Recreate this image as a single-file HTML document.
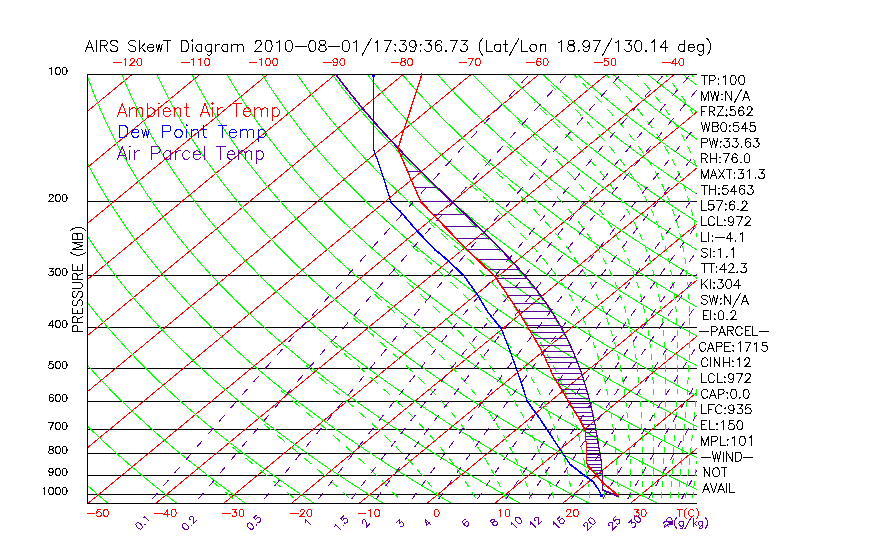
<!DOCTYPE html><html><head><meta charset="utf-8"><style>html,body{margin:0;padding:0;background:#fff;width:870px;height:560px;overflow:hidden}svg{display:block}text{font-family:"Liberation Sans",sans-serif}</style></head><body>
<svg width="870" height="560" viewBox="0 0 870 560">
<defs><clipPath id="c"><rect x="87" y="74" width="610" height="429"/></clipPath></defs>
<rect width="870" height="560" fill="#fff"/>
<g clip-path="url(#c)" fill="none" stroke-width="1" shape-rendering="crispEdges">
<path d="M87 201.5 H697" stroke="#000"/>
<path d="M87 275.5 H697" stroke="#000"/>
<path d="M87 327.5 H697" stroke="#000"/>
<path d="M87 368.5 H697" stroke="#000"/>
<path d="M87 401.5 H697" stroke="#000"/>
<path d="M87 429.5 H697" stroke="#000"/>
<path d="M87 453.5 H697" stroke="#000"/>
<path d="M87 475.5 H697" stroke="#000"/>
<path d="M87 494.5 H697" stroke="#000"/>
<path d="M-658.8 503.3 L-140.1 74.3" stroke="#ff0000" transform="translate(0.5 0.5)"/>
<path d="M-591.0 503.3 L-72.3 74.3" stroke="#ff0000" transform="translate(0.5 0.5)"/>
<path d="M-523.2 503.3 L-4.5 74.3" stroke="#ff0000" transform="translate(0.5 0.5)"/>
<path d="M-455.4 503.3 L63.3 74.3" stroke="#ff0000" transform="translate(0.5 0.5)"/>
<path d="M-387.6 503.3 L131.1 74.3" stroke="#ff0000" transform="translate(0.5 0.5)"/>
<path d="M-319.8 503.3 L198.9 74.3" stroke="#ff0000" transform="translate(0.5 0.5)"/>
<path d="M-252.0 503.3 L266.7 74.3" stroke="#ff0000" transform="translate(0.5 0.5)"/>
<path d="M-184.2 503.3 L334.5 74.3" stroke="#ff0000" transform="translate(0.5 0.5)"/>
<path d="M-116.4 503.3 L402.3 74.3" stroke="#ff0000" transform="translate(0.5 0.5)"/>
<path d="M-48.6 503.3 L470.1 74.3" stroke="#ff0000" transform="translate(0.5 0.5)"/>
<path d="M19.2 503.3 L537.9 74.3" stroke="#ff0000" transform="translate(0.5 0.5)"/>
<path d="M87.0 503.3 L605.7 74.3" stroke="#ff0000" transform="translate(0.5 0.5)"/>
<path d="M154.8 503.3 L673.5 74.3" stroke="#ff0000" transform="translate(0.5 0.5)"/>
<path d="M222.6 503.3 L741.3 74.3" stroke="#ff0000" transform="translate(0.5 0.5)"/>
<path d="M290.4 503.3 L809.1 74.3" stroke="#ff0000" transform="translate(0.5 0.5)"/>
<path d="M358.2 503.3 L876.9 74.3" stroke="#ff0000" transform="translate(0.5 0.5)"/>
<path d="M426.0 503.3 L944.7 74.3" stroke="#ff0000" transform="translate(0.5 0.5)"/>
<path d="M493.8 503.3 L1012.5 74.3" stroke="#ff0000" transform="translate(0.5 0.5)"/>
<path d="M561.6 503.3 L1080.3 74.3" stroke="#ff0000" transform="translate(0.5 0.5)"/>
<path d="M629.4 503.3 L1148.1 74.3" stroke="#ff0000" transform="translate(0.5 0.5)"/>
<path d="M697.2 503.3 L1215.9 74.3" stroke="#ff0000" transform="translate(0.5 0.5)"/>
<path d="M239.2 503.3 L238.9 503.0M232.6 497.9 L224.9 491.7M218.7 486.6 L211.1 480.4" stroke="#00ff00" transform="translate(0.5 0.5)"/>
<path d="M300.0 503.3 L299.6 503.0M293.7 497.9 L286.3 491.7M280.3 486.6 L272.8 480.4M266.6 475.3 L259.1 469.0M252.6 463.7 L245.0 457.4M238.9 452.4 L232.2 446.7" stroke="#00ff00" transform="translate(0.5 0.5)"/>
<path d="M354.9 503.3 L354.6 503.0M349.1 497.8 L342.5 491.6M336.8 486.4 L330.0 480.2M324.1 475.0 L317.0 468.9M311.0 463.6 L303.7 457.4M297.7 452.4 L290.3 446.1M284.3 441.0 L276.5 434.5M270.4 429.4 L263.0 423.2" stroke="#00ff00" transform="translate(0.5 0.5)"/>
<path d="M402.8 503.3 L402.5 502.9M398.1 497.9 L392.2 491.5M387.5 486.5 L381.5 480.2M376.3 475.0 L370.0 468.9M364.6 463.6 L358.0 457.5M352.3 452.3 L345.4 446.1M339.6 440.9 L332.5 434.7M326.6 429.5 L319.0 423.0M312.9 417.8 L305.6 411.5M299.3 406.2 L292.0 399.9M285.9 394.8 L280.2 389.9" stroke="#00ff00" transform="translate(0.5 0.5)"/>
<path d="M443.6 503.3 L443.4 502.9M439.7 497.7 L435.3 491.8M431.2 486.5 L426.4 480.4M422.0 475.1 L416.7 469.0M412.3 464.0 L406.4 457.5M401.7 452.5 L395.4 446.1M390.2 440.9 L383.8 434.7M378.4 429.5 L371.4 423.0M365.7 417.8 L358.9 411.7M353.0 406.4 L345.6 400.0M339.7 394.8 L332.2 388.3M326.2 383.1 L318.7 376.6M312.7 371.4 L305.2 364.9" stroke="#00ff00" transform="translate(0.5 0.5)"/>
<path d="M478.2 503.3 L478.0 502.9M475.1 497.7 L471.6 491.8M468.5 486.6 L464.5 480.3M461.0 475.1 L456.6 468.7M453.2 464.0 L448.4 457.6M444.5 452.5 L439.2 446.1M435.0 441.1 L429.4 434.7M424.5 429.3 L418.8 423.2M413.7 417.9 L407.5 411.7M402.2 406.4 L395.5 400.0M389.9 394.8 L382.9 388.3M377.2 383.1 L370.0 376.6M364.1 371.4 L356.8 364.9M350.9 359.7 L343.5 353.1M337.2 347.6 L329.8 341.1" stroke="#00ff00" transform="translate(0.5 0.5)"/>
<path d="M507.6 503.3 L507.4 502.9M505.3 497.9 L502.4 491.7M499.9 486.3 L496.9 480.3M494.2 475.1 L490.8 468.7M488.1 464.0 L484.3 457.6M481.1 452.5 L476.9 446.1M473.4 440.9 L468.9 434.6M465.0 429.4 L460.2 423.2M455.9 417.9 L450.5 411.4M446.2 406.4 L440.4 400.0M435.4 394.6 L429.3 388.3M424.1 383.1 L417.5 376.6M412.2 371.4 L405.3 364.9M399.7 359.7 L392.6 353.1M386.5 347.6 L379.3 341.1M373.5 335.9 L366.2 329.4M359.9 323.9 L352.6 317.4" stroke="#00ff00" transform="translate(0.5 0.5)"/>
<path d="M532.7 503.3 L532.5 502.9M530.9 497.9 L528.8 491.7M526.9 486.3 L524.5 480.1M522.5 475.1 L519.9 468.9M517.8 464.0 L514.9 457.7M512.3 452.4 L509.1 446.1M506.3 440.9 L502.8 434.6M499.7 429.4 L495.8 423.1M492.4 417.9 L488.1 411.5M484.4 406.4 L479.7 400.0M475.5 394.6 L470.3 388.2M466.1 383.2 L460.5 376.7M455.7 371.4 L449.7 364.9M444.6 359.7 L438.1 353.1M432.5 347.6 L425.8 341.1M420.3 335.9 L413.3 329.4M407.3 323.9 L400.2 317.4M394.5 312.2 L386.9 305.4M381.1 300.2 L373.6 293.4" stroke="#00ff00" transform="translate(0.5 0.5)"/>
<path d="M554.4 503.3 L554.3 502.9M553.1 497.9 L551.5 491.7M550.0 486.3 L548.3 480.1M546.8 475.1 L544.8 468.9M543.2 464.0 L541.0 457.7M539.0 452.4 L536.6 446.1M534.4 440.7 L531.7 434.5M529.4 429.6 L526.4 423.3M523.7 417.9 L520.3 411.5M517.4 406.4 L513.6 400.0M510.4 394.9 L506.0 388.1M502.5 382.9 L497.9 376.6M494.0 371.4 L489.0 364.9M484.6 359.6 L479.1 353.1M474.4 347.8 L468.5 341.4M463.4 336.0 L457.1 329.4M451.6 323.9 L444.9 317.4M439.5 312.2 L432.3 305.4M426.7 300.2 L419.4 293.4M413.7 288.2 L406.2 281.3M400.5 276.1 L393.0 269.3" stroke="#00ff00" transform="translate(0.5 0.5)"/>
<path d="M573.4 503.3 L573.3 502.9M572.4 497.9 L571.2 491.7M570.2 486.3 L568.9 480.1M567.8 475.1 L566.4 468.9M565.2 464.0 L563.5 457.7M562.1 452.4 L560.3 446.1M558.6 440.7 L556.6 434.5M554.9 429.6 L552.6 423.3M550.5 417.9 L548.0 411.7M545.6 406.3 L542.8 400.1M540.2 394.7 L536.8 388.1M534.0 382.9 L530.4 376.6M527.3 371.4 L523.0 364.7M519.5 359.5 L515.1 353.1M511.0 347.6 L506.2 341.4M501.9 336.0 L496.3 329.2M491.6 323.8 L485.8 317.4M480.8 312.0 L474.7 305.6M469.3 300.2 L462.5 293.4M457.1 288.2 L450.0 281.3M444.5 276.1 L437.2 269.3M431.3 263.8 L424.2 257.3M418.2 251.7 L410.9 244.9" stroke="#00ff00" transform="translate(0.5 0.5)"/>
<path d="M590.1 503.3 L590.0 502.9M589.4 497.9 L588.6 491.7M587.9 486.3 L587.0 480.1M586.2 475.1 L585.2 468.9M584.3 464.0 L583.2 457.7M582.1 452.4 L580.8 446.1M579.6 440.7 L578.1 434.5M576.9 429.6 L575.2 423.3M573.6 417.9 L571.7 411.7M570.0 406.3 L567.8 400.1M565.8 394.7 L563.4 388.5M561.2 383.1 L558.2 376.4M555.9 371.5 L552.6 364.7M549.9 359.5 L546.3 353.1M543.1 347.6 L539.1 341.2M535.8 336.1 L531.1 329.3M527.4 324.2 L522.3 317.4M518.0 312.0 L512.7 305.6M508.1 300.2 L502.1 293.4M497.2 288.1 L490.7 281.3M485.7 276.1 L478.9 269.3M473.3 263.8 L466.5 257.3M460.7 251.7 L453.5 244.9M447.6 239.4 L440.7 232.9M434.7 227.4 L427.8 220.9" stroke="#00ff00" transform="translate(0.5 0.5)"/>
<path d="M605.0 503.3 L604.9 502.9M604.6 497.9 L604.1 491.7M603.6 486.3 L603.0 480.1M602.5 475.1 L601.8 468.9M601.2 464.0 L600.4 457.7M599.7 452.4 L598.8 446.1M598.0 440.7 L596.9 434.5M596.0 429.6 L594.8 423.3M593.7 417.9 L592.4 411.7M591.1 406.3 L589.5 400.1M588.1 394.7 L586.2 388.5M584.6 383.1 L582.4 376.4M580.6 371.5 L578.1 364.8M576.0 359.4 L573.3 353.1M570.8 347.8 L567.7 341.2M565.0 336.1 L561.3 329.3M558.4 324.2 L554.2 317.4M550.9 312.2 L546.3 305.5M542.3 299.9 L537.5 293.4M533.3 288.1 L527.7 281.3M523.1 275.9 L517.4 269.5M512.2 263.8 L506.1 257.3M500.7 251.7 L493.9 244.9M488.3 239.4 L481.6 232.9M475.8 227.4 L468.7 220.6M462.8 215.0 L455.6 208.2M449.8 202.7 L446.3 199.4" stroke="#00ff00" transform="translate(0.5 0.5)"/>
<path d="M618.3 503.3 L618.3 502.9M618.1 497.9 L617.9 491.7M617.6 486.3 L617.3 480.1M617.0 475.1 L616.6 468.9M616.2 464.0 L615.8 457.7M615.3 452.4 L614.7 446.1M614.2 440.7 L613.5 434.5M612.9 429.6 L612.1 423.3M611.4 417.9 L610.4 411.7M609.6 406.3 L608.5 400.1M607.4 394.7 L606.1 388.5M605.0 383.1 L603.3 376.4M602.1 371.5 L600.2 364.8M598.6 359.4 L596.6 353.1M594.8 347.8 L592.3 341.1M590.2 335.7 L587.6 329.5M585.2 324.1 L582.0 317.4M579.4 312.2 L575.7 305.5M572.5 299.9 L568.7 293.6M565.1 288.0 L560.5 281.3M556.8 276.1 L551.8 269.5M547.3 263.8 L542.0 257.3M537.2 251.6 L531.4 245.2M526.2 239.5 L519.8 232.7M514.6 227.4 L507.9 220.6M502.3 215.0 L495.3 208.2M489.6 202.7 L482.5 195.9M476.7 190.3 L469.6 183.5" stroke="#00ff00" transform="translate(0.5 0.5)"/>
<path d="M630.4 503.3 L630.4 502.9M630.4 497.9 L630.3 491.7M630.2 486.3 L630.1 480.1M630.0 475.1 L629.8 468.9M629.7 464.0 L629.5 457.7M629.3 452.4 L629.0 446.1M628.7 440.7 L628.3 434.5M627.9 429.6 L627.5 423.3M627.0 417.9 L626.4 411.7M625.9 406.3 L625.2 400.1M624.5 394.7 L623.6 388.5M622.8 383.1 L621.7 376.4M620.8 371.5 L619.5 364.8M618.4 359.4 L617.0 353.1M615.6 347.8 L613.8 341.1M612.3 335.7 L610.3 329.5M608.5 324.1 L606.1 317.4M604.0 312.0 L601.2 305.3M598.8 300.0 L595.6 293.3M592.9 288.0 L589.3 281.3M586.3 276.1 L582.1 269.3M578.5 263.8 L573.9 257.0M570.2 251.9 L565.1 245.2M560.6 239.5 L555.0 232.7M550.3 227.3 L544.3 220.5M539.3 215.2 L532.9 208.4M527.4 202.7 L520.6 195.9M515.0 190.3 L508.1 183.5M502.4 178.0 L495.3 171.2M489.3 165.3 L482.6 158.8" stroke="#00ff00" transform="translate(0.5 0.5)"/>
<path d="M641.4 503.3 L641.4 502.9M641.5 497.9 L641.6 491.7M641.7 486.3 L641.8 480.1M641.8 475.1 L641.8 468.9M641.8 464.0 L641.8 457.7M641.8 452.4 L641.7 446.1M641.7 440.7 L641.5 434.5M641.4 429.6 L641.2 423.3M641.0 417.9 L640.7 411.7M640.4 406.3 L640.0 400.1M639.6 394.7 L639.1 388.5M638.6 383.1 L637.9 376.4M637.4 371.5 L636.5 364.8M635.8 359.4 L634.8 353.1M633.9 347.8 L632.6 341.1M631.5 335.7 L630.1 329.5M628.8 324.1 L627.1 317.4M625.5 312.0 L623.4 305.3M621.6 300.0 L619.2 293.3M617.1 287.9 L614.5 281.7M611.9 275.8 L608.7 269.1M605.9 263.8 L602.2 257.0M599.2 251.9 L595.0 245.1M591.3 239.5 L586.6 232.8M582.5 227.2 L577.4 220.5M573.1 215.2 L567.4 208.4M562.4 202.6 L556.3 195.9M550.9 190.1 L544.4 183.3M539.2 178.0 L532.5 171.2M526.6 165.3 L519.6 158.5M514.0 153.0 L506.6 145.8M501.0 140.3 L500.0 139.3" stroke="#00ff00" transform="translate(0.5 0.5)"/>
<path d="M651.5 503.3 L651.5 502.9M651.7 497.9 L651.9 491.7M652.1 486.3 L652.4 480.1M652.5 475.1 L652.7 468.9M652.9 464.0 L653.1 457.7M653.2 452.4 L653.3 446.1M653.4 440.7 L653.5 434.5M653.5 429.6 L653.6 423.3M653.6 417.9 L653.5 411.7M653.4 406.3 L653.3 400.1M653.2 394.7 L653.0 388.5M652.7 383.1 L652.4 376.4M652.1 371.5 L651.6 364.8M651.2 359.4 L650.6 353.1M650.0 347.8 L649.2 341.1M648.5 335.7 L647.5 329.5M646.7 324.1 L645.4 317.4M644.4 312.0 L642.9 305.3M641.6 300.0 L639.8 293.3M638.3 287.9 L636.3 281.7M634.4 275.8 L631.9 269.1M629.8 263.8 L626.9 257.1M624.5 251.7 L621.2 245.1M618.3 239.5 L614.5 232.8M611.2 227.2 L606.9 220.5M603.1 214.9 L598.3 208.2M594.2 202.6 L588.9 195.9M584.2 190.1 L578.4 183.3M573.6 178.0 L567.1 170.8M562.0 165.5 L555.2 158.3M549.9 153.0 L542.8 145.8M537.2 140.3 L530.3 133.5M524.4 127.6 L517.5 120.8" stroke="#00ff00" transform="translate(0.5 0.5)"/>
<path d="M660.7 503.3 L660.7 502.9M661.0 497.9 L661.4 491.7M661.7 486.3 L662.1 480.1M662.4 475.1 L662.7 468.9M663.0 464.0 L663.3 457.7M663.6 452.4 L663.9 446.1M664.1 440.7 L664.4 434.5M664.6 429.6 L664.8 423.3M664.9 417.9 L665.1 411.7M665.2 406.3 L665.3 400.1M665.4 394.7 L665.4 388.5M665.4 383.1 L665.3 376.4M665.3 371.5 L665.1 364.8M664.9 359.4 L664.7 353.1M664.4 347.8 L663.9 341.1M663.5 335.7 L663.0 329.5M662.5 324.1 L661.7 317.4M661.0 312.0 L660.0 305.3M659.1 300.0 L657.9 293.3M656.8 287.9 L655.5 281.7M654.0 275.8 L652.2 269.1M650.7 263.8 L648.6 257.1M646.7 251.7 L644.2 245.0M642.0 239.6 L639.1 232.9M636.3 227.1 L633.0 220.5M629.9 214.9 L626.0 208.2M622.6 202.6 L618.2 195.9M614.3 190.3 L609.3 183.5M605.1 178.0 L599.3 170.8M594.8 165.5 L588.5 158.3M583.7 153.0 L577.1 145.8M572.0 140.4 L565.2 133.5M559.5 127.6 L552.7 120.8M546.8 114.9 L539.9 108.1M534.1 102.2 L533.7 101.9" stroke="#00ff00" transform="translate(0.5 0.5)"/>
<path d="M669.3 503.3 L669.3 502.9M669.7 497.9 L670.1 491.7M670.6 486.3 L671.0 480.1M671.4 475.1 L671.9 468.9M672.2 464.0 L672.7 457.7M673.1 452.4 L673.5 446.1M673.9 440.7 L674.3 434.5M674.6 429.6 L675.0 423.3M675.3 417.9 L675.7 411.7M675.9 406.3 L676.2 400.1M676.5 394.7 L676.7 388.5M676.9 383.1 L677.1 376.4M677.2 371.5 L677.3 364.8M677.3 359.4 L677.3 353.1M677.3 347.8 L677.2 341.1M677.0 335.7 L676.8 329.5M676.5 324.1 L676.2 317.4M675.8 312.0 L675.2 305.3M674.7 300.0 L673.9 293.3M673.2 287.9 L672.3 281.7M671.4 275.8 L670.1 269.1M669.0 263.8 L667.5 257.1M666.2 251.7 L664.3 245.0M662.7 239.6 L660.5 232.9M658.4 227.1 L655.8 220.4M653.6 215.1 L650.5 208.4M647.7 202.6 L644.1 195.9M641.0 190.3 L636.9 183.5M633.3 178.0 L628.4 170.8M624.4 165.3 L619.1 158.3M614.9 153.0 L608.9 145.8M604.3 140.4 L597.9 133.3M592.7 127.6 L586.3 120.8M580.8 115.1 L574.0 108.1M568.2 102.2 L561.5 95.4M555.6 89.6 L550.1 84.1" stroke="#00ff00" transform="translate(0.5 0.5)"/>
<path d="M677.2 503.3 L677.2 502.9M677.7 497.9 L678.2 491.7M678.7 486.3 L679.3 480.1M679.8 475.1 L680.3 468.9M680.8 464.0 L681.4 457.7M681.9 452.4 L682.4 446.1M682.9 440.7 L683.4 434.5M683.9 429.6 L684.4 423.3M684.8 417.9 L685.3 411.7M685.7 406.3 L686.2 400.1M686.6 394.7 L687.0 388.5M687.3 383.1 L687.7 376.4M688.0 371.5 L688.3 364.8M688.5 359.4 L688.8 353.1M688.9 347.8 L689.1 341.1M689.2 335.7 L689.2 329.5M689.2 324.1 L689.1 317.4M689.0 312.0 L688.8 305.3M688.6 300.0 L688.2 293.3M687.8 287.9 L687.3 281.7M686.7 275.8 L686.0 269.1M685.3 263.8 L684.3 257.1M683.4 251.7 L682.1 245.0M681.0 239.6 L679.4 232.9M677.9 227.1 L675.9 220.4M674.2 215.1 L671.9 208.4M669.7 202.6 L667.0 195.9M664.6 190.5 L661.2 183.3M658.4 178.0 L654.4 170.8M651.1 165.3 L646.8 158.5M643.1 153.0 L638.0 145.8M634.0 140.4 L628.3 133.3M623.6 127.6 L617.8 120.8M612.7 115.1 L606.2 107.9M600.9 102.2 L594.4 95.4M588.9 89.7 L581.8 82.4M576.3 76.9 L573.8 74.3" stroke="#00ff00" transform="translate(0.5 0.5)"/>
<path d="M684.6 503.3 L684.6 502.9M685.1 497.9 L685.8 491.7M686.3 486.3 L687.0 480.1M687.5 475.1 L688.2 468.9M688.7 464.0 L689.4 457.7M690.0 452.4 L690.6 446.1M691.2 440.7 L691.9 434.5M692.4 429.6 L693.0 423.3M693.6 417.9 L694.2 411.7M694.7 406.3 L695.3 400.1M695.8 394.7 L696.4 388.5M696.9 383.1 L697.4 376.4M697.8 371.5 L698.4 364.8M698.7 359.4 L699.2 353.1M699.5 347.8 L699.9 341.1M700.2 335.7 L700.4 329.5M700.6 324.1 L700.8 317.4M700.9 312.0 L701.0 305.3M701.1 300.0 L701.0 293.3M700.9 287.9 L700.7 281.7M700.5 275.8 L700.1 269.1M699.7 263.8 L699.2 257.1M698.6 251.7 L697.8 245.0M697.1 239.6 L696.0 232.9M695.0 227.1 L693.7 220.4M692.5 215.1 L690.8 208.4M689.2 202.6 L687.1 195.9M685.3 190.5 L682.7 183.3M680.6 178.0 L677.4 170.8M674.9 165.5 L671.4 158.5M668.3 153.0 L664.1 145.8M660.6 140.2 L656.1 133.5M651.9 127.5 L646.8 120.8M642.3 115.1 L636.5 107.9M631.6 102.2 L625.6 95.4M620.4 89.7 L613.8 82.5M608.3 76.8 L605.9 74.3" stroke="#00ff00" transform="translate(0.5 0.5)"/>
<path d="M691.4 503.3 L691.5 502.9M692.1 497.9 L692.8 491.7M693.4 486.3 L694.2 480.1M694.8 475.1 L695.5 468.9M696.1 464.0 L696.9 457.7M697.5 452.4 L698.3 446.1M698.9 440.7 L699.7 434.5M700.3 429.6 L701.0 423.3M701.7 417.9 L702.4 411.7M703.1 406.3 L703.8 400.1M704.4 394.7 L705.1 388.5M705.7 383.1 L706.4 376.4M706.9 371.5 L707.6 364.8M708.1 359.4 L708.7 353.1M709.2 347.8 L709.8 341.1M710.2 335.7 L710.7 329.5M711.0 324.1 L711.5 317.4M711.8 312.0 L712.1 305.3M712.3 300.0 L712.6 293.3M712.7 287.9 L712.8 281.7M712.8 275.8 L712.8 269.1M712.7 263.8 L712.5 257.1M712.3 251.7 L711.9 245.0M711.5 239.6 L710.9 232.9M710.2 227.1 L709.4 220.4M708.6 215.1 L707.5 208.4M706.4 202.6 L704.9 195.9M703.6 190.5 L701.7 183.3M700.1 178.0 L697.8 170.8M695.8 165.5 L693.0 158.3M690.7 153.0 L687.3 145.8M684.5 140.2 L680.8 133.5M677.3 127.5 L673.1 120.8M669.1 114.8 L664.3 108.1M659.9 102.2 L654.6 95.4M649.9 89.7 L643.8 82.5M638.7 76.8 L636.5 74.3" stroke="#00ff00" transform="translate(0.5 0.5)"/>
<path d="M697.9 503.3 L698.0 502.9M698.6 497.9 L699.4 491.7M700.1 486.3 L700.9 480.1M701.5 475.1 L702.3 468.9M703.0 464.0 L703.8 457.7M704.5 452.4 L705.4 446.1M706.1 440.7 L707.0 434.5M707.6 429.6 L708.5 423.3M709.2 417.9 L710.0 411.7M710.8 406.3 L711.6 400.1M712.3 394.7 L713.1 388.5M713.8 383.1 L714.7 376.4M715.3 371.5 L716.1 364.8M716.7 359.4 L717.5 353.1M718.1 347.8 L718.8 341.1M719.4 335.7 L720.0 329.5M720.6 324.1 L721.2 317.4M721.7 312.0 L722.2 305.3M722.6 300.0 L723.1 293.3M723.4 287.9 L723.8 281.7M724.0 275.8 L724.3 269.1M724.4 263.8 L724.5 257.1M724.5 251.7 L724.5 245.0M724.4 239.6 L724.1 232.9M723.9 227.1 L723.4 220.4M723.0 215.1 L722.3 208.4M721.6 202.6 L720.7 195.9M719.8 190.5 L718.5 183.3M717.4 178.0 L715.7 170.8M714.3 165.5 L712.2 158.3M710.4 153.0 L707.9 145.8M705.7 140.4 L702.7 133.3M699.9 127.5 L696.5 120.8M693.3 114.8 L689.3 108.1M685.5 102.1 L681.0 95.4M676.7 89.4 L671.6 82.5M667.1 76.8 L665.1 74.3" stroke="#00ff00" transform="translate(0.5 0.5)"/>
<path d="M704.0 503.3 L704.0 502.9M704.7 497.9 L705.5 491.7M706.3 486.3 L707.1 480.1M707.8 475.1 L708.7 468.9M709.4 464.0 L710.3 457.7M711.1 452.4 L712.0 446.1M712.8 440.7 L713.8 434.5M714.5 429.6 L715.4 423.3M716.2 417.9 L717.1 411.7M717.9 406.3 L718.9 400.1M719.7 394.7 L720.6 388.5M721.4 383.1 L722.3 376.4M723.0 371.5 L724.0 364.8M724.7 359.4 L725.6 353.1M726.3 347.8 L727.2 341.1M727.9 335.7 L728.7 329.5M729.3 324.1 L730.1 317.4M730.7 312.0 L731.5 305.3M732.0 300.0 L732.7 293.3M733.2 287.9 L733.7 281.7M734.2 275.8 L734.7 269.1M735.0 263.8 L735.4 257.1M735.6 251.7 L735.9 245.0M736.0 239.6 L736.1 232.9M736.1 227.1 L736.0 220.4M735.9 215.1 L735.6 208.4M735.3 202.6 L734.8 195.9M734.3 190.5 L733.5 183.3M732.8 178.0 L731.7 170.8M730.7 165.5 L729.2 158.3M728.0 153.0 L726.1 145.8M724.5 140.4 L722.2 133.3M720.1 127.5 L717.4 120.8M714.9 115.0 L711.5 107.8M708.6 102.1 L704.8 95.4M701.3 89.4 L697.0 82.6M693.0 76.7 L691.3 74.3" stroke="#00ff00" transform="translate(0.5 0.5)"/>
<path d="M108.3 503.3 L104.0 499.7 L99.8 496.2 L95.6 492.6 L91.5 489.0 L87.5 485.4 L83.5 481.9 L79.5 478.3 L75.6 474.7 L71.7 471.1 L67.9 467.6 L64.1 464.0 L60.3 460.4 L56.6 456.8 L53.0 453.2 L49.4 449.7 L45.8 446.1 L42.3 442.5 L38.8 438.9 L35.4 435.4 L32.0 431.8 L28.7 428.2 L25.4 424.7 L22.1 421.1 L18.9 417.5 L15.7 413.9 L12.6 410.4 L9.5 406.8 L6.5 403.2 L3.5 399.6 L0.5 396.1 L-2.4 392.5 L-5.3 388.9 L-8.1 385.3 L-11.0 381.8 L-13.7 378.2 L-16.4 374.6 L-19.1 371.0 L-21.8 367.5 L-24.4 363.9 L-26.9 360.3 L-29.5 356.7 L-32.0 353.1 L-34.4 349.6 L-36.8 346.0 L-39.2 342.4 L-41.6 338.9 L-43.9 335.3 L-46.1 331.7 L-48.4 328.1 L-50.6 324.6 L-52.7 321.0 L-54.8 317.4 L-56.9 313.8 L-59.0 310.3 L-61.0 306.7 L-63.0 303.1 L-64.9 299.5 L-66.8 295.9 L-68.7 292.4 L-70.5 288.8 L-72.3 285.2 L-74.1 281.7 L-75.8 278.1 L-77.5 274.5 L-79.2 270.9 L-80.8 267.4 L-82.4 263.8 L-84.0 260.2 L-85.5 256.6 L-87.0 253.0 L-88.5 249.5 L-89.9 245.9 L-91.3 242.3 L-92.7 238.8 L-94.1 235.2 L-95.4 231.6 L-96.6 228.0 L-97.9 224.4 L-99.1 220.9 L-100.3 217.3 L-101.4 213.7 L-102.6 210.2 L-103.7 206.6 L-104.7 203.0 L-105.8 199.4 L-106.8 195.9 L-107.7 192.3 L-108.7 188.7 L-109.6 185.1 L-110.5 181.6 L-111.3 178.0 L-112.2 174.4 L-112.9 170.8 L-113.7 167.2 L-114.5 163.7 L-115.2 160.1 L-115.9 156.5 L-116.5 153.0 L-117.1 149.4 L-117.7 145.8 L-118.3 142.2 L-118.9 138.7 L-119.4 135.1 L-119.9 131.5 L-120.3 127.9 L-120.8 124.3 L-121.2 120.8 L-121.6 117.2 L-121.9 113.6 L-122.3 110.1 L-122.6 106.5 L-122.8 102.9 L-123.1 99.3 L-123.3 95.7 L-123.5 92.2 L-123.7 88.6 L-123.9 85.0 L-124.0 81.5 L-124.1 77.9 L-124.2 74.3" stroke="#00ff00" transform="translate(0.5 0.5)"/>
<path d="M177.0 503.3 L172.4 499.7 L167.8 496.2 L163.3 492.6 L158.8 489.0 L154.3 485.4 L149.9 481.9 L145.6 478.3 L141.3 474.7 L137.1 471.1 L132.9 467.6 L128.7 464.0 L124.6 460.4 L120.6 456.8 L116.6 453.2 L112.6 449.7 L108.7 446.1 L104.8 442.5 L101.0 438.9 L97.2 435.4 L93.5 431.8 L89.8 428.2 L86.2 424.7 L82.6 421.1 L79.0 417.5 L75.5 413.9 L72.0 410.4 L68.6 406.8 L65.2 403.2 L61.9 399.6 L58.6 396.1 L55.4 392.5 L52.2 388.9 L49.0 385.3 L45.9 381.8 L42.8 378.2 L39.7 374.6 L36.8 371.0 L33.8 367.5 L30.9 363.9 L28.0 360.3 L25.2 356.7 L22.4 353.1 L19.6 349.6 L16.9 346.0 L14.2 342.4 L11.6 338.9 L9.0 335.3 L6.4 331.7 L3.9 328.1 L1.4 324.6 L-1.0 321.0 L-3.5 317.4 L-5.8 313.8 L-8.2 310.3 L-10.5 306.7 L-12.7 303.1 L-14.9 299.5 L-17.1 295.9 L-19.3 292.4 L-21.4 288.8 L-23.5 285.2 L-25.5 281.7 L-27.5 278.1 L-29.5 274.5 L-31.4 270.9 L-33.3 267.4 L-35.2 263.8 L-37.0 260.2 L-38.8 256.6 L-40.6 253.0 L-42.3 249.5 L-44.0 245.9 L-45.7 242.3 L-47.3 238.8 L-48.9 235.2 L-50.5 231.6 L-52.0 228.0 L-53.5 224.4 L-54.9 220.9 L-56.4 217.3 L-57.8 213.7 L-59.1 210.2 L-60.5 206.6 L-61.8 203.0 L-63.1 199.4 L-64.3 195.9 L-65.5 192.3 L-66.7 188.7 L-67.8 185.1 L-69.0 181.6 L-70.0 178.0 L-71.1 174.4 L-72.1 170.8 L-73.1 167.2 L-74.1 163.7 L-75.0 160.1 L-75.9 156.5 L-76.8 153.0 L-77.7 149.4 L-78.5 145.8 L-79.3 142.2 L-80.0 138.7 L-80.8 135.1 L-81.5 131.5 L-82.2 127.9 L-82.8 124.3 L-83.4 120.8 L-84.0 117.2 L-84.6 113.6 L-85.1 110.1 L-85.7 106.5 L-86.1 102.9 L-86.6 99.3 L-87.0 95.7 L-87.4 92.2 L-87.8 88.6 L-88.2 85.0 L-88.5 81.5 L-88.8 77.9 L-89.1 74.3" stroke="#00ff00" transform="translate(0.5 0.5)"/>
<path d="M245.8 503.3 L240.7 499.7 L235.8 496.2 L230.9 492.6 L226.0 489.0 L221.2 485.4 L216.4 481.9 L211.7 478.3 L207.0 474.7 L202.4 471.1 L197.9 467.6 L193.4 464.0 L188.9 460.4 L184.5 456.8 L180.1 453.2 L175.8 449.7 L171.5 446.1 L167.3 442.5 L163.2 438.9 L159.0 435.4 L155.0 431.8 L150.9 428.2 L146.9 424.7 L143.0 421.1 L139.1 417.5 L135.3 413.9 L131.5 410.4 L127.7 406.8 L124.0 403.2 L120.3 399.6 L116.7 396.1 L113.2 392.5 L109.6 388.9 L106.1 385.3 L102.7 381.8 L99.3 378.2 L95.9 374.6 L92.6 371.0 L89.4 367.5 L86.1 363.9 L82.9 360.3 L79.8 356.7 L76.7 353.1 L73.6 349.6 L70.6 346.0 L67.6 342.4 L64.7 338.9 L61.8 335.3 L58.9 331.7 L56.1 328.1 L53.4 324.6 L50.6 321.0 L47.9 317.4 L45.3 313.8 L42.6 310.3 L40.1 306.7 L37.5 303.1 L35.0 299.5 L32.5 295.9 L30.1 292.4 L27.7 288.8 L25.4 285.2 L23.1 281.7 L20.8 278.1 L18.5 274.5 L16.3 270.9 L14.2 267.4 L12.0 263.8 L9.9 260.2 L7.9 256.6 L5.9 253.0 L3.9 249.5 L1.9 245.9 L-0.0 242.3 L-1.9 238.8 L-3.7 235.2 L-5.5 231.6 L-7.3 228.0 L-9.1 224.4 L-10.8 220.9 L-12.5 217.3 L-14.1 213.7 L-15.7 210.2 L-17.3 206.6 L-18.8 203.0 L-20.4 199.4 L-21.8 195.9 L-23.3 192.3 L-24.7 188.7 L-26.1 185.1 L-27.4 181.6 L-28.8 178.0 L-30.0 174.4 L-31.3 170.8 L-32.5 167.2 L-33.7 163.7 L-34.9 160.1 L-36.0 156.5 L-37.1 153.0 L-38.2 149.4 L-39.2 145.8 L-40.2 142.2 L-41.2 138.7 L-42.2 135.1 L-43.1 131.5 L-44.0 127.9 L-44.9 124.3 L-45.7 120.8 L-46.5 117.2 L-47.3 113.6 L-48.0 110.1 L-48.7 106.5 L-49.4 102.9 L-50.1 99.3 L-50.7 95.7 L-51.4 92.2 L-51.9 88.6 L-52.5 85.0 L-53.0 81.5 L-53.5 77.9 L-54.0 74.3" stroke="#00ff00" transform="translate(0.5 0.5)"/>
<path d="M314.5 503.3 L309.1 499.7 L303.8 496.2 L298.5 492.6 L293.2 489.0 L288.0 485.4 L282.9 481.9 L277.8 478.3 L272.8 474.7 L267.8 471.1 L262.9 467.6 L258.0 464.0 L253.2 460.4 L248.4 456.8 L243.7 453.2 L239.0 449.7 L234.4 446.1 L229.8 442.5 L225.3 438.9 L220.8 435.4 L216.4 431.8 L212.0 428.2 L207.7 424.7 L203.4 421.1 L199.2 417.5 L195.0 413.9 L190.9 410.4 L186.8 406.8 L182.8 403.2 L178.8 399.6 L174.8 396.1 L170.9 392.5 L167.1 388.9 L163.3 385.3 L159.5 381.8 L155.8 378.2 L152.1 374.6 L148.5 371.0 L144.9 367.5 L141.4 363.9 L137.9 360.3 L134.4 356.7 L131.0 353.1 L127.7 349.6 L124.3 346.0 L121.1 342.4 L117.8 338.9 L114.6 335.3 L111.5 331.7 L108.4 328.1 L105.3 324.6 L102.3 321.0 L99.3 317.4 L96.3 313.8 L93.4 310.3 L90.6 306.7 L87.8 303.1 L85.0 299.5 L82.2 295.9 L79.5 292.4 L76.9 288.8 L74.2 285.2 L71.6 281.7 L69.1 278.1 L66.6 274.5 L64.1 270.9 L61.7 267.4 L59.3 263.8 L56.9 260.2 L54.6 256.6 L52.3 253.0 L50.1 249.5 L47.8 245.9 L45.7 242.3 L43.5 238.8 L41.4 235.2 L39.4 231.6 L37.3 228.0 L35.3 224.4 L33.4 220.9 L31.4 217.3 L29.6 213.7 L27.7 210.2 L25.9 206.6 L24.1 203.0 L22.3 199.4 L20.6 195.9 L18.9 192.3 L17.3 188.7 L15.7 185.1 L14.1 181.6 L12.5 178.0 L11.0 174.4 L9.5 170.8 L8.1 167.2 L6.7 163.7 L5.3 160.1 L3.9 156.5 L2.6 153.0 L1.3 149.4 L0.0 145.8 L-1.2 142.2 L-2.4 138.7 L-3.6 135.1 L-4.7 131.5 L-5.8 127.9 L-6.9 124.3 L-7.9 120.8 L-9.0 117.2 L-10.0 113.6 L-10.9 110.1 L-11.8 106.5 L-12.7 102.9 L-13.6 99.3 L-14.5 95.7 L-15.3 92.2 L-16.0 88.6 L-16.8 85.0 L-17.5 81.5 L-18.2 77.9 L-18.9 74.3" stroke="#00ff00" transform="translate(0.5 0.5)"/>
<path d="M383.3 503.3 L377.5 499.7 L371.7 496.2 L366.1 492.6 L360.5 489.0 L354.9 485.4 L349.4 481.9 L343.9 478.3 L338.5 474.7 L333.2 471.1 L327.9 467.6 L322.7 464.0 L317.5 460.4 L312.3 456.8 L307.3 453.2 L302.2 449.7 L297.3 446.1 L292.3 442.5 L287.5 438.9 L282.7 435.4 L277.9 431.8 L273.2 428.2 L268.5 424.7 L263.9 421.1 L259.3 417.5 L254.8 413.9 L250.3 410.4 L245.9 406.8 L241.5 403.2 L237.2 399.6 L233.0 396.1 L228.7 392.5 L224.6 388.9 L220.4 385.3 L216.3 381.8 L212.3 378.2 L208.3 374.6 L204.4 371.0 L200.5 367.5 L196.6 363.9 L192.8 360.3 L189.1 356.7 L185.4 353.1 L181.7 349.6 L178.1 346.0 L174.5 342.4 L171.0 338.9 L167.5 335.3 L164.0 331.7 L160.6 328.1 L157.3 324.6 L153.9 321.0 L150.7 317.4 L147.4 313.8 L144.2 310.3 L141.1 306.7 L138.0 303.1 L134.9 299.5 L131.9 295.9 L128.9 292.4 L126.0 288.8 L123.1 285.2 L120.2 281.7 L117.4 278.1 L114.6 274.5 L111.9 270.9 L109.2 267.4 L106.5 263.8 L103.9 260.2 L101.3 256.6 L98.7 253.0 L96.2 249.5 L93.8 245.9 L91.3 242.3 L88.9 238.8 L86.6 235.2 L84.3 231.6 L82.0 228.0 L79.7 224.4 L77.5 220.9 L75.4 217.3 L73.2 213.7 L71.1 210.2 L69.1 206.6 L67.0 203.0 L65.0 199.4 L63.1 195.9 L61.2 192.3 L59.3 188.7 L57.4 185.1 L55.6 181.6 L53.8 178.0 L52.1 174.4 L50.4 170.8 L48.7 167.2 L47.0 163.7 L45.4 160.1 L43.8 156.5 L42.3 153.0 L40.8 149.4 L39.3 145.8 L37.8 142.2 L36.4 138.7 L35.0 135.1 L33.7 131.5 L32.3 127.9 L31.1 124.3 L29.8 120.8 L28.6 117.2 L27.4 113.6 L26.2 110.1 L25.1 106.5 L24.0 102.9 L22.9 99.3 L21.8 95.7 L20.8 92.2 L19.8 88.6 L18.9 85.0 L18.0 81.5 L17.1 77.9 L16.2 74.3" stroke="#00ff00" transform="translate(0.5 0.5)"/>
<path d="M452.0 503.3 L445.9 499.7 L439.7 496.2 L433.7 492.6 L427.7 489.0 L421.7 485.4 L415.9 481.9 L410.0 478.3 L404.3 474.7 L398.6 471.1 L392.9 467.6 L387.3 464.0 L381.7 460.4 L376.3 456.8 L370.8 453.2 L365.4 449.7 L360.1 446.1 L354.8 442.5 L349.6 438.9 L344.5 435.4 L339.3 431.8 L334.3 428.2 L329.3 424.7 L324.3 421.1 L319.4 417.5 L314.6 413.9 L309.8 410.4 L305.0 406.8 L300.3 403.2 L295.7 399.6 L291.1 396.1 L286.5 392.5 L282.0 388.9 L277.6 385.3 L273.2 381.8 L268.8 378.2 L264.5 374.6 L260.3 371.0 L256.1 367.5 L251.9 363.9 L247.8 360.3 L243.7 356.7 L239.7 353.1 L235.7 349.6 L231.8 346.0 L227.9 342.4 L224.1 338.9 L220.3 335.3 L216.6 331.7 L212.9 328.1 L209.2 324.6 L205.6 321.0 L202.0 317.4 L198.5 313.8 L195.0 310.3 L191.6 306.7 L188.2 303.1 L184.9 299.5 L181.6 295.9 L178.3 292.4 L175.1 288.8 L171.9 285.2 L168.8 281.7 L165.7 278.1 L162.6 274.5 L159.6 270.9 L156.7 267.4 L153.7 263.8 L150.8 260.2 L148.0 256.6 L145.2 253.0 L142.4 249.5 L139.7 245.9 L137.0 242.3 L134.4 238.8 L131.7 235.2 L129.2 231.6 L126.6 228.0 L124.1 224.4 L121.7 220.9 L119.3 217.3 L116.9 213.7 L114.5 210.2 L112.2 206.6 L110.0 203.0 L107.7 199.4 L105.5 195.9 L103.4 192.3 L101.3 188.7 L99.2 185.1 L97.1 181.6 L95.1 178.0 L93.1 174.4 L91.2 170.8 L89.3 167.2 L87.4 163.7 L85.6 160.1 L83.8 156.5 L82.0 153.0 L80.2 149.4 L78.5 145.8 L76.9 142.2 L75.2 138.7 L73.6 135.1 L72.1 131.5 L70.5 127.9 L69.0 124.3 L67.5 120.8 L66.1 117.2 L64.7 113.6 L63.3 110.1 L62.0 106.5 L60.7 102.9 L59.4 99.3 L58.1 95.7 L56.9 92.2 L55.7 88.6 L54.6 85.0 L53.4 81.5 L52.4 77.9 L51.3 74.3" stroke="#00ff00" transform="translate(0.5 0.5)"/>
<path d="M520.8 503.3 L514.2 499.7 L507.7 496.2 L501.3 492.6 L494.9 489.0 L488.6 485.4 L482.3 481.9 L476.1 478.3 L470.0 474.7 L463.9 471.1 L457.9 467.6 L451.9 464.0 L446.0 460.4 L440.2 456.8 L434.4 453.2 L428.7 449.7 L423.0 446.1 L417.3 442.5 L411.8 438.9 L406.3 435.4 L400.8 431.8 L395.4 428.2 L390.1 424.7 L384.8 421.1 L379.5 417.5 L374.3 413.9 L369.2 410.4 L364.1 406.8 L359.1 403.2 L354.1 399.6 L349.2 396.1 L344.3 392.5 L339.5 388.9 L334.7 385.3 L330.0 381.8 L325.3 378.2 L320.7 374.6 L316.1 371.0 L311.6 367.5 L307.1 363.9 L302.7 360.3 L298.4 356.7 L294.0 353.1 L289.8 349.6 L285.5 346.0 L281.3 342.4 L277.2 338.9 L273.1 335.3 L269.1 331.7 L265.1 328.1 L261.2 324.6 L257.3 321.0 L253.4 317.4 L249.6 313.8 L245.8 310.3 L242.1 306.7 L238.5 303.1 L234.8 299.5 L231.2 295.9 L227.7 292.4 L224.2 288.8 L220.8 285.2 L217.4 281.7 L214.0 278.1 L210.7 274.5 L207.4 270.9 L204.2 267.4 L201.0 263.8 L197.8 260.2 L194.7 256.6 L191.6 253.0 L188.6 249.5 L185.6 245.9 L182.7 242.3 L179.8 238.8 L176.9 235.2 L174.1 231.6 L171.3 228.0 L168.6 224.4 L165.9 220.9 L163.2 217.3 L160.6 213.7 L158.0 210.2 L155.4 206.6 L152.9 203.0 L150.4 199.4 L148.0 195.9 L145.6 192.3 L143.2 188.7 L140.9 185.1 L138.6 181.6 L136.4 178.0 L134.2 174.4 L132.0 170.8 L129.9 167.2 L127.8 163.7 L125.7 160.1 L123.7 156.5 L121.7 153.0 L119.7 149.4 L117.8 145.8 L115.9 142.2 L114.1 138.7 L112.2 135.1 L110.4 131.5 L108.7 127.9 L107.0 124.3 L105.3 120.8 L103.6 117.2 L102.0 113.6 L100.4 110.1 L98.9 106.5 L97.4 102.9 L95.9 99.3 L94.4 95.7 L93.0 92.2 L91.6 88.6 L90.3 85.0 L88.9 81.5 L87.6 77.9 L86.4 74.3" stroke="#00ff00" transform="translate(0.5 0.5)"/>
<path d="M589.5 503.3 L582.6 499.7 L575.7 496.2 L568.9 492.6 L562.1 489.0 L555.4 485.4 L548.8 481.9 L542.2 478.3 L535.7 474.7 L529.3 471.1 L522.9 467.6 L516.6 464.0 L510.3 460.4 L504.1 456.8 L498.0 453.2 L491.9 449.7 L485.8 446.1 L479.9 442.5 L473.9 438.9 L468.1 435.4 L462.3 431.8 L456.5 428.2 L450.8 424.7 L445.2 421.1 L439.6 417.5 L434.1 413.9 L428.6 410.4 L423.2 406.8 L417.9 403.2 L412.5 399.6 L407.3 396.1 L402.1 392.5 L397.0 388.9 L391.9 385.3 L386.8 381.8 L381.8 378.2 L376.9 374.6 L372.0 371.0 L367.2 367.5 L362.4 363.9 L357.7 360.3 L353.0 356.7 L348.4 353.1 L343.8 349.6 L339.3 346.0 L334.8 342.4 L330.3 338.9 L326.0 335.3 L321.6 331.7 L317.3 328.1 L313.1 324.6 L308.9 321.0 L304.8 317.4 L300.7 313.8 L296.6 310.3 L292.6 306.7 L288.7 303.1 L284.8 299.5 L280.9 295.9 L277.1 292.4 L273.3 288.8 L269.6 285.2 L265.9 281.7 L262.3 278.1 L258.7 274.5 L255.2 270.9 L251.7 267.4 L248.2 263.8 L244.8 260.2 L241.4 256.6 L238.1 253.0 L234.8 249.5 L231.5 245.9 L228.3 242.3 L225.2 238.8 L222.1 235.2 L219.0 231.6 L216.0 228.0 L213.0 224.4 L210.0 220.9 L207.1 217.3 L204.2 213.7 L201.4 210.2 L198.6 206.6 L195.9 203.0 L193.1 199.4 L190.5 195.9 L187.8 192.3 L185.2 188.7 L182.7 185.1 L180.2 181.6 L177.7 178.0 L175.2 174.4 L172.8 170.8 L170.5 167.2 L168.1 163.7 L165.9 160.1 L163.6 156.5 L161.4 153.0 L159.2 149.4 L157.1 145.8 L154.9 142.2 L152.9 138.7 L150.8 135.1 L148.8 131.5 L146.9 127.9 L144.9 124.3 L143.0 120.8 L141.2 117.2 L139.3 113.6 L137.6 110.1 L135.8 106.5 L134.1 102.9 L132.4 99.3 L130.7 95.7 L129.1 92.2 L127.5 88.6 L126.0 85.0 L124.4 81.5 L122.9 77.9 L121.5 74.3" stroke="#00ff00" transform="translate(0.5 0.5)"/>
<path d="M658.3 503.3 L651.0 499.7 L643.7 496.2 L636.5 492.6 L629.4 489.0 L622.3 485.4 L615.3 481.9 L608.4 478.3 L601.5 474.7 L594.7 471.1 L587.9 467.6 L581.2 464.0 L574.6 460.4 L568.0 456.8 L561.5 453.2 L555.1 449.7 L548.7 446.1 L542.4 442.5 L536.1 438.9 L529.9 435.4 L523.7 431.8 L517.6 428.2 L511.6 424.7 L505.6 421.1 L499.7 417.5 L493.9 413.9 L488.1 410.4 L482.3 406.8 L476.6 403.2 L471.0 399.6 L465.4 396.1 L459.9 392.5 L454.4 388.9 L449.0 385.3 L443.6 381.8 L438.3 378.2 L433.1 374.6 L427.9 371.0 L422.7 367.5 L417.7 363.9 L412.6 360.3 L407.6 356.7 L402.7 353.1 L397.8 349.6 L393.0 346.0 L388.2 342.4 L383.5 338.9 L378.8 335.3 L374.2 331.7 L369.6 328.1 L365.1 324.6 L360.6 321.0 L356.2 317.4 L351.8 313.8 L347.4 310.3 L343.2 306.7 L338.9 303.1 L334.7 299.5 L330.6 295.9 L326.5 292.4 L322.5 288.8 L318.5 285.2 L314.5 281.7 L310.6 278.1 L306.7 274.5 L302.9 270.9 L299.1 267.4 L295.4 263.8 L291.7 260.2 L288.1 256.6 L284.5 253.0 L281.0 249.5 L277.5 245.9 L274.0 242.3 L270.6 238.8 L267.2 235.2 L263.9 231.6 L260.6 228.0 L257.4 224.4 L254.2 220.9 L251.0 217.3 L247.9 213.7 L244.8 210.2 L241.8 206.6 L238.8 203.0 L235.8 199.4 L232.9 195.9 L230.1 192.3 L227.2 188.7 L224.4 185.1 L221.7 181.6 L219.0 178.0 L216.3 174.4 L213.7 170.8 L211.1 167.2 L208.5 163.7 L206.0 160.1 L203.5 156.5 L201.1 153.0 L198.7 149.4 L196.3 145.8 L194.0 142.2 L191.7 138.7 L189.4 135.1 L187.2 131.5 L185.0 127.9 L182.9 124.3 L180.8 120.8 L178.7 117.2 L176.7 113.6 L174.7 110.1 L172.7 106.5 L170.8 102.9 L168.9 99.3 L167.0 95.7 L165.2 92.2 L163.4 88.6 L161.6 85.0 L159.9 81.5 L158.2 77.9 L156.6 74.3" stroke="#00ff00" transform="translate(0.5 0.5)"/>
<path d="M727.0 503.3 L719.3 499.7 L711.7 496.2 L704.1 492.6 L696.6 489.0 L689.2 485.4 L681.8 481.9 L674.5 478.3 L667.2 474.7 L660.0 471.1 L652.9 467.6 L645.9 464.0 L638.9 460.4 L631.9 456.8 L625.1 453.2 L618.3 449.7 L611.5 446.1 L604.9 442.5 L598.2 438.9 L591.7 435.4 L585.2 431.8 L578.8 428.2 L572.4 424.7 L566.1 421.1 L559.8 417.5 L553.6 413.9 L547.5 410.4 L541.4 406.8 L535.4 403.2 L529.4 399.6 L523.5 396.1 L517.7 392.5 L511.9 388.9 L506.2 385.3 L500.5 381.8 L494.8 378.2 L489.3 374.6 L483.8 371.0 L478.3 367.5 L472.9 363.9 L467.6 360.3 L462.3 356.7 L457.0 353.1 L451.8 349.6 L446.7 346.0 L441.6 342.4 L436.6 338.9 L431.6 335.3 L426.7 331.7 L421.8 328.1 L417.0 324.6 L412.2 321.0 L407.5 317.4 L402.9 313.8 L398.2 310.3 L393.7 306.7 L389.2 303.1 L384.7 299.5 L380.3 295.9 L375.9 292.4 L371.6 288.8 L367.3 285.2 L363.1 281.7 L358.9 278.1 L354.8 274.5 L350.7 270.9 L346.6 267.4 L342.7 263.8 L338.7 260.2 L334.8 256.6 L331.0 253.0 L327.2 249.5 L323.4 245.9 L319.7 242.3 L316.0 238.8 L312.4 235.2 L308.8 231.6 L305.3 228.0 L301.8 224.4 L298.3 220.9 L294.9 217.3 L291.6 213.7 L288.2 210.2 L285.0 206.6 L281.7 203.0 L278.5 199.4 L275.4 195.9 L272.3 192.3 L269.2 188.7 L266.2 185.1 L263.2 181.6 L260.3 178.0 L257.4 174.4 L254.5 170.8 L251.7 167.2 L248.9 163.7 L246.1 160.1 L243.4 156.5 L240.8 153.0 L238.1 149.4 L235.6 145.8 L233.0 142.2 L230.5 138.7 L228.0 135.1 L225.6 131.5 L223.2 127.9 L220.8 124.3 L218.5 120.8 L216.2 117.2 L214.0 113.6 L211.8 110.1 L209.6 106.5 L207.5 102.9 L205.4 99.3 L203.3 95.7 L201.3 92.2 L199.3 88.6 L197.3 85.0 L195.4 81.5 L193.5 77.9 L191.7 74.3" stroke="#00ff00" transform="translate(0.5 0.5)"/>
<path d="M795.8 503.3 L787.7 499.7 L779.7 496.2 L771.7 492.6 L763.8 489.0 L756.0 485.4 L748.3 481.9 L740.6 478.3 L733.0 474.7 L725.4 471.1 L717.9 467.6 L710.5 464.0 L703.2 460.4 L695.9 456.8 L688.6 453.2 L681.5 449.7 L674.4 446.1 L667.4 442.5 L660.4 438.9 L653.5 435.4 L646.7 431.8 L639.9 428.2 L633.2 424.7 L626.5 421.1 L619.9 417.5 L613.4 413.9 L606.9 410.4 L600.5 406.8 L594.2 403.2 L587.9 399.6 L581.6 396.1 L575.5 392.5 L569.3 388.9 L563.3 385.3 L557.3 381.8 L551.4 378.2 L545.5 374.6 L539.6 371.0 L533.9 367.5 L528.2 363.9 L522.5 360.3 L516.9 356.7 L511.4 353.1 L505.9 349.6 L500.4 346.0 L495.1 342.4 L489.7 338.9 L484.5 335.3 L479.2 331.7 L474.1 328.1 L469.0 324.6 L463.9 321.0 L458.9 317.4 L453.9 313.8 L449.0 310.3 L444.2 306.7 L439.4 303.1 L434.6 299.5 L429.9 295.9 L425.3 292.4 L420.7 288.8 L416.1 285.2 L411.6 281.7 L407.2 278.1 L402.8 274.5 L398.4 270.9 L394.1 267.4 L389.9 263.8 L385.7 260.2 L381.5 256.6 L377.4 253.0 L373.3 249.5 L369.3 245.9 L365.4 242.3 L361.4 238.8 L357.5 235.2 L353.7 231.6 L349.9 228.0 L346.2 224.4 L342.5 220.9 L338.8 217.3 L335.2 213.7 L331.7 210.2 L328.1 206.6 L324.7 203.0 L321.2 199.4 L317.8 195.9 L314.5 192.3 L311.2 188.7 L307.9 185.1 L304.7 181.6 L301.5 178.0 L298.4 174.4 L295.3 170.8 L292.3 167.2 L289.3 163.7 L286.3 160.1 L283.4 156.5 L280.5 153.0 L277.6 149.4 L274.8 145.8 L272.1 142.2 L269.3 138.7 L266.6 135.1 L264.0 131.5 L261.4 127.9 L258.8 124.3 L256.3 120.8 L253.8 117.2 L251.3 113.6 L248.9 110.1 L246.5 106.5 L244.2 102.9 L241.9 99.3 L239.6 95.7 L237.4 92.2 L235.2 88.6 L233.0 85.0 L230.9 81.5 L228.8 77.9 L226.8 74.3" stroke="#00ff00" transform="translate(0.5 0.5)"/>
<path d="M864.5 503.3 L856.1 499.7 L847.7 496.2 L839.3 492.6 L831.1 489.0 L822.9 485.4 L814.7 481.9 L806.7 478.3 L798.7 474.7 L790.8 471.1 L782.9 467.6 L775.1 464.0 L767.4 460.4 L759.8 456.8 L752.2 453.2 L744.7 449.7 L737.3 446.1 L729.9 442.5 L722.6 438.9 L715.3 435.4 L708.1 431.8 L701.0 428.2 L693.9 424.7 L687.0 421.1 L680.0 417.5 L673.2 413.9 L666.4 410.4 L659.6 406.8 L652.9 403.2 L646.3 399.6 L639.7 396.1 L633.3 392.5 L626.8 388.9 L620.4 385.3 L614.1 381.8 L607.9 378.2 L601.7 374.6 L595.5 371.0 L589.4 367.5 L583.4 363.9 L577.5 360.3 L571.5 356.7 L565.7 353.1 L559.9 349.6 L554.2 346.0 L548.5 342.4 L542.9 338.9 L537.3 335.3 L531.8 331.7 L526.3 328.1 L520.9 324.6 L515.6 321.0 L510.3 317.4 L505.0 313.8 L499.8 310.3 L494.7 306.7 L489.6 303.1 L484.6 299.5 L479.6 295.9 L474.7 292.4 L469.8 288.8 L465.0 285.2 L460.2 281.7 L455.5 278.1 L450.8 274.5 L446.2 270.9 L441.6 267.4 L437.1 263.8 L432.6 260.2 L428.2 256.6 L423.8 253.0 L419.5 249.5 L415.2 245.9 L411.0 242.3 L406.8 238.8 L402.7 235.2 L398.6 231.6 L394.6 228.0 L390.6 224.4 L386.6 220.9 L382.7 217.3 L378.9 213.7 L375.1 210.2 L371.3 206.6 L367.6 203.0 L363.9 199.4 L360.3 195.9 L356.7 192.3 L353.2 188.7 L349.7 185.1 L346.2 181.6 L342.8 178.0 L339.5 174.4 L336.1 170.8 L332.9 167.2 L329.6 163.7 L326.4 160.1 L323.3 156.5 L320.2 153.0 L317.1 149.4 L314.1 145.8 L311.1 142.2 L308.1 138.7 L305.2 135.1 L302.4 131.5 L299.5 127.9 L296.8 124.3 L294.0 120.8 L291.3 117.2 L288.6 113.6 L286.0 110.1 L283.4 106.5 L280.9 102.9 L278.4 99.3 L275.9 95.7 L273.5 92.2 L271.1 88.6 L268.7 85.0 L266.4 81.5 L264.1 77.9 L261.9 74.3" stroke="#00ff00" transform="translate(0.5 0.5)"/>
<path d="M933.3 503.3 L924.4 499.7 L915.6 496.2 L906.9 492.6 L898.3 489.0 L889.7 485.4 L881.2 481.9 L872.8 478.3 L864.4 474.7 L856.1 471.1 L847.9 467.6 L839.8 464.0 L831.7 460.4 L823.7 456.8 L815.8 453.2 L807.9 449.7 L800.1 446.1 L792.4 442.5 L784.7 438.9 L777.1 435.4 L769.6 431.8 L762.1 428.2 L754.7 424.7 L747.4 421.1 L740.1 417.5 L732.9 413.9 L725.8 410.4 L718.7 406.8 L711.7 403.2 L704.7 399.6 L697.9 396.1 L691.0 392.5 L684.3 388.9 L677.6 385.3 L670.9 381.8 L664.4 378.2 L657.9 374.6 L651.4 371.0 L645.0 367.5 L638.7 363.9 L632.4 360.3 L626.2 356.7 L620.0 353.1 L613.9 349.6 L607.9 346.0 L601.9 342.4 L596.0 338.9 L590.1 335.3 L584.3 331.7 L578.6 328.1 L572.9 324.6 L567.2 321.0 L561.6 317.4 L556.1 313.8 L550.6 310.3 L545.2 306.7 L539.9 303.1 L534.5 299.5 L529.3 295.9 L524.1 292.4 L518.9 288.8 L513.8 285.2 L508.8 281.7 L503.8 278.1 L498.9 274.5 L494.0 270.9 L489.1 267.4 L484.3 263.8 L479.6 260.2 L474.9 256.6 L470.3 253.0 L465.7 249.5 L461.2 245.9 L456.7 242.3 L452.3 238.8 L447.9 235.2 L443.5 231.6 L439.2 228.0 L435.0 224.4 L430.8 220.9 L426.7 217.3 L422.6 213.7 L418.5 210.2 L414.5 206.6 L410.5 203.0 L406.6 199.4 L402.8 195.9 L398.9 192.3 L395.2 188.7 L391.4 185.1 L387.8 181.6 L384.1 178.0 L380.5 174.4 L377.0 170.8 L373.5 167.2 L370.0 163.7 L366.6 160.1 L363.2 156.5 L359.9 153.0 L356.6 149.4 L353.3 145.8 L350.1 142.2 L347.0 138.7 L343.8 135.1 L340.8 131.5 L337.7 127.9 L334.7 124.3 L331.8 120.8 L328.8 117.2 L326.0 113.6 L323.1 110.1 L320.3 106.5 L317.6 102.9 L314.9 99.3 L312.2 95.7 L309.6 92.2 L307.0 88.6 L304.4 85.0 L301.9 81.5 L299.4 77.9 L296.9 74.3" stroke="#00ff00" transform="translate(0.5 0.5)"/>
<path d="M1002.0 503.3 L992.8 499.7 L983.6 496.2 L974.5 492.6 L965.5 489.0 L956.6 485.4 L947.7 481.9 L938.9 478.3 L930.2 474.7 L921.5 471.1 L912.9 467.6 L904.4 464.0 L896.0 460.4 L887.6 456.8 L879.3 453.2 L871.1 449.7 L863.0 446.1 L854.9 442.5 L846.9 438.9 L838.9 435.4 L831.0 431.8 L823.2 428.2 L815.5 424.7 L807.8 421.1 L800.2 417.5 L792.7 413.9 L785.2 410.4 L777.8 406.8 L770.5 403.2 L763.2 399.6 L756.0 396.1 L748.8 392.5 L741.7 388.9 L734.7 385.3 L727.8 381.8 L720.9 378.2 L714.0 374.6 L707.3 371.0 L700.6 367.5 L693.9 363.9 L687.3 360.3 L680.8 356.7 L674.4 353.1 L668.0 349.6 L661.6 346.0 L655.3 342.4 L649.1 338.9 L643.0 335.3 L636.9 331.7 L630.8 328.1 L624.8 324.6 L618.9 321.0 L613.0 317.4 L607.2 313.8 L601.4 310.3 L595.7 306.7 L590.1 303.1 L584.5 299.5 L579.0 295.9 L573.5 292.4 L568.1 288.8 L562.7 285.2 L557.4 281.7 L552.1 278.1 L546.9 274.5 L541.7 270.9 L536.6 267.4 L531.6 263.8 L526.6 260.2 L521.6 256.6 L516.7 253.0 L511.9 249.5 L507.1 245.9 L502.4 242.3 L497.7 238.8 L493.0 235.2 L488.4 231.6 L483.9 228.0 L479.4 224.4 L475.0 220.9 L470.6 217.3 L466.2 213.7 L461.9 210.2 L457.7 206.6 L453.5 203.0 L449.3 199.4 L445.2 195.9 L441.2 192.3 L437.2 188.7 L433.2 185.1 L429.3 181.6 L425.4 178.0 L421.6 174.4 L417.8 170.8 L414.1 167.2 L410.4 163.7 L406.7 160.1 L403.1 156.5 L399.6 153.0 L396.1 149.4 L392.6 145.8 L389.2 142.2 L385.8 138.7 L382.4 135.1 L379.1 131.5 L375.9 127.9 L372.7 124.3 L369.5 120.8 L366.4 117.2 L363.3 113.6 L360.3 110.1 L357.3 106.5 L354.3 102.9 L351.4 99.3 L348.5 95.7 L345.6 92.2 L342.8 88.6 L340.1 85.0 L337.4 81.5 L334.7 77.9 L332.0 74.3" stroke="#00ff00" transform="translate(0.5 0.5)"/>
<path d="M1070.8 503.3 L1061.2 499.7 L1051.6 496.2 L1042.1 492.6 L1032.7 489.0 L1023.4 485.4 L1014.2 481.9 L1005.0 478.3 L995.9 474.7 L986.9 471.1 L977.9 467.6 L969.1 464.0 L960.3 460.4 L951.6 456.8 L942.9 453.2 L934.3 449.7 L925.8 446.1 L917.4 442.5 L909.0 438.9 L900.7 435.4 L892.5 431.8 L884.4 428.2 L876.3 424.7 L868.3 421.1 L860.3 417.5 L852.4 413.9 L844.6 410.4 L836.9 406.8 L829.2 403.2 L821.6 399.6 L814.1 396.1 L806.6 392.5 L799.2 388.9 L791.9 385.3 L784.6 381.8 L777.4 378.2 L770.2 374.6 L763.2 371.0 L756.1 367.5 L749.2 363.9 L742.3 360.3 L735.5 356.7 L728.7 353.1 L722.0 349.6 L715.4 346.0 L708.8 342.4 L702.3 338.9 L695.8 335.3 L689.4 331.7 L683.1 328.1 L676.8 324.6 L670.5 321.0 L664.4 317.4 L658.3 313.8 L652.2 310.3 L646.3 306.7 L640.3 303.1 L634.4 299.5 L628.6 295.9 L622.9 292.4 L617.2 288.8 L611.5 285.2 L605.9 281.7 L600.4 278.1 L594.9 274.5 L589.5 270.9 L584.1 267.4 L578.8 263.8 L573.5 260.2 L568.3 256.6 L563.2 253.0 L558.1 249.5 L553.0 245.9 L548.0 242.3 L543.1 238.8 L538.2 235.2 L533.3 231.6 L528.6 228.0 L523.8 224.4 L519.1 220.9 L514.5 217.3 L509.9 213.7 L505.4 210.2 L500.9 206.6 L496.4 203.0 L492.0 199.4 L487.7 195.9 L483.4 192.3 L479.1 188.7 L474.9 185.1 L470.8 181.6 L466.7 178.0 L462.6 174.4 L458.6 170.8 L454.7 167.2 L450.7 163.7 L446.9 160.1 L443.0 156.5 L439.3 153.0 L435.5 149.4 L431.8 145.8 L428.2 142.2 L424.6 138.7 L421.0 135.1 L417.5 131.5 L414.1 127.9 L410.6 124.3 L407.3 120.8 L403.9 117.2 L400.6 113.6 L397.4 110.1 L394.2 106.5 L391.0 102.9 L387.9 99.3 L384.8 95.7 L381.7 92.2 L378.7 88.6 L375.8 85.0 L372.9 81.5 L370.0 77.9 L367.1 74.3" stroke="#00ff00" transform="translate(0.5 0.5)"/>
<path d="M1139.6 503.3 L1129.5 499.7 L1119.6 496.2 L1109.7 492.6 L1100.0 489.0 L1090.3 485.4 L1080.7 481.9 L1071.1 478.3 L1061.6 474.7 L1052.3 471.1 L1043.0 467.6 L1033.7 464.0 L1024.6 460.4 L1015.5 456.8 L1006.5 453.2 L997.5 449.7 L988.7 446.1 L979.9 442.5 L971.2 438.9 L962.5 435.4 L954.0 431.8 L945.5 428.2 L937.1 424.7 L928.7 421.1 L920.4 417.5 L912.2 413.9 L904.1 410.4 L896.0 406.8 L888.0 403.2 L880.1 399.6 L872.2 396.1 L864.4 392.5 L856.7 388.9 L849.0 385.3 L841.4 381.8 L833.9 378.2 L826.4 374.6 L819.0 371.0 L811.7 367.5 L804.4 363.9 L797.2 360.3 L790.1 356.7 L783.0 353.1 L776.0 349.6 L769.1 346.0 L762.2 342.4 L755.4 338.9 L748.6 335.3 L741.9 331.7 L735.3 328.1 L728.7 324.6 L722.2 321.0 L715.8 317.4 L709.4 313.8 L703.0 310.3 L696.8 306.7 L690.6 303.1 L684.4 299.5 L678.3 295.9 L672.3 292.4 L666.3 288.8 L660.4 285.2 L654.5 281.7 L648.7 278.1 L643.0 274.5 L637.3 270.9 L631.6 267.4 L626.0 263.8 L620.5 260.2 L615.0 256.6 L609.6 253.0 L604.3 249.5 L598.9 245.9 L593.7 242.3 L588.5 238.8 L583.3 235.2 L578.2 231.6 L573.2 228.0 L568.2 224.4 L563.3 220.9 L558.4 217.3 L553.6 213.7 L548.8 210.2 L544.0 206.6 L539.4 203.0 L534.7 199.4 L530.1 195.9 L525.6 192.3 L521.1 188.7 L516.7 185.1 L512.3 181.6 L508.0 178.0 L503.7 174.4 L499.4 170.8 L495.3 167.2 L491.1 163.7 L487.0 160.1 L483.0 156.5 L479.0 153.0 L475.0 149.4 L471.1 145.8 L467.2 142.2 L463.4 138.7 L459.6 135.1 L455.9 131.5 L452.2 127.9 L448.6 124.3 L445.0 120.8 L441.5 117.2 L437.9 113.6 L434.5 110.1 L431.1 106.5 L427.7 102.9 L424.4 99.3 L421.1 95.7 L417.8 92.2 L414.6 88.6 L411.5 85.0 L408.3 81.5 L405.3 77.9 L402.2 74.3" stroke="#00ff00" transform="translate(0.5 0.5)"/>
<path d="M1208.3 503.3 L1197.9 499.7 L1187.6 496.2 L1177.4 492.6 L1167.2 489.0 L1157.1 485.4 L1147.1 481.9 L1137.2 478.3 L1127.4 474.7 L1117.6 471.1 L1108.0 467.6 L1098.4 464.0 L1088.8 460.4 L1079.4 456.8 L1070.0 453.2 L1060.7 449.7 L1051.5 446.1 L1042.4 442.5 L1033.3 438.9 L1024.4 435.4 L1015.4 431.8 L1006.6 428.2 L997.8 424.7 L989.1 421.1 L980.5 417.5 L972.0 413.9 L963.5 410.4 L955.1 406.8 L946.8 403.2 L938.5 399.6 L930.3 396.1 L922.2 392.5 L914.1 388.9 L906.2 385.3 L898.2 381.8 L890.4 378.2 L882.6 374.6 L874.9 371.0 L867.3 367.5 L859.7 363.9 L852.2 360.3 L844.7 356.7 L837.4 353.1 L830.1 349.6 L822.8 346.0 L815.6 342.4 L808.5 338.9 L801.5 335.3 L794.5 331.7 L787.5 328.1 L780.7 324.6 L773.9 321.0 L767.1 317.4 L760.5 313.8 L753.8 310.3 L747.3 306.7 L740.8 303.1 L734.4 299.5 L728.0 295.9 L721.7 292.4 L715.4 288.8 L709.2 285.2 L703.1 281.7 L697.0 278.1 L691.0 274.5 L685.0 270.9 L679.1 267.4 L673.3 263.8 L667.5 260.2 L661.7 256.6 L656.1 253.0 L650.4 249.5 L644.9 245.9 L639.4 242.3 L633.9 238.8 L628.5 235.2 L623.2 231.6 L617.9 228.0 L612.6 224.4 L607.4 220.9 L602.3 217.3 L597.2 213.7 L592.2 210.2 L587.2 206.6 L582.3 203.0 L577.4 199.4 L572.6 195.9 L567.8 192.3 L563.1 188.7 L558.4 185.1 L553.8 181.6 L549.3 178.0 L544.7 174.4 L540.3 170.8 L535.9 167.2 L531.5 163.7 L527.2 160.1 L522.9 156.5 L518.7 153.0 L514.5 149.4 L510.4 145.8 L506.3 142.2 L502.2 138.7 L498.2 135.1 L494.3 131.5 L490.4 127.9 L486.6 124.3 L482.7 120.8 L479.0 117.2 L475.3 113.6 L471.6 110.1 L468.0 106.5 L464.4 102.9 L460.9 99.3 L457.4 95.7 L453.9 92.2 L450.5 88.6 L447.2 85.0 L443.8 81.5 L440.6 77.9 L437.3 74.3" stroke="#00ff00" transform="translate(0.5 0.5)"/>
<path d="M1277.1 503.3 L1266.3 499.7 L1255.6 496.2 L1245.0 492.6 L1234.4 489.0 L1224.0 485.4 L1213.6 481.9 L1203.3 478.3 L1193.1 474.7 L1183.0 471.1 L1173.0 467.6 L1163.0 464.0 L1153.1 460.4 L1143.3 456.8 L1133.6 453.2 L1124.0 449.7 L1114.4 446.1 L1104.9 442.5 L1095.5 438.9 L1086.2 435.4 L1076.9 431.8 L1067.7 428.2 L1058.6 424.7 L1049.6 421.1 L1040.6 417.5 L1031.7 413.9 L1022.9 410.4 L1014.2 406.8 L1005.5 403.2 L996.9 399.6 L988.4 396.1 L980.0 392.5 L971.6 388.9 L963.3 385.3 L955.1 381.8 L946.9 378.2 L938.8 374.6 L930.8 371.0 L922.8 367.5 L915.0 363.9 L907.1 360.3 L899.4 356.7 L891.7 353.1 L884.1 349.6 L876.5 346.0 L869.1 342.4 L861.6 338.9 L854.3 335.3 L847.0 331.7 L839.8 328.1 L832.6 324.6 L825.5 321.0 L818.5 317.4 L811.5 313.8 L804.6 310.3 L797.8 306.7 L791.0 303.1 L784.3 299.5 L777.7 295.9 L771.1 292.4 L764.5 288.8 L758.1 285.2 L751.7 281.7 L745.3 278.1 L739.0 274.5 L732.8 270.9 L726.6 267.4 L720.5 263.8 L714.4 260.2 L708.4 256.6 L702.5 253.0 L696.6 249.5 L690.8 245.9 L685.0 242.3 L679.3 238.8 L673.7 235.2 L668.1 231.6 L662.5 228.0 L657.0 224.4 L651.6 220.9 L646.2 217.3 L640.9 213.7 L635.6 210.2 L630.4 206.6 L625.2 203.0 L620.1 199.4 L615.1 195.9 L610.1 192.3 L605.1 188.7 L600.2 185.1 L595.4 181.6 L590.6 178.0 L585.8 174.4 L581.1 170.8 L576.5 167.2 L571.9 163.7 L567.3 160.1 L562.8 156.5 L558.4 153.0 L554.0 149.4 L549.6 145.8 L545.3 142.2 L541.1 138.7 L536.8 135.1 L532.7 131.5 L528.6 127.9 L524.5 124.3 L520.5 120.8 L516.5 117.2 L512.6 113.6 L508.7 110.1 L504.9 106.5 L501.1 102.9 L497.4 99.3 L493.7 95.7 L490.0 92.2 L486.4 88.6 L482.8 85.0 L479.3 81.5 L475.8 77.9 L472.4 74.3" stroke="#00ff00" transform="translate(0.5 0.5)"/>
<path d="M1345.8 503.3 L1334.6 499.7 L1323.6 496.2 L1312.6 492.6 L1301.7 489.0 L1290.8 485.4 L1280.1 481.9 L1269.4 478.3 L1258.9 474.7 L1248.4 471.1 L1238.0 467.6 L1227.6 464.0 L1217.4 460.4 L1207.2 456.8 L1197.2 453.2 L1187.2 449.7 L1177.2 446.1 L1167.4 442.5 L1157.6 438.9 L1148.0 435.4 L1138.4 431.8 L1128.8 428.2 L1119.4 424.7 L1110.0 421.1 L1100.7 417.5 L1091.5 413.9 L1082.4 410.4 L1073.3 406.8 L1064.3 403.2 L1055.4 399.6 L1046.5 396.1 L1037.8 392.5 L1029.1 388.9 L1020.4 385.3 L1011.9 381.8 L1003.4 378.2 L995.0 374.6 L986.7 371.0 L978.4 367.5 L970.2 363.9 L962.1 360.3 L954.0 356.7 L946.0 353.1 L938.1 349.6 L930.3 346.0 L922.5 342.4 L914.8 338.9 L907.1 335.3 L899.5 331.7 L892.0 328.1 L884.6 324.6 L877.2 321.0 L869.9 317.4 L862.6 313.8 L855.4 310.3 L848.3 306.7 L841.3 303.1 L834.3 299.5 L827.3 295.9 L820.5 292.4 L813.7 288.8 L806.9 285.2 L800.2 281.7 L793.6 278.1 L787.0 274.5 L780.5 270.9 L774.1 267.4 L767.7 263.8 L761.4 260.2 L755.1 256.6 L748.9 253.0 L742.8 249.5 L736.7 245.9 L730.7 242.3 L724.7 238.8 L718.8 235.2 L713.0 231.6 L707.2 228.0 L701.4 224.4 L695.8 220.9 L690.1 217.3 L684.6 213.7 L679.0 210.2 L673.6 206.6 L668.2 203.0 L662.8 199.4 L657.5 195.9 L652.3 192.3 L647.1 188.7 L642.0 185.1 L636.9 181.6 L631.8 178.0 L626.9 174.4 L621.9 170.8 L617.1 167.2 L612.2 163.7 L607.5 160.1 L602.7 156.5 L598.1 153.0 L593.4 149.4 L588.9 145.8 L584.3 142.2 L579.9 138.7 L575.4 135.1 L571.1 131.5 L566.7 127.9 L562.5 124.3 L558.2 120.8 L554.1 117.2 L549.9 113.6 L545.8 110.1 L541.8 106.5 L537.8 102.9 L533.9 99.3 L530.0 95.7 L526.1 92.2 L522.3 88.6 L518.5 85.0 L514.8 81.5 L511.1 77.9 L507.5 74.3" stroke="#00ff00" transform="translate(0.5 0.5)"/>
<path d="M1414.6 503.3 L1403.0 499.7 L1391.5 496.2 L1380.2 492.6 L1368.9 489.0 L1357.7 485.4 L1346.6 481.9 L1335.5 478.3 L1324.6 474.7 L1313.7 471.1 L1303.0 467.6 L1292.3 464.0 L1281.7 460.4 L1271.2 456.8 L1260.7 453.2 L1250.4 449.7 L1240.1 446.1 L1229.9 442.5 L1219.8 438.9 L1209.8 435.4 L1199.8 431.8 L1190.0 428.2 L1180.2 424.7 L1170.5 421.1 L1160.8 417.5 L1151.3 413.9 L1141.8 410.4 L1132.4 406.8 L1123.1 403.2 L1113.8 399.6 L1104.7 396.1 L1095.6 392.5 L1086.5 388.9 L1077.6 385.3 L1068.7 381.8 L1059.9 378.2 L1051.2 374.6 L1042.5 371.0 L1034.0 367.5 L1025.5 363.9 L1017.0 360.3 L1008.7 356.7 L1000.4 353.1 L992.1 349.6 L984.0 346.0 L975.9 342.4 L967.9 338.9 L960.0 335.3 L952.1 331.7 L944.3 328.1 L936.5 324.6 L928.9 321.0 L921.2 317.4 L913.7 313.8 L906.2 310.3 L898.8 306.7 L891.5 303.1 L884.2 299.5 L877.0 295.9 L869.9 292.4 L862.8 288.8 L855.8 285.2 L848.8 281.7 L841.9 278.1 L835.1 274.5 L828.3 270.9 L821.6 267.4 L815.0 263.8 L808.4 260.2 L801.9 256.6 L795.4 253.0 L789.0 249.5 L782.7 245.9 L776.4 242.3 L770.1 238.8 L764.0 235.2 L757.9 231.6 L751.8 228.0 L745.8 224.4 L739.9 220.9 L734.0 217.3 L728.2 213.7 L722.5 210.2 L716.8 206.6 L711.1 203.0 L705.5 199.4 L700.0 195.9 L694.5 192.3 L689.1 188.7 L683.7 185.1 L678.4 181.6 L673.1 178.0 L667.9 174.4 L662.8 170.8 L657.7 167.2 L652.6 163.7 L647.6 160.1 L642.7 156.5 L637.8 153.0 L632.9 149.4 L628.1 145.8 L623.4 142.2 L618.7 138.7 L614.1 135.1 L609.5 131.5 L604.9 127.9 L600.4 124.3 L596.0 120.8 L591.6 117.2 L587.2 113.6 L583.0 110.1 L578.7 106.5 L574.5 102.9 L570.4 99.3 L566.3 95.7 L562.2 92.2 L558.2 88.6 L554.2 85.0 L550.3 81.5 L546.4 77.9 L542.6 74.3" stroke="#00ff00" transform="translate(0.5 0.5)"/>
<path d="M1483.3 503.3 L1471.4 499.7 L1459.5 496.2 L1447.8 492.6 L1436.1 489.0 L1424.5 485.4 L1413.1 481.9 L1401.7 478.3 L1390.3 474.7 L1379.1 471.1 L1368.0 467.6 L1356.9 464.0 L1346.0 460.4 L1335.1 456.8 L1324.3 453.2 L1313.6 449.7 L1303.0 446.1 L1292.4 442.5 L1282.0 438.9 L1271.6 435.4 L1261.3 431.8 L1251.1 428.2 L1240.9 424.7 L1230.9 421.1 L1220.9 417.5 L1211.0 413.9 L1201.2 410.4 L1191.5 406.8 L1181.8 403.2 L1172.3 399.6 L1162.8 396.1 L1153.3 392.5 L1144.0 388.9 L1134.7 385.3 L1125.5 381.8 L1116.4 378.2 L1107.4 374.6 L1098.4 371.0 L1089.5 367.5 L1080.7 363.9 L1072.0 360.3 L1063.3 356.7 L1054.7 353.1 L1046.2 349.6 L1037.7 346.0 L1029.3 342.4 L1021.0 338.9 L1012.8 335.3 L1004.6 331.7 L996.5 328.1 L988.5 324.6 L980.5 321.0 L972.6 317.4 L964.8 313.8 L957.0 310.3 L949.3 306.7 L941.7 303.1 L934.2 299.5 L926.7 295.9 L919.3 292.4 L911.9 288.8 L904.6 285.2 L897.4 281.7 L890.2 278.1 L883.1 274.5 L876.1 270.9 L869.1 267.4 L862.2 263.8 L855.3 260.2 L848.6 256.6 L841.8 253.0 L835.2 249.5 L828.6 245.9 L822.0 242.3 L815.6 238.8 L809.1 235.2 L802.8 231.6 L796.5 228.0 L790.3 224.4 L784.1 220.9 L778.0 217.3 L771.9 213.7 L765.9 210.2 L759.9 206.6 L754.1 203.0 L748.2 199.4 L742.4 195.9 L736.7 192.3 L731.1 188.7 L725.5 185.1 L719.9 181.6 L714.4 178.0 L709.0 174.4 L703.6 170.8 L698.3 167.2 L693.0 163.7 L687.7 160.1 L682.6 156.5 L677.5 153.0 L672.4 149.4 L667.4 145.8 L662.4 142.2 L657.5 138.7 L652.7 135.1 L647.8 131.5 L643.1 127.9 L638.4 124.3 L633.7 120.8 L629.1 117.2 L624.6 113.6 L620.1 110.1 L615.6 106.5 L611.2 102.9 L606.9 99.3 L602.5 95.7 L598.3 92.2 L594.1 88.6 L589.9 85.0 L585.8 81.5 L581.7 77.9 L577.7 74.3" stroke="#00ff00" transform="translate(0.5 0.5)"/>
<path d="M1552.1 503.3 L1539.7 499.7 L1527.5 496.2 L1515.4 492.6 L1503.3 489.0 L1491.4 485.4 L1479.5 481.9 L1467.8 478.3 L1456.1 474.7 L1444.5 471.1 L1433.0 467.6 L1421.6 464.0 L1410.2 460.4 L1399.0 456.8 L1387.9 453.2 L1376.8 449.7 L1365.8 446.1 L1354.9 442.5 L1344.1 438.9 L1333.4 435.4 L1322.8 431.8 L1312.2 428.2 L1301.7 424.7 L1291.3 421.1 L1281.0 417.5 L1270.8 413.9 L1260.7 410.4 L1250.6 406.8 L1240.6 403.2 L1230.7 399.6 L1220.9 396.1 L1211.1 392.5 L1201.5 388.9 L1191.9 385.3 L1182.4 381.8 L1172.9 378.2 L1163.6 374.6 L1154.3 371.0 L1145.1 367.5 L1136.0 363.9 L1126.9 360.3 L1117.9 356.7 L1109.0 353.1 L1100.2 349.6 L1091.4 346.0 L1082.8 342.4 L1074.2 338.9 L1065.6 335.3 L1057.2 331.7 L1048.8 328.1 L1040.4 324.6 L1032.2 321.0 L1024.0 317.4 L1015.9 313.8 L1007.8 310.3 L999.9 306.7 L992.0 303.1 L984.1 299.5 L976.4 295.9 L968.6 292.4 L961.0 288.8 L953.4 285.2 L945.9 281.7 L938.5 278.1 L931.1 274.5 L923.8 270.9 L916.6 267.4 L909.4 263.8 L902.3 260.2 L895.3 256.6 L888.3 253.0 L881.4 249.5 L874.5 245.9 L867.7 242.3 L861.0 238.8 L854.3 235.2 L847.7 231.6 L841.1 228.0 L834.7 224.4 L828.2 220.9 L821.9 217.3 L815.6 213.7 L809.3 210.2 L803.1 206.6 L797.0 203.0 L790.9 199.4 L784.9 195.9 L778.9 192.3 L773.1 188.7 L767.2 185.1 L761.4 181.6 L755.7 178.0 L750.0 174.4 L744.4 170.8 L738.8 167.2 L733.3 163.7 L727.9 160.1 L722.5 156.5 L717.2 153.0 L711.9 149.4 L706.6 145.8 L701.5 142.2 L696.3 138.7 L691.3 135.1 L686.2 131.5 L681.3 127.9 L676.3 124.3 L671.5 120.8 L666.7 117.2 L661.9 113.6 L657.2 110.1 L652.5 106.5 L647.9 102.9 L643.4 99.3 L638.8 95.7 L634.4 92.2 L630.0 88.6 L625.6 85.0 L621.3 81.5 L617.0 77.9 L612.8 74.3" stroke="#00ff00" transform="translate(0.5 0.5)"/>
<path d="M1620.8 503.3 L1608.1 499.7 L1595.5 496.2 L1583.0 492.6 L1570.6 489.0 L1558.2 485.4 L1546.0 481.9 L1533.9 478.3 L1521.8 474.7 L1509.9 471.1 L1498.0 467.6 L1486.2 464.0 L1474.5 460.4 L1462.9 456.8 L1451.4 453.2 L1440.0 449.7 L1428.7 446.1 L1417.4 442.5 L1406.3 438.9 L1395.2 435.4 L1384.2 431.8 L1373.3 428.2 L1362.5 424.7 L1351.8 421.1 L1341.1 417.5 L1330.6 413.9 L1320.1 410.4 L1309.7 406.8 L1299.4 403.2 L1289.1 399.6 L1279.0 396.1 L1268.9 392.5 L1258.9 388.9 L1249.0 385.3 L1239.2 381.8 L1229.4 378.2 L1219.8 374.6 L1210.2 371.0 L1200.7 367.5 L1191.2 363.9 L1181.9 360.3 L1172.6 356.7 L1163.4 353.1 L1154.2 349.6 L1145.2 346.0 L1136.2 342.4 L1127.3 338.9 L1118.4 335.3 L1109.7 331.7 L1101.0 328.1 L1092.4 324.6 L1083.8 321.0 L1075.4 317.4 L1067.0 313.8 L1058.6 310.3 L1050.4 306.7 L1042.2 303.1 L1034.1 299.5 L1026.0 295.9 L1018.0 292.4 L1010.1 288.8 L1002.3 285.2 L994.5 281.7 L986.8 278.1 L979.2 274.5 L971.6 270.9 L964.1 267.4 L956.7 263.8 L949.3 260.2 L942.0 256.6 L934.7 253.0 L927.5 249.5 L920.4 245.9 L913.4 242.3 L906.4 238.8 L899.5 235.2 L892.6 231.6 L885.8 228.0 L879.1 224.4 L872.4 220.9 L865.8 217.3 L859.2 213.7 L852.7 210.2 L846.3 206.6 L839.9 203.0 L833.6 199.4 L827.4 195.9 L821.2 192.3 L815.0 188.7 L809.0 185.1 L802.9 181.6 L797.0 178.0 L791.1 174.4 L785.2 170.8 L779.4 167.2 L773.7 163.7 L768.0 160.1 L762.4 156.5 L756.9 153.0 L751.3 149.4 L745.9 145.8 L740.5 142.2 L735.1 138.7 L729.9 135.1 L724.6 131.5 L719.4 127.9 L714.3 124.3 L709.2 120.8 L704.2 117.2 L699.2 113.6 L694.3 110.1 L689.4 106.5 L684.6 102.9 L679.8 99.3 L675.1 95.7 L670.5 92.2 L665.8 88.6 L661.3 85.0 L656.8 81.5 L652.3 77.9 L647.9 74.3" stroke="#00ff00" transform="translate(0.5 0.5)"/>
<path d="M1689.6 503.3 L1676.5 499.7 L1663.5 496.2 L1650.6 492.6 L1637.8 489.0 L1625.1 485.4 L1612.5 481.9 L1600.0 478.3 L1587.6 474.7 L1575.2 471.1 L1563.0 467.6 L1550.9 464.0 L1538.8 460.4 L1526.9 456.8 L1515.0 453.2 L1503.2 449.7 L1491.5 446.1 L1479.9 442.5 L1468.4 438.9 L1457.0 435.4 L1445.7 431.8 L1434.4 428.2 L1423.3 424.7 L1412.2 421.1 L1401.2 417.5 L1390.3 413.9 L1379.5 410.4 L1368.8 406.8 L1358.1 403.2 L1347.6 399.6 L1337.1 396.1 L1326.7 392.5 L1316.4 388.9 L1306.2 385.3 L1296.0 381.8 L1286.0 378.2 L1276.0 374.6 L1266.1 371.0 L1256.2 367.5 L1246.5 363.9 L1236.8 360.3 L1227.2 356.7 L1217.7 353.1 L1208.3 349.6 L1198.9 346.0 L1189.6 342.4 L1180.4 338.9 L1171.3 335.3 L1162.2 331.7 L1153.2 328.1 L1144.3 324.6 L1135.5 321.0 L1126.7 317.4 L1118.1 313.8 L1109.4 310.3 L1100.9 306.7 L1092.4 303.1 L1084.0 299.5 L1075.7 295.9 L1067.4 292.4 L1059.3 288.8 L1051.1 285.2 L1043.1 281.7 L1035.1 278.1 L1027.2 274.5 L1019.4 270.9 L1011.6 267.4 L1003.9 263.8 L996.2 260.2 L988.7 256.6 L981.2 253.0 L973.7 249.5 L966.4 245.9 L959.0 242.3 L951.8 238.8 L944.6 235.2 L937.5 231.6 L930.5 228.0 L923.5 224.4 L916.5 220.9 L909.7 217.3 L902.9 213.7 L896.2 210.2 L889.5 206.6 L882.9 203.0 L876.3 199.4 L869.8 195.9 L863.4 192.3 L857.0 188.7 L850.7 185.1 L844.5 181.6 L838.3 178.0 L832.1 174.4 L826.1 170.8 L820.0 167.2 L814.1 163.7 L808.2 160.1 L802.3 156.5 L796.6 153.0 L790.8 149.4 L785.1 145.8 L779.5 142.2 L774.0 138.7 L768.5 135.1 L763.0 131.5 L757.6 127.9 L752.3 124.3 L747.0 120.8 L741.7 117.2 L736.6 113.6 L731.4 110.1 L726.3 106.5 L721.3 102.9 L716.3 99.3 L711.4 95.7 L706.6 92.2 L701.7 88.6 L697.0 85.0 L692.3 81.5 L687.6 77.9 L683.0 74.3" stroke="#00ff00" transform="translate(0.5 0.5)"/>
<path d="M1758.3 503.3 L1744.9 499.7 L1731.5 496.2 L1718.2 492.6 L1705.0 489.0 L1691.9 485.4 L1679.0 481.9 L1666.1 478.3 L1653.3 474.7 L1640.6 471.1 L1628.0 467.6 L1615.5 464.0 L1603.1 460.4 L1590.8 456.8 L1578.6 453.2 L1566.4 449.7 L1554.4 446.1 L1542.4 442.5 L1530.6 438.9 L1518.8 435.4 L1507.1 431.8 L1495.6 428.2 L1484.1 424.7 L1472.6 421.1 L1461.3 417.5 L1450.1 413.9 L1438.9 410.4 L1427.9 406.8 L1416.9 403.2 L1406.0 399.6 L1395.2 396.1 L1384.5 392.5 L1373.9 388.9 L1363.3 385.3 L1352.8 381.8 L1342.5 378.2 L1332.2 374.6 L1321.9 371.0 L1311.8 367.5 L1301.7 363.9 L1291.8 360.3 L1281.9 356.7 L1272.0 353.1 L1262.3 349.6 L1252.6 346.0 L1243.0 342.4 L1233.5 338.9 L1224.1 335.3 L1214.8 331.7 L1205.5 328.1 L1196.3 324.6 L1187.2 321.0 L1178.1 317.4 L1169.1 313.8 L1160.2 310.3 L1151.4 306.7 L1142.7 303.1 L1134.0 299.5 L1125.4 295.9 L1116.8 292.4 L1108.4 288.8 L1100.0 285.2 L1091.7 281.7 L1083.4 278.1 L1075.2 274.5 L1067.1 270.9 L1059.1 267.4 L1051.1 263.8 L1043.2 260.2 L1035.4 256.6 L1027.6 253.0 L1019.9 249.5 L1012.3 245.9 L1004.7 242.3 L997.2 238.8 L989.8 235.2 L982.4 231.6 L975.1 228.0 L967.9 224.4 L960.7 220.9 L953.6 217.3 L946.6 213.7 L939.6 210.2 L932.7 206.6 L925.8 203.0 L919.0 199.4 L912.3 195.9 L905.6 192.3 L899.0 188.7 L892.5 185.1 L886.0 181.6 L879.6 178.0 L873.2 174.4 L866.9 170.8 L860.6 167.2 L854.5 163.7 L848.3 160.1 L842.3 156.5 L836.3 153.0 L830.3 149.4 L824.4 145.8 L818.6 142.2 L812.8 138.7 L807.1 135.1 L801.4 131.5 L795.8 127.9 L790.2 124.3 L784.7 120.8 L779.3 117.2 L773.9 113.6 L768.5 110.1 L763.3 106.5 L758.0 102.9 L752.8 99.3 L747.7 95.7 L742.6 92.2 L737.6 88.6 L732.7 85.0 L727.7 81.5 L722.9 77.9 L718.1 74.3" stroke="#00ff00" transform="translate(0.5 0.5)"/>
<path d="M151.7 498.5 L157.1 492.2M162.8 485.5 L168.2 479.3M173.9 472.6 L179.3 466.3M185.1 459.7 L190.5 453.4M196.2 446.7 L201.7 440.4M207.4 433.8 L212.9 427.5M218.7 420.8 L224.1 414.5M230.2 407.5 L235.7 401.2M241.5 394.6 L247.0 388.3M253.2 381.3 L258.7 375.0M264.5 368.3 L270.3 361.7M276.2 355.0 L281.7 348.7M287.9 341.7 L293.4 335.4M299.6 328.4 L305.2 322.1M311.4 315.1 L316.9 308.8M323.2 301.7 L329.1 295.1M335.3 288.1 L340.9 281.8M347.2 274.7 L353.1 268.1M359.4 261.1 L365.0 254.8M371.3 247.7 L377.2 241.1M383.5 234.1 L389.5 227.4M395.8 220.4 L401.4 214.1M408.1 206.7 L413.7 200.4M420.4 193.0 L426.1 186.7M432.8 179.3 L438.8 172.7M445.1 165.6 L451.2 159.0M457.5 152.0 L463.6 145.3M470.3 137.9 L476.4 131.3M483.0 124.0 L489.2 117.2M495.7 110.1 L501.9 103.3M508.4 96.1 L514.6 89.3M521.2 82.2 L527.4 75.4" stroke="#6400a8" transform="translate(0.5 0.5)"/>
<path d="M198.1 498.3 L203.2 492.2M208.6 485.7 L213.7 479.6M219.5 472.7 L224.6 466.5M230.4 459.7 L235.6 453.4M241.2 446.7 L246.5 440.4M252.2 433.8 L257.5 427.5M263.1 420.8 L268.4 414.5M274.4 407.5 L279.7 401.2M285.4 394.6 L290.7 388.3M296.7 381.3 L302.1 375.0M307.8 368.3 L313.5 361.7M319.2 355.0 L324.6 348.7M330.6 341.7 L336.1 335.4M342.1 328.4 L347.5 322.1M353.6 315.1 L359.1 308.8M365.1 301.7 L370.9 295.1M377.0 288.1 L382.5 281.8M388.6 274.7 L394.4 268.1M400.6 261.1 L406.0 254.8M412.2 247.7 L418.0 241.1M424.2 234.1 L430.0 227.4M436.2 220.4 L441.8 214.1M448.3 206.7 L453.8 200.4M460.4 193.0 L465.9 186.7M472.5 179.3 L478.4 172.7M484.6 165.6 L490.5 159.0M496.8 152.0 L502.7 145.3M509.3 137.9 L515.2 131.3M521.8 123.9 L527.8 117.2M534.1 110.2 L540.1 103.5M546.7 96.1 L552.7 89.5M559.3 82.1 L565.3 75.4" stroke="#6400a8" transform="translate(0.5 0.5)"/>
<path d="M263.9 498.3 L268.8 492.2M274.0 485.7 L278.9 479.6M284.4 472.7 L289.4 466.5M294.9 459.6 L299.8 453.5M305.4 446.6 L310.4 440.5M316.0 433.6 L320.9 427.5M326.5 420.6 L331.5 414.4M337.2 407.5 L342.2 401.4M347.8 394.5 L352.8 388.4M358.5 381.5 L363.8 375.0M369.5 368.1 L374.6 362.0M380.3 355.1 L385.7 348.6M391.4 341.7 L396.8 335.1M402.5 328.3 L407.6 322.1M413.7 314.8 L418.8 308.7M424.6 301.8 L430.3 295.1M436.2 288.1 L441.4 281.8M447.4 274.7 L453.0 268.1M458.9 261.1 L464.2 254.8M470.2 247.7 L475.8 241.1M481.8 234.1 L487.5 227.4M493.4 220.4 L498.8 214.1M505.1 206.7 L510.5 200.4M516.8 193.0 L522.2 186.7M528.6 179.3 L534.3 172.7M540.4 165.6 L546.1 159.0M552.2 152.0 L557.9 145.3M564.3 137.9 L570.1 131.3M576.5 123.9 L582.3 117.2M588.4 110.2 L594.2 103.5M600.7 96.1 L606.5 89.5M613.0 82.1 L618.8 75.4" stroke="#6400a8" transform="translate(0.5 0.5)"/>
<path d="M317.9 498.3 L322.6 492.2M327.6 485.7 L332.3 479.6M337.6 472.7 L342.4 466.5M347.7 459.6 L352.5 453.5M357.8 446.6 L362.6 440.5M368.0 433.6 L372.8 427.5M378.2 420.6 L383.0 414.4M388.5 407.5 L393.3 401.4M398.8 394.5 L403.6 388.4M409.1 381.5 L414.3 375.0M419.8 368.1 L424.6 362.0M430.2 355.1 L435.4 348.6M440.9 341.7 L446.2 335.1M451.7 328.3 L456.7 322.1M462.5 314.8 L467.5 308.7M473.1 301.8 L478.4 295.3M484.3 288.0 L489.3 281.9M495.3 274.6 L500.6 268.1M506.2 261.2 L511.6 254.7M517.3 247.8 L522.6 241.3M528.6 234.0 L534.0 227.5M539.7 220.6 L545.1 214.1M551.2 206.8 L556.6 200.3M562.7 193.0 L568.1 186.5M574.2 179.3 L579.6 172.7M585.6 165.6 L591.2 159.0M597.1 152.0 L602.7 145.3M609.0 137.9 L614.6 131.3M620.8 123.9 L626.5 117.2M632.5 110.2 L638.1 103.5M644.4 96.1 L650.1 89.5M656.4 82.1 L662.1 75.4" stroke="#6400a8" transform="translate(0.5 0.5)"/>
<path d="M351.1 498.5 L355.9 492.2M360.9 485.4 L365.4 479.5M370.5 472.7 L375.3 466.4M380.4 459.6 L384.9 453.6M390.0 446.9 L394.9 440.5M400.0 433.8 L404.9 427.5M410.1 420.6 L414.9 414.4M420.2 407.5 L424.9 401.4M430.2 394.5 L435.0 388.4M440.3 381.5 L445.4 375.0M450.8 368.1 L455.5 362.0M460.9 355.1 L466.0 348.6M471.5 341.7 L476.6 335.1M482.0 328.3 L486.9 322.1M492.6 314.8 L497.5 308.7M503.0 301.8 L508.2 295.3M514.0 288.0 L518.9 281.9M524.7 274.6 L529.9 268.1M535.5 261.2 L540.7 254.7M546.3 247.8 L551.6 241.3M557.5 234.0 L562.7 227.5M568.4 220.6 L573.7 214.1M579.6 206.8 L584.9 200.3M590.9 193.0 L596.2 186.5M602.2 179.3 L607.6 172.7M613.6 165.5 L618.9 159.0M625.0 151.7 L630.3 145.2M636.4 137.9 L641.8 131.4M647.9 124.1 L653.6 117.2M659.7 109.9 L665.1 103.4M671.2 96.1 L676.8 89.5M683.1 82.1 L688.7 75.4" stroke="#6400a8" transform="translate(0.5 0.5)"/>
<path d="M375.7 498.5 L380.4 492.2M385.3 485.4 L389.7 479.5M394.7 472.7 L399.4 466.4M404.4 459.6 L408.8 453.6M413.9 446.9 L418.6 440.5M423.7 433.8 L428.5 427.4M433.5 420.7 L438.3 414.3M443.4 407.6 L448.3 401.2M453.4 394.5 L458.2 388.1M463.4 381.4 L468.2 375.0M473.5 368.1 L478.2 362.0M483.5 355.1 L488.6 348.6M493.9 341.7 L498.9 335.1M504.3 328.3 L509.1 322.1M514.7 314.8 L519.5 308.7M524.9 301.8 L530.0 295.3M535.8 288.0 L540.6 281.9M546.3 274.6 L551.5 268.1M556.9 261.2 L562.1 254.7M567.6 247.8 L572.8 241.3M578.6 234.0 L583.8 227.5M589.3 220.6 L594.6 214.1M600.4 206.8 L605.7 200.3M611.5 193.0 L616.8 186.5M622.7 179.3 L628.0 172.7M633.9 165.5 L639.2 159.0M645.2 151.7 L650.5 145.2M656.5 137.9 L661.8 131.4M667.8 124.1 L673.5 117.2M679.5 109.9 L684.9 103.4M690.9 96.1 L696.6 89.2M702.6 82.0 L708.1 75.4" stroke="#6400a8" transform="translate(0.5 0.5)"/>
<path d="M411.7 498.5 L416.2 492.2M421.0 485.4 L425.3 479.5M430.1 472.7 L434.7 466.4M439.5 459.6 L443.8 453.6M448.7 446.9 L453.3 440.5M458.3 433.8 L462.9 427.4M467.9 420.7 L472.5 414.3M477.5 407.6 L482.2 401.2M487.2 394.5 L491.9 388.1M496.9 381.4 L501.6 375.0M506.7 368.2 L511.4 361.9M516.5 355.1 L521.6 348.4M526.7 341.6 L531.5 335.3M536.6 328.5 L541.7 321.8M546.9 315.0 L551.7 308.7M556.9 301.8 L561.9 295.3M567.5 288.0 L572.2 281.9M577.8 274.6 L582.9 268.1M588.2 261.2 L593.3 254.7M598.6 247.8 L603.7 241.3M609.4 234.0 L614.5 227.5M619.9 220.6 L625.0 214.1M630.8 206.8 L635.9 200.3M641.7 193.0 L646.8 186.5M652.6 179.3 L657.8 172.7M663.6 165.5 L668.8 159.0M674.6 151.7 L679.8 145.2M685.7 137.9 L690.9 131.4M696.8 124.1 L702.4 117.2M708.3 109.9 L713.5 103.4M719.5 96.1 L725.1 89.2M731.0 82.0 L736.3 75.4" stroke="#6400a8" transform="translate(0.5 0.5)"/>
<path d="M438.2 498.5 L442.6 492.2M447.3 485.4 L451.4 479.5M456.2 472.7 L460.6 466.4M465.4 459.6 L469.6 453.6M474.4 446.9 L478.9 440.5M483.7 433.8 L488.3 427.4M493.1 420.7 L497.7 414.3M502.5 407.6 L507.1 401.2M512.0 394.5 L516.6 388.1M521.5 381.4 L526.2 375.0M531.1 368.2 L535.8 361.9M540.8 355.1 L545.7 348.4M550.7 341.6 L555.5 335.3M560.5 328.5 L565.5 321.8M570.6 315.0 L575.3 308.7M580.7 301.5 L585.5 295.2M590.6 288.4 L595.7 281.6M600.8 274.9 L605.9 268.1M611.1 261.4 L616.1 254.7M621.4 247.8 L626.4 241.3M632.0 234.0 L637.0 227.5M642.3 220.6 L647.4 214.1M653.0 206.8 L658.1 200.3M663.7 193.0 L668.8 186.5M674.5 179.3 L679.6 172.7M685.3 165.5 L690.5 159.0M696.2 151.7 L701.3 145.2M707.1 137.9 L712.3 131.4M718.1 124.1 L723.6 117.2M729.4 109.9 L734.6 103.4M740.4 96.1 L745.9 89.2M751.8 82.0 L757.0 75.4" stroke="#6400a8" transform="translate(0.5 0.5)"/>
<path d="M477.1 498.4 L481.2 492.2M485.6 485.6 L489.8 479.4M494.3 472.8 L498.5 466.6M503.2 459.6 L507.5 453.4M511.9 446.9 L516.3 440.5M520.9 433.8 L525.3 427.4M530.0 420.7 L534.4 414.3M539.1 407.6 L543.6 401.2M548.3 394.5 L552.8 388.1M557.6 381.4 L562.1 375.0M566.9 368.2 L571.4 361.9M576.2 355.1 L581.0 348.4M585.9 341.6 L590.5 335.3M595.3 328.5 L600.2 321.8M605.1 315.0 L609.8 308.7M615.0 301.5 L619.6 295.2M624.6 288.4 L629.6 281.6M634.5 274.9 L639.5 268.1M644.6 261.4 L649.6 254.6M654.6 247.9 L659.7 241.1M665.0 234.0 L669.8 227.6M675.2 220.5 L680.0 214.1M685.4 207.0 L690.5 200.2M695.9 193.1 L700.8 186.7M706.5 179.3 L711.4 172.7M717.0 165.5 L722.0 159.0M727.6 151.7 L732.7 145.2M738.3 137.9 L743.4 131.4M749.0 124.1 L754.4 117.2M760.1 109.9 L765.2 103.4M770.9 96.1 L776.3 89.2M782.0 82.0 L787.2 75.4" stroke="#6400a8" transform="translate(0.5 0.5)"/>
<path d="M505.6 498.4 L509.6 492.2M514.0 485.6 L518.0 479.4M522.3 472.8 L526.4 466.6M531.1 459.6 L535.2 453.4M539.6 446.8 L543.7 440.6M548.4 433.6 L552.6 427.4M557.1 420.8 L561.3 414.6M566.0 407.6 L570.3 401.4M575.0 394.5 L579.4 388.1M584.0 381.4 L588.4 375.0M593.1 368.2 L597.5 361.9M602.3 355.1 L607.0 348.4M611.7 341.6 L616.2 335.3M621.0 328.5 L625.7 321.8M630.6 315.0 L635.1 308.7M640.2 301.5 L644.7 295.2M649.6 288.4 L654.5 281.6M659.3 274.9 L664.2 268.1M669.1 261.4 L674.1 254.6M679.0 247.9 L683.9 241.1M689.2 234.0 L693.9 227.6M699.2 220.5 L703.9 214.1M709.2 207.0 L714.2 200.2M719.5 193.1 L724.3 186.7M729.6 179.6 L734.7 172.8M740.1 165.7 L745.2 158.9M750.6 151.8 L755.8 145.0M761.2 137.9 L766.3 131.1M771.7 124.1 L777.0 117.2M782.6 109.9 L787.6 103.4M793.2 96.1 L798.5 89.2M804.2 82.0 L809.2 75.4" stroke="#6400a8" transform="translate(0.5 0.5)"/>
<path d="M528.4 498.4 L532.3 492.2M536.5 485.6 L540.5 479.4M544.7 472.8 L548.7 466.6M553.3 459.6 L557.3 453.4M561.6 446.8 L565.6 440.6M570.2 433.6 L574.3 427.4M578.7 420.8 L582.8 414.6M587.5 407.6 L591.6 401.4M596.3 394.4 L600.5 388.2M605.2 381.2 L609.4 375.0M614.2 368.0 L618.4 361.8M623.2 354.8 L627.6 348.4M632.3 341.6 L636.7 335.3M641.4 328.5 L646.1 321.8M650.8 315.0 L655.2 308.7M660.2 301.5 L664.7 295.2M669.5 288.4 L674.3 281.6M679.1 274.9 L683.9 268.1M688.7 261.4 L693.5 254.6M698.4 247.9 L703.3 241.1M708.4 234.0 L713.0 227.6M718.2 220.5 L722.9 214.1M728.1 207.0 L733.0 200.2M738.3 193.1 L743.0 186.7M748.3 179.6 L753.3 172.8M758.6 165.7 L763.6 158.9M768.9 151.8 L774.0 145.0M779.3 137.9 L784.4 131.1M789.8 124.0 L794.9 117.2M800.3 110.1 L805.5 103.3M810.9 96.1 L816.1 89.4M821.8 82.0 L826.7 75.4" stroke="#6400a8" transform="translate(0.5 0.5)"/>
<path d="M547.4 498.4 L551.2 492.2M555.3 485.6 L559.2 479.4M563.4 472.8 L567.3 466.6M571.8 459.6 L575.7 453.4M579.9 446.8 L583.9 440.6M588.4 433.6 L592.4 427.4M596.7 420.8 L600.8 414.6M605.4 407.6 L609.4 401.4M614.1 394.4 L618.1 388.2M622.8 381.2 L626.9 375.0M631.6 368.0 L635.8 361.8M640.5 354.8 L644.7 348.6M649.4 341.6 L653.6 335.4M658.4 328.4 L663.0 321.8M667.6 315.0 L672.0 308.7M676.9 301.5 L681.3 295.2M686.0 288.4 L690.8 281.6M695.5 274.9 L700.2 268.1M705.0 261.4 L709.8 254.6M714.5 247.9 L719.3 241.1M724.4 234.0 L729.0 227.6M734.1 220.5 L738.7 214.1M743.8 207.0 L748.7 200.2M753.9 193.1 L758.5 186.7M763.7 179.6 L768.7 172.8M773.9 165.7 L778.9 158.9M784.2 151.8 L789.2 145.0M794.5 137.9 L799.5 131.1M804.8 124.0 L809.8 117.2M815.2 110.1 L820.3 103.3M825.7 96.1 L830.8 89.4M836.2 82.2 L841.3 75.5" stroke="#6400a8" transform="translate(0.5 0.5)"/>
<path d="M571.1 498.4 L574.8 492.2M578.9 485.6 L582.6 479.4M586.7 472.8 L590.5 466.6M594.9 459.6 L598.7 453.4M602.8 446.8 L606.7 440.6M611.1 433.6 L615.1 427.4M619.3 420.8 L623.2 414.6M627.7 407.6 L631.7 401.4M636.2 394.4 L640.2 388.2M644.7 381.2 L648.8 375.0M653.4 368.0 L657.4 361.8M662.1 354.8 L666.2 348.6M670.8 341.6 L674.9 335.4M679.6 328.4 L684.1 321.8M688.5 315.2 L693.0 308.6M697.7 301.6 L702.2 295.0M706.7 288.4 L711.3 281.6M716.0 274.9 L720.6 268.1M725.3 261.4 L730.0 254.6M734.7 247.9 L739.4 241.1M744.4 234.0 L748.9 227.6M753.9 220.5 L758.4 214.1M763.5 207.0 L768.3 200.2M773.4 193.1 L777.9 186.7M783.1 179.6 L787.9 172.8M793.1 165.7 L798.0 158.9M803.2 151.8 L808.1 145.0M813.3 137.9 L818.2 131.1M823.5 124.0 L828.4 117.2M833.7 110.1 L838.7 103.3M844.0 96.1 L849.0 89.4M854.4 82.2 L859.4 75.5" stroke="#6400a8" transform="translate(0.5 0.5)"/>
<path d="M602.3 498.6 L606.1 492.1M609.9 485.7 L613.7 479.3M617.5 472.8 L621.3 466.4M625.4 459.6 L629.1 453.4M633.1 446.8 L636.9 440.6M641.2 433.6 L644.9 427.4M649.0 420.8 L652.8 414.6M657.2 407.6 L661.0 401.4M665.4 394.4 L669.3 388.2M673.7 381.2 L677.6 375.0M682.1 368.0 L686.0 361.8M690.5 354.8 L694.5 348.6M699.0 341.6 L703.1 335.4M707.6 328.4 L711.9 321.8M716.2 315.2 L720.6 308.6M725.2 301.6 L729.6 295.0M734.0 288.4 L738.4 281.8M743.1 274.8 L747.5 268.2M752.3 261.2 L756.7 254.6M761.5 247.5 L765.7 241.4M770.7 234.0 L775.1 227.6M780.0 220.5 L784.4 214.1M789.4 207.0 L794.1 200.2M799.0 193.1 L803.5 186.7M808.5 179.6 L813.3 172.8M818.3 165.7 L823.1 158.9M828.2 151.8 L833.0 145.0M838.1 137.9 L842.9 131.1M848.1 124.0 L852.9 117.2M858.1 110.1 L863.0 103.3M868.2 96.1 L873.1 89.4M878.3 82.2 L883.3 75.5" stroke="#6400a8" transform="translate(0.5 0.5)"/>
<path d="M627.2 498.6 L630.9 492.1M634.6 485.7 L638.2 479.3M642.0 472.8 L645.7 466.4M649.7 459.5 L653.2 453.5M657.2 446.7 L660.8 440.7M664.8 433.8 L668.7 427.4M672.6 420.8 L676.3 414.6M680.6 407.6 L684.3 401.4M688.6 394.4 L692.4 388.2M696.7 381.2 L700.5 375.0M704.9 368.0 L708.7 361.8M713.1 354.8 L717.0 348.6M721.4 341.6 L725.3 335.4M729.8 328.4 L734.0 321.8M738.2 315.2 L742.5 308.6M747.0 301.6 L751.3 295.0M755.6 288.4 L759.9 281.8M764.5 274.8 L768.8 268.2M773.5 261.2 L777.9 254.6M782.5 247.5 L786.7 241.4M791.6 233.9 L795.8 227.8M800.8 220.3 L805.0 214.1M810.0 206.7 L814.5 200.1M819.3 193.1 L823.7 186.7M828.6 179.6 L833.3 172.8M838.3 165.7 L843.0 158.9M848.0 151.8 L852.7 145.0M857.7 137.9 L862.5 131.1M867.5 124.0 L872.3 117.2M877.4 110.1 L882.2 103.3M887.3 96.1 L892.2 89.4M897.3 82.2 L902.2 75.5" stroke="#6400a8" transform="translate(0.5 0.5)"/>
<path d="M647.9 498.6 L651.5 492.1M655.1 485.7 L658.7 479.3M662.3 472.8 L665.9 466.4M669.8 459.5 L673.3 453.5M677.2 446.7 L680.7 440.7M684.6 433.8 L688.4 427.4M692.1 420.9 L695.9 414.5M700.0 407.6 L703.8 401.2M707.9 394.4 L711.6 388.2M715.8 381.2 L719.5 375.0M723.8 368.0 L727.6 361.8M731.9 354.8 L735.7 348.6M740.0 341.6 L743.8 335.4M748.2 328.4 L752.3 321.8M756.5 315.2 L760.7 308.6M765.1 301.6 L769.3 295.0M773.5 288.4 L777.8 281.8M782.3 274.8 L786.5 268.2M791.1 261.2 L795.4 254.6M800.0 247.5 L804.0 241.4M808.9 233.9 L813.0 227.8M818.0 220.3 L822.1 214.1M827.0 206.7 L831.5 200.1M836.2 193.1 L840.7 186.5M845.4 179.5 L849.9 172.9M855.0 165.5 L859.5 158.9M864.4 151.8 L869.0 145.0M874.0 137.9 L878.7 131.1M883.6 124.0 L888.4 117.2M893.4 110.1 L898.1 103.3M903.2 96.1 L908.0 89.4M913.0 82.2 L917.8 75.5" stroke="#6400a8" transform="translate(0.5 0.5)"/>
<path d="M681.2 498.6 L684.6 492.1M688.0 485.7 L691.5 479.3M694.9 472.8 L698.4 466.4M702.2 459.5 L705.5 453.5M709.3 446.7 L712.6 440.7M716.4 433.8 L720.0 427.4M723.6 420.9 L727.3 414.5M731.2 407.6 L734.9 401.2M738.8 394.3 L742.3 388.3M746.3 381.5 L750.0 375.0M754.0 368.2 L757.8 361.7M761.9 354.9 L765.7 348.4M769.8 341.6 L773.5 335.4M777.8 328.4 L781.7 321.8M785.8 315.2 L789.8 308.6M794.1 301.6 L798.2 295.0M802.3 288.4 L806.4 281.8M810.8 274.8 L814.9 268.2M819.3 261.2 L823.5 254.6M828.0 247.5 L831.9 241.4M836.7 233.9 L840.6 227.8M845.4 220.3 L849.4 214.1M854.3 206.7 L858.6 200.1M863.2 193.1 L867.5 186.5M872.2 179.5 L876.5 172.9M881.5 165.5 L885.9 158.9M890.6 151.8 L895.0 145.2M900.0 137.8 L904.5 131.2M909.3 124.2 L914.1 117.2M919.0 110.1 L923.6 103.3M928.5 96.1 L933.2 89.4M938.2 82.2 L942.9 75.5" stroke="#6400a8" transform="translate(0.5 0.5)"/>
</g>
<path d="M87.5 74 V503.5 M87 74.5 H697 M87 503.5 H697" stroke="#000" fill="none" shape-rendering="crispEdges"/>
<g fill="none" shape-rendering="crispEdges">
<path d="M594.7 473.5 H602.2" stroke="#58009a"/>
<path d="M591.9 470.5 H602.0" stroke="#58009a"/>
<path d="M589.0 467.5 H601.8" stroke="#58009a"/>
<path d="M587.0 464.5 H601.6" stroke="#58009a"/>
<path d="M586.9 460.5 H601.1" stroke="#58009a"/>
<path d="M586.7 457.5 H600.5" stroke="#58009a"/>
<path d="M586.6 454.5 H599.8" stroke="#58009a"/>
<path d="M586.4 450.5 H599.3" stroke="#58009a"/>
<path d="M586.2 447.5 H598.7" stroke="#58009a"/>
<path d="M586.1 443.5 H598.2" stroke="#58009a"/>
<path d="M585.9 439.5 H597.6" stroke="#58009a"/>
<path d="M585.7 436.5 H596.9" stroke="#58009a"/>
<path d="M585.5 432.5 H596.3" stroke="#58009a"/>
<path d="M584.0 428.5 H595.6" stroke="#58009a"/>
<path d="M582.0 424.5 H594.8" stroke="#58009a"/>
<path d="M580.0 420.5 H594.0" stroke="#58009a"/>
<path d="M577.4 416.5 H593.1" stroke="#58009a"/>
<path d="M574.7 412.5 H592.2" stroke="#58009a"/>
<path d="M572.1 407.5 H591.2" stroke="#58009a"/>
<path d="M569.4 403.5 H590.1" stroke="#58009a"/>
<path d="M566.7 398.5 H588.9" stroke="#58009a"/>
<path d="M563.9 393.5 H587.7" stroke="#58009a"/>
<path d="M561.0 389.5 H586.3" stroke="#58009a"/>
<path d="M557.9 384.5 H584.8" stroke="#58009a"/>
<path d="M554.8 379.5 H583.2" stroke="#58009a"/>
<path d="M552.0 373.5 H581.5" stroke="#58009a"/>
<path d="M549.6 368.5 H579.6" stroke="#58009a"/>
<path d="M547.1 362.5 H577.5" stroke="#58009a"/>
<path d="M544.6 357.5 H575.2" stroke="#58009a"/>
<path d="M541.8 351.5 H572.7" stroke="#58009a"/>
<path d="M538.2 345.5 H569.9" stroke="#58009a"/>
<path d="M534.5 338.5 H566.9" stroke="#58009a"/>
<path d="M530.6 332.5 H563.5" stroke="#58009a"/>
<path d="M526.5 325.5 H559.7" stroke="#58009a"/>
<path d="M522.2 318.5 H555.6" stroke="#58009a"/>
<path d="M517.8 311.5 H551.0" stroke="#58009a"/>
<path d="M512.7 303.5 H545.8" stroke="#58009a"/>
<path d="M507.4 295.5 H540.1" stroke="#58009a"/>
<path d="M501.8 287.5 H533.7" stroke="#58009a"/>
<path d="M495.9 278.5 H526.5" stroke="#58009a"/>
<path d="M486.8 269.5 H518.6" stroke="#58009a"/>
<path d="M476.7 259.5 H509.8" stroke="#58009a"/>
<path d="M466.0 249.5 H500.0" stroke="#58009a"/>
<path d="M455.5 238.5 H489.3" stroke="#58009a"/>
<path d="M444.4 226.5 H477.5" stroke="#58009a"/>
<path d="M432.6 214.5 H464.8" stroke="#58009a"/>
<path d="M420.4 201.5 H451.0" stroke="#58009a"/>
<path d="M414.1 187.5 H436.3" stroke="#58009a"/>
<path d="M407.4 171.5 H420.6" stroke="#58009a"/>
<path d="M400.3 154.5 H404.0" stroke="#58009a"/>
<path d="M618.4 496.4 L602.4 490.0 L602.4 477.0 L601.6 462.9 L599.7 453.4 L599.4 450.8 L599.0 448.2 L598.6 445.6 L598.2 443.0 L597.7 440.4 L597.3 437.9 L596.9 435.3 L596.4 432.7 L595.9 430.1 L595.5 427.5 L595.0 424.9 L594.5 422.3 L593.9 419.7 L593.4 417.1 L592.8 414.5 L592.3 411.9 L591.7 409.3 L591.1 406.7 L590.4 404.1 L589.8 401.5 L589.1 399.0 L588.5 396.4 L587.8 393.8 L587.0 391.2 L586.3 388.6 L585.5 386.0 L584.8 383.4 L583.9 380.8 L583.1 378.2 L582.3 375.6 L581.4 373.0 L580.5 370.4 L579.5 367.8 L578.6 365.2 L577.6 362.6 L576.6 360.1 L575.5 357.5 L574.5 354.9 L573.4 352.3 L572.2 349.7 L571.1 347.1 L569.9 344.5 L568.6 341.9 L567.4 339.3 L566.1 336.7 L564.8 334.1 L563.4 331.5 L562.0 328.9 L560.6 326.3 L559.1 323.8 L557.6 321.2 L556.0 318.6 L554.4 316.0 L552.8 313.4 L551.1 310.8 L549.4 308.2 L547.7 305.6 L545.9 303.0 L544.1 300.4 L542.2 297.8 L540.3 295.2 L538.4 292.6 L536.4 290.0 L534.4 287.4 L532.4 284.9 L530.3 282.3 L528.1 279.7 L526.0 277.1 L523.8 274.5 L521.5 271.9 L519.2 269.3 L516.9 266.7 L514.6 264.1 L512.2 261.5 L509.8 258.9 L507.4 256.3 L504.9 253.7 L502.4 251.1 L499.9 248.5 L497.4 246.0 L494.8 243.4 L492.3 240.8 L489.7 238.2 L487.0 235.6 L484.4 233.0 L481.8 230.4 L479.1 227.8 L476.4 225.2 L473.8 222.6 L471.1 220.0 L468.4 217.4 L465.7 214.8 L463.0 212.2 L460.3 209.6 L457.6 207.1 L454.8 204.5 L452.1 201.9 L449.4 199.3 L446.7 196.7 L444.1 194.1 L441.4 191.5 L438.7 188.9 L436.0 186.3 L433.4 183.7 L430.7 181.1 L428.1 178.5 L425.4 175.9 L422.8 173.3 L420.2 170.7 L417.6 168.2 L415.1 165.6 L412.5 163.0 L410.0 160.4 L407.4 157.8 L404.9 155.2 L402.4 152.6 L399.9 150.0 L397.5 147.4 L395.0 144.8 L392.6 142.2 L390.2 139.6 L387.8 137.0 L385.4 134.4 L383.1 131.9 L380.7 129.3 L378.4 126.7 L376.1 124.1 L373.8 121.5 L371.6 118.9 L369.3 116.3 L367.1 113.7 L364.9 111.1 L362.7 108.5 L360.6 105.9 L358.4 103.3 L356.3 100.7 L354.2 98.1 L352.1 95.5 L350.0 93.0 L348.0 90.4 L345.9 87.8 L343.9 85.2 L341.9 82.6 L339.9 80.0 L338.0 77.4 L336.0 74.8" stroke="#58009a" stroke-width="1" transform="translate(0.0 -0.5)"/>
<path d="M618.4 496.4 L602.4 490.0 L602.4 477.0 L601.6 462.9 L599.7 453.4 L599.4 450.8 L599.0 448.2 L598.6 445.6 L598.2 443.0 L597.7 440.4 L597.3 437.9 L596.9 435.3 L596.4 432.7 L595.9 430.1 L595.5 427.5 L595.0 424.9 L594.5 422.3 L593.9 419.7 L593.4 417.1 L592.8 414.5 L592.3 411.9 L591.7 409.3 L591.1 406.7 L590.4 404.1 L589.8 401.5 L589.1 399.0 L588.5 396.4 L587.8 393.8 L587.0 391.2 L586.3 388.6 L585.5 386.0 L584.8 383.4 L583.9 380.8 L583.1 378.2 L582.3 375.6 L581.4 373.0 L580.5 370.4 L579.5 367.8 L578.6 365.2 L577.6 362.6 L576.6 360.1 L575.5 357.5 L574.5 354.9 L573.4 352.3 L572.2 349.7 L571.1 347.1 L569.9 344.5 L568.6 341.9 L567.4 339.3 L566.1 336.7 L564.8 334.1 L563.4 331.5 L562.0 328.9 L560.6 326.3 L559.1 323.8 L557.6 321.2 L556.0 318.6 L554.4 316.0 L552.8 313.4 L551.1 310.8 L549.4 308.2 L547.7 305.6 L545.9 303.0 L544.1 300.4 L542.2 297.8 L540.3 295.2 L538.4 292.6 L536.4 290.0 L534.4 287.4 L532.4 284.9 L530.3 282.3 L528.1 279.7 L526.0 277.1 L523.8 274.5 L521.5 271.9 L519.2 269.3 L516.9 266.7 L514.6 264.1 L512.2 261.5 L509.8 258.9 L507.4 256.3 L504.9 253.7 L502.4 251.1 L499.9 248.5 L497.4 246.0 L494.8 243.4 L492.3 240.8 L489.7 238.2 L487.0 235.6 L484.4 233.0 L481.8 230.4 L479.1 227.8 L476.4 225.2 L473.8 222.6 L471.1 220.0 L468.4 217.4 L465.7 214.8 L463.0 212.2 L460.3 209.6 L457.6 207.1 L454.8 204.5 L452.1 201.9 L449.4 199.3 L446.7 196.7 L444.1 194.1 L441.4 191.5 L438.7 188.9 L436.0 186.3 L433.4 183.7 L430.7 181.1 L428.1 178.5 L425.4 175.9 L422.8 173.3 L420.2 170.7 L417.6 168.2 L415.1 165.6 L412.5 163.0 L410.0 160.4 L407.4 157.8 L404.9 155.2 L402.4 152.6 L399.9 150.0 L397.5 147.4 L395.0 144.8 L392.6 142.2 L390.2 139.6 L387.8 137.0 L385.4 134.4 L383.1 131.9 L380.7 129.3 L378.4 126.7 L376.1 124.1 L373.8 121.5 L371.6 118.9 L369.3 116.3 L367.1 113.7 L364.9 111.1 L362.7 108.5 L360.6 105.9 L358.4 103.3 L356.3 100.7 L354.2 98.1 L352.1 95.5 L350.0 93.0 L348.0 90.4 L345.9 87.8 L343.9 85.2 L341.9 82.6 L339.9 80.0 L338.0 77.4 L336.0 74.8" stroke="#58009a" stroke-width="1" transform="translate(0.0 0.5)"/>
<path d="M422.0 74.0 L397.9 148.6 L411.0 179.5 L420.9 201.8 L464.6 247.3 L495.0 276.4 L517.5 310.0 L533.6 336.8 L542.5 352.0 L553.2 376.0 L562.1 390.4 L573.8 410.0 L580.0 420.0 L585.4 430.7 L586.0 441.4 L587.1 465.0 L588.6 466.4 L595.7 474.3 L602.9 482.9 L618.6 495.7" stroke="#ff0000" stroke-width="1" transform="translate(0.0 -0.5)"/>
<path d="M422.0 74.0 L397.9 148.6 L411.0 179.5 L420.9 201.8 L464.6 247.3 L495.0 276.4 L517.5 310.0 L533.6 336.8 L542.5 352.0 L553.2 376.0 L562.1 390.4 L573.8 410.0 L580.0 420.0 L585.4 430.7 L586.0 441.4 L587.1 465.0 L588.6 466.4 L595.7 474.3 L602.9 482.9 L618.6 495.7" stroke="#ff0000" stroke-width="1" transform="translate(0.0 0.5)"/>
<path d="M373.4 75.4 L373.4 148.6 L380.9 170.0 L389.6 197.3 L390.5 201.8 L400.4 211.6 L417.3 231.2 L435.2 250.0 L439.6 253.2 L448.6 261.2 L463.8 275.5 L477.1 294.3 L487.9 312.1 L501.4 328.8 L510.4 352.0 L517.5 371.6 L522.0 385.0 L527.3 401.0 L532.7 409.0 L540.0 418.8 L560.0 449.3 L570.0 464.3 L582.9 474.3 L592.9 481.4 L597.9 488.6 L601.4 495.0" stroke="#0000ff" stroke-width="1" transform="translate(0.0 -0.5)"/>
<path d="M373.4 75.4 L373.4 148.6 L380.9 170.0 L389.6 197.3 L390.5 201.8 L400.4 211.6 L417.3 231.2 L435.2 250.0 L439.6 253.2 L448.6 261.2 L463.8 275.5 L477.1 294.3 L487.9 312.1 L501.4 328.8 L510.4 352.0 L517.5 371.6 L522.0 385.0 L527.3 401.0 L532.7 409.0 L540.0 418.8 L560.0 449.3 L570.0 464.3 L582.9 474.3 L592.9 481.4 L597.9 488.6 L601.4 495.0" stroke="#0000ff" stroke-width="1" transform="translate(0.0 0.5)"/>
<rect x="372" y="75" width="3" height="2" fill="#0000ff"/>
<rect x="600" y="494" width="3" height="3" fill="#0000ff"/>
</g>
<path d="M668 517h1v1h-1zM669 517h1v1h-1zM670 517h1v1h-1zM667 518h1v1h-1zM671 518h1v1h-1zM666 519h1v1h-1zM671 519h1v1h-1zM666 520h1v1h-1zM672 520h1v1h-1zM664 521h1v1h-1zM665 521h1v1h-1zM666 521h1v1h-1zM667 521h1v1h-1zM668 521h1v1h-1zM669 521h1v1h-1zM670 521h1v1h-1zM671 521h1v1h-1zM672 521h1v1h-1zM663 522h1v1h-1zM664 522h1v1h-1zM668 522h1v1h-1zM669 522h1v1h-1zM670 522h1v1h-1zM671 522h1v1h-1zM672 522h1v1h-1zM663 523h1v1h-1zM669 523h1v1h-1zM670 523h1v1h-1zM671 523h1v1h-1zM672 523h1v1h-1zM665 524h1v1h-1zM667 524h1v1h-1zM668 524h1v1h-1zM669 524h1v1h-1zM670 524h1v1h-1zM671 524h1v1h-1zM672 524h1v1h-1zM664 525h1v1h-1zM666 525h1v1h-1zM667 525h1v1h-1zM664 526h1v1h-1zM665 526h1v1h-1zM668 526h1v1h-1zM664 527h1v1h-1z" fill="#6400a8"/>
<path d="M89.57 40.50 85.50 51.50M89.57 40.50 93.64 51.50M87.03 47.83 92.11 47.83M96.18 40.50 96.18 51.50M100.25 40.50 100.25 51.50M100.25 40.50 104.82 40.50 106.35 41.02 106.86 41.54 107.37 42.59 107.37 43.64 106.86 44.69 106.35 45.21 104.82 45.74 100.25 45.74M103.81 45.74 107.37 51.50M117.54 42.07 116.52 41.02 115.00 40.50 112.96 40.50 111.44 41.02 110.42 42.07 110.42 43.12 110.93 44.16 111.44 44.69 112.45 45.21 115.50 46.26 116.52 46.78 117.03 47.31 117.54 48.36 117.54 49.93 116.52 50.98 115.00 51.50 112.96 51.50 111.44 50.98 110.42 49.93M135.85 42.07 134.83 41.02 133.30 40.50 131.27 40.50 129.74 41.02 128.73 42.07 128.73 43.12 129.23 44.16 129.74 44.69 130.76 45.21 133.81 46.26 134.83 46.78 135.34 47.31 135.85 48.36 135.85 49.93 134.83 50.98 133.30 51.50 131.27 51.50 129.74 50.98 128.73 49.93M139.41 40.50 139.41 51.50M144.49 44.16 139.41 49.40M141.44 47.31 145.00 51.50M147.54 47.31 153.64 47.31 153.64 46.26 153.14 45.21 152.63 44.69 151.61 44.16 150.09 44.16 149.07 44.69 148.05 45.74 147.54 47.31 147.54 48.36 148.05 49.93 149.07 50.98 150.09 51.50 151.61 51.50 152.63 50.98 153.64 49.93M156.19 44.16 157.71 51.50M159.24 44.16 157.71 51.50M159.24 44.16 160.76 51.50M162.29 44.16 160.76 51.50M167.38 40.50 167.38 51.50M163.82 40.50 170.94 40.50M181.61 40.50 181.61 51.50M181.61 40.50 185.17 40.50 186.70 41.02 187.72 42.07 188.23 43.12 188.73 44.69 188.73 47.31 188.23 48.88 187.72 49.93 186.70 50.98 185.17 51.50 181.61 51.50M191.79 40.50 192.29 41.02 192.80 40.50 192.29 39.97 191.79 40.50M192.29 44.16 192.29 51.50M201.96 44.16 201.96 51.50M201.96 45.74 200.94 44.69 199.92 44.16 198.40 44.16 197.38 44.69 196.36 45.74 195.85 47.31 195.85 48.36 196.36 49.93 197.38 50.98 198.40 51.50 199.92 51.50 200.94 50.98 201.96 49.93M211.62 44.16 211.62 52.55 211.11 54.12 210.60 54.64 209.58 55.17 208.06 55.17 207.04 54.64M211.62 45.74 210.60 44.69 209.58 44.16 208.06 44.16 207.04 44.69 206.02 45.74 205.52 47.31 205.52 48.36 206.02 49.93 207.04 50.98 208.06 51.50 209.58 51.50 210.60 50.98 211.62 49.93M215.69 44.16 215.69 51.50M215.69 47.31 216.20 45.74 217.21 44.69 218.23 44.16 219.76 44.16M227.89 44.16 227.89 51.50M227.89 45.74 226.88 44.69 225.86 44.16 224.33 44.16 223.32 44.69 222.30 45.74 221.79 47.31 221.79 48.36 222.30 49.93 223.32 50.98 224.33 51.50 225.86 51.50 226.88 50.98 227.89 49.93M231.96 44.16 231.96 51.50M231.96 46.26 233.49 44.69 234.50 44.16 236.03 44.16 237.05 44.69 237.55 46.26 237.55 51.50M237.55 46.26 239.08 44.69 240.10 44.16 241.62 44.16 242.64 44.69 243.15 46.26 243.15 51.50M255.35 43.12 255.35 42.59 255.86 41.54 256.37 41.02 257.39 40.50 259.42 40.50 260.44 41.02 260.95 41.54 261.46 42.59 261.46 43.64 260.95 44.69 259.93 46.26 254.84 51.50 261.96 51.50M268.07 40.50 266.54 41.02 265.52 42.59 265.02 45.21 265.02 46.78 265.52 49.40 266.54 50.98 268.07 51.50 269.08 51.50 270.61 50.98 271.63 49.40 272.14 46.78 272.14 45.21 271.63 42.59 270.61 41.02 269.08 40.50 268.07 40.50M276.71 42.59 277.73 42.07 279.26 40.50 279.26 51.50M288.41 40.50 286.88 41.02 285.87 42.59 285.36 45.21 285.36 46.78 285.87 49.40 286.88 50.98 288.41 51.50 289.43 51.50 290.95 50.98 291.97 49.40 292.48 46.78 292.48 45.21 291.97 42.59 290.95 41.02 289.43 40.50 288.41 40.50M295.02 46.78 306.21 46.78M311.80 40.50 310.28 41.02 309.26 42.59 308.75 45.21 308.75 46.78 309.26 49.40 310.28 50.98 311.80 51.50 312.82 51.50 314.34 50.98 315.36 49.40 315.87 46.78 315.87 45.21 315.36 42.59 314.34 41.02 312.82 40.50 311.80 40.50M321.46 40.50 319.94 41.02 319.43 42.07 319.43 43.12 319.94 44.16 320.96 44.69 322.99 45.21 324.52 45.74 325.53 46.78 326.04 47.83 326.04 49.40 325.53 50.45 325.02 50.98 323.50 51.50 321.46 51.50 319.94 50.98 319.43 50.45 318.92 49.40 318.92 47.83 319.43 46.78 320.45 45.74 321.97 45.21 324.01 44.69 325.02 44.16 325.53 43.12 325.53 42.07 325.02 41.02 323.50 40.50 321.46 40.50M328.58 46.78 339.77 46.78M345.37 40.50 343.84 41.02 342.82 42.59 342.31 45.21 342.31 46.78 342.82 49.40 343.84 50.98 345.37 51.50 346.38 51.50 347.91 50.98 348.93 49.40 349.43 46.78 349.43 45.21 348.93 42.59 347.91 41.02 346.38 40.50 345.37 40.50M354.01 42.59 355.03 42.07 356.55 40.50 356.55 51.50M371.30 38.40 362.15 55.17M375.37 42.59 376.39 42.07 377.91 40.50 377.91 51.50M391.13 40.50 386.05 51.50M384.02 40.50 391.13 40.50M395.20 44.16 394.69 44.69 395.20 45.21 395.71 44.69 395.20 44.16M395.20 50.45 394.69 50.98 395.20 51.50 395.71 50.98 395.20 50.45M400.29 40.50 405.88 40.50 402.83 44.69 404.36 44.69 405.37 45.21 405.88 45.74 406.39 47.31 406.39 48.36 405.88 49.93 404.87 50.98 403.34 51.50 401.81 51.50 400.29 50.98 399.78 50.45 399.27 49.40M416.05 44.16 415.54 45.74 414.53 46.78 413.00 47.31 412.49 47.31 410.97 46.78 409.95 45.74 409.44 44.16 409.44 43.64 409.95 42.07 410.97 41.02 412.49 40.50 413.00 40.50 414.53 41.02 415.54 42.07 416.05 44.16 416.05 46.78 415.54 49.40 414.53 50.98 413.00 51.50 411.98 51.50 410.46 50.98 409.95 49.93M420.63 44.16 420.12 44.69 420.63 45.21 421.14 44.69 420.63 44.16M420.63 50.45 420.12 50.98 420.63 51.50 421.14 50.98 420.63 50.45M425.72 40.50 431.31 40.50 428.26 44.69 429.78 44.69 430.80 45.21 431.31 45.74 431.82 47.31 431.82 48.36 431.31 49.93 430.29 50.98 428.77 51.50 427.24 51.50 425.72 50.98 425.21 50.45 424.70 49.40M441.48 42.07 440.97 41.02 439.45 40.50 438.43 40.50 436.90 41.02 435.89 42.59 435.38 45.21 435.38 47.83 435.89 49.93 436.90 50.98 438.43 51.50 438.94 51.50 440.46 50.98 441.48 49.93 441.99 48.36 441.99 47.83 441.48 46.26 440.46 45.21 438.94 44.69 438.43 44.69 436.90 45.21 435.89 46.26 435.38 47.83M446.06 50.45 445.55 50.98 446.06 51.50 446.57 50.98 446.06 50.45M457.25 40.50 452.16 51.50M450.13 40.50 457.25 40.50M461.31 40.50 466.91 40.50 463.86 44.69 465.38 44.69 466.40 45.21 466.91 45.74 467.42 47.31 467.42 48.36 466.91 49.93 465.89 50.98 464.36 51.50 462.84 51.50 461.31 50.98 460.81 50.45 460.30 49.40M482.67 38.40 481.66 39.45 480.64 41.02 479.62 43.12 479.11 45.74 479.11 47.83 479.62 50.45 480.64 52.55 481.66 54.12 482.67 55.17M486.23 40.50 486.23 51.50M486.23 51.50 492.33 51.50M500.47 44.16 500.47 51.50M500.47 45.74 499.45 44.69 498.44 44.16 496.91 44.16 495.89 44.69 494.88 45.74 494.37 47.31 494.37 48.36 494.88 49.93 495.89 50.98 496.91 51.50 498.44 51.50 499.45 50.98 500.47 49.93M505.05 40.50 505.05 49.40 505.56 50.98 506.57 51.50 507.59 51.50M503.52 44.16 507.08 44.16M518.78 38.40 509.63 55.17M521.83 40.50 521.83 51.50M521.83 51.50 527.93 51.50M532.51 44.16 531.49 44.69 530.48 45.74 529.97 47.31 529.97 48.36 530.48 49.93 531.49 50.98 532.51 51.50 534.04 51.50 535.05 50.98 536.07 49.93 536.58 48.36 536.58 47.31 536.07 45.74 535.05 44.69 534.04 44.16 532.51 44.16M540.14 44.16 540.14 51.50M540.14 46.26 541.66 44.69 542.68 44.16 544.21 44.16 545.22 44.69 545.73 46.26 545.73 51.50M558.95 42.59 559.97 42.07 561.50 40.50 561.50 51.50M570.14 40.50 568.62 41.02 568.11 42.07 568.11 43.12 568.62 44.16 569.63 44.69 571.67 45.21 573.19 45.74 574.21 46.78 574.72 47.83 574.72 49.40 574.21 50.45 573.70 50.98 572.18 51.50 570.14 51.50 568.62 50.98 568.11 50.45 567.60 49.40 567.60 47.83 568.11 46.78 569.12 45.74 570.65 45.21 572.68 44.69 573.70 44.16 574.21 43.12 574.21 42.07 573.70 41.02 572.18 40.50 570.14 40.50M578.79 50.45 578.28 50.98 578.79 51.50 579.30 50.98 578.79 50.45M589.47 44.16 588.96 45.74 587.94 46.78 586.42 47.31 585.91 47.31 584.38 46.78 583.36 45.74 582.86 44.16 582.86 43.64 583.36 42.07 584.38 41.02 585.91 40.50 586.42 40.50 587.94 41.02 588.96 42.07 589.47 44.16 589.47 46.78 588.96 49.40 587.94 50.98 586.42 51.50 585.40 51.50 583.87 50.98 583.36 49.93M600.15 40.50 595.06 51.50M593.03 40.50 600.15 40.50M611.84 38.40 602.69 55.17M615.91 42.59 616.93 42.07 618.45 40.50 618.45 51.50M625.57 40.50 631.17 40.50 628.12 44.69 629.64 44.69 630.66 45.21 631.17 45.74 631.68 47.31 631.68 48.36 631.17 49.93 630.15 50.98 628.62 51.50 627.10 51.50 625.57 50.98 625.06 50.45 624.56 49.40M637.78 40.50 636.25 41.02 635.24 42.59 634.73 45.21 634.73 46.78 635.24 49.40 636.25 50.98 637.78 51.50 638.80 51.50 640.32 50.98 641.34 49.40 641.85 46.78 641.85 45.21 641.34 42.59 640.32 41.02 638.80 40.50 637.78 40.50M645.91 50.45 645.41 50.98 645.91 51.50 646.42 50.98 645.91 50.45M651.51 42.59 652.53 42.07 654.05 40.50 654.05 51.50M665.24 40.50 660.15 47.83 667.78 47.83M665.24 40.50 665.24 51.50M684.56 40.50 684.56 51.50M684.56 45.74 683.55 44.69 682.53 44.16 681.00 44.16 679.99 44.69 678.97 45.74 678.46 47.31 678.46 48.36 678.97 49.93 679.99 50.98 681.00 51.50 682.53 51.50 683.55 50.98 684.56 49.93M688.12 47.31 694.23 47.31 694.23 46.26 693.72 45.21 693.21 44.69 692.19 44.16 690.67 44.16 689.65 44.69 688.63 45.74 688.12 47.31 688.12 48.36 688.63 49.93 689.65 50.98 690.67 51.50 692.19 51.50 693.21 50.98 694.23 49.93M703.38 44.16 703.38 52.55 702.87 54.12 702.36 54.64 701.35 55.17 699.82 55.17 698.80 54.64M703.38 45.74 702.36 44.69 701.35 44.16 699.82 44.16 698.80 44.69 697.79 45.74 697.28 47.31 697.28 48.36 697.79 49.93 698.80 50.98 699.82 51.50 701.35 51.50 702.36 50.98 703.38 49.93M706.94 38.40 707.96 39.45 708.97 41.02 709.99 43.12 710.50 45.74 710.50 47.83 709.99 50.45 708.97 52.55 707.96 54.12 706.94 55.17" fill="none" stroke="#000" stroke-width="1" stroke-linecap="square" stroke-linejoin="miter" shape-rendering="crispEdges"/>
<path d="M113.53 62.50 121.23 62.50M124.03 59.84 124.73 59.51 125.78 58.51 125.78 65.50M130.33 60.17 130.33 59.84 130.68 59.17 131.03 58.84 131.73 58.51 133.13 58.51 133.83 58.84 134.18 59.17 134.53 59.84 134.53 60.51 134.18 61.17 133.48 62.17 129.98 65.50 134.88 65.50M139.08 58.51 138.03 58.84 137.33 59.84 136.98 61.50 136.98 62.50 137.33 64.17 138.03 65.17 139.08 65.50 139.78 65.50 140.83 65.17 141.53 64.17 141.88 62.50 141.88 61.50 141.53 59.84 140.83 58.84 139.78 58.51 139.08 58.51" fill="none" stroke="#ff0000" stroke-width="1" stroke-linecap="square" stroke-linejoin="miter" shape-rendering="crispEdges"/>
<path d="M181.32 62.50 189.03 62.50M191.83 59.84 192.53 59.51 193.58 58.51 193.58 65.50M198.83 59.84 199.53 59.51 200.58 58.51 200.58 65.50M206.88 58.51 205.83 58.84 205.13 59.84 204.78 61.50 204.78 62.50 205.13 64.17 205.83 65.17 206.88 65.50 207.58 65.50 208.63 65.17 209.33 64.17 209.68 62.50 209.68 61.50 209.33 59.84 208.63 58.84 207.58 58.51 206.88 58.51" fill="none" stroke="#ff0000" stroke-width="1" stroke-linecap="square" stroke-linejoin="miter" shape-rendering="crispEdges"/>
<path d="M249.12 62.50 256.83 62.50M259.62 59.84 260.33 59.51 261.38 58.51 261.38 65.50M267.68 58.51 266.62 58.84 265.93 59.84 265.58 61.50 265.58 62.50 265.93 64.17 266.62 65.17 267.68 65.50 268.38 65.50 269.43 65.17 270.12 64.17 270.48 62.50 270.48 61.50 270.12 59.84 269.43 58.84 268.38 58.51 267.68 58.51M274.68 58.51 273.62 58.84 272.93 59.84 272.58 61.50 272.58 62.50 272.93 64.17 273.62 65.17 274.68 65.50 275.38 65.50 276.43 65.17 277.13 64.17 277.48 62.50 277.48 61.50 277.13 59.84 276.43 58.84 275.38 58.51 274.68 58.51" fill="none" stroke="#ff0000" stroke-width="1" stroke-linecap="square" stroke-linejoin="miter" shape-rendering="crispEdges"/>
<path d="M323.43 62.50 331.13 62.50M337.43 60.84 337.08 61.84 336.38 62.50 335.33 62.84 334.98 62.84 333.93 62.50 333.23 61.84 332.88 60.84 332.88 60.51 333.23 59.51 333.93 58.84 334.98 58.51 335.33 58.51 336.38 58.84 337.08 59.51 337.43 60.84 337.43 62.50 337.08 64.17 336.38 65.17 335.33 65.50 334.63 65.50 333.58 65.17 333.23 64.50M341.98 58.51 340.93 58.84 340.23 59.84 339.88 61.50 339.88 62.50 340.23 64.17 340.93 65.17 341.98 65.50 342.68 65.50 343.73 65.17 344.43 64.17 344.78 62.50 344.78 61.50 344.43 59.84 343.73 58.84 342.68 58.51 341.98 58.51" fill="none" stroke="#ff0000" stroke-width="1" stroke-linecap="square" stroke-linejoin="miter" shape-rendering="crispEdges"/>
<path d="M391.23 62.50 398.93 62.50M402.43 58.51 401.38 58.84 401.03 59.51 401.03 60.17 401.38 60.84 402.08 61.17 403.48 61.50 404.53 61.84 405.23 62.50 405.58 63.17 405.58 64.17 405.23 64.83 404.88 65.17 403.83 65.50 402.43 65.50 401.38 65.17 401.03 64.83 400.68 64.17 400.68 63.17 401.03 62.50 401.73 61.84 402.78 61.50 404.18 61.17 404.88 60.84 405.23 60.17 405.23 59.51 404.88 58.84 403.83 58.51 402.43 58.51M409.78 58.51 408.73 58.84 408.03 59.84 407.68 61.50 407.68 62.50 408.03 64.17 408.73 65.17 409.78 65.50 410.48 65.50 411.53 65.17 412.23 64.17 412.58 62.50 412.58 61.50 412.23 59.84 411.53 58.84 410.48 58.51 409.78 58.51" fill="none" stroke="#ff0000" stroke-width="1" stroke-linecap="square" stroke-linejoin="miter" shape-rendering="crispEdges"/>
<path d="M459.03 62.50 466.73 62.50M473.38 58.51 469.88 65.50M468.48 58.51 473.38 58.51M477.58 58.51 476.53 58.84 475.83 59.84 475.48 61.50 475.48 62.50 475.83 64.17 476.53 65.17 477.58 65.50 478.28 65.50 479.33 65.17 480.03 64.17 480.38 62.50 480.38 61.50 480.03 59.84 479.33 58.84 478.28 58.51 477.58 58.51" fill="none" stroke="#ff0000" stroke-width="1" stroke-linecap="square" stroke-linejoin="miter" shape-rendering="crispEdges"/>
<path d="M526.83 62.50 534.52 62.50M540.82 59.51 540.47 58.84 539.42 58.51 538.72 58.51 537.67 58.84 536.97 59.84 536.62 61.50 536.62 63.17 536.97 64.50 537.67 65.17 538.72 65.50 539.07 65.50 540.12 65.17 540.82 64.50 541.17 63.50 541.17 63.17 540.82 62.17 540.12 61.50 539.07 61.17 538.72 61.17 537.67 61.50 536.97 62.17 536.62 63.17M545.37 58.51 544.32 58.84 543.62 59.84 543.27 61.50 543.27 62.50 543.62 64.17 544.32 65.17 545.37 65.50 546.07 65.50 547.12 65.17 547.82 64.17 548.17 62.50 548.17 61.50 547.82 59.84 547.12 58.84 546.07 58.51 545.37 58.51" fill="none" stroke="#ff0000" stroke-width="1" stroke-linecap="square" stroke-linejoin="miter" shape-rendering="crispEdges"/>
<path d="M594.63 62.50 602.33 62.50M608.27 58.51 604.77 58.51 604.43 61.50 604.77 61.17 605.83 60.84 606.88 60.84 607.92 61.17 608.62 61.84 608.98 62.84 608.98 63.50 608.62 64.50 607.92 65.17 606.88 65.50 605.83 65.50 604.77 65.17 604.43 64.83 604.08 64.17M613.17 58.51 612.12 58.84 611.42 59.84 611.08 61.50 611.08 62.50 611.42 64.17 612.12 65.17 613.17 65.50 613.88 65.50 614.92 65.17 615.62 64.17 615.98 62.50 615.98 61.50 615.62 59.84 614.92 58.84 613.88 58.51 613.17 58.51" fill="none" stroke="#ff0000" stroke-width="1" stroke-linecap="square" stroke-linejoin="miter" shape-rendering="crispEdges"/>
<path d="M662.43 62.50 670.12 62.50M675.38 58.51 671.88 63.17 677.12 63.17M675.38 58.51 675.38 65.50M680.97 58.51 679.92 58.84 679.22 59.84 678.88 61.50 678.88 62.50 679.22 64.17 679.92 65.17 680.97 65.50 681.67 65.50 682.72 65.17 683.42 64.17 683.77 62.50 683.77 61.50 683.42 59.84 682.72 58.84 681.67 58.51 680.97 58.51" fill="none" stroke="#ff0000" stroke-width="1" stroke-linecap="square" stroke-linejoin="miter" shape-rendering="crispEdges"/>
<path d="M49.76 68.84 50.44 68.51 51.45 67.51 51.45 74.50M57.54 67.51 56.52 67.84 55.85 68.84 55.51 70.50 55.51 71.50 55.85 73.17 56.52 74.17 57.54 74.50 58.21 74.50 59.23 74.17 59.90 73.17 60.24 71.50 60.24 70.50 59.90 68.84 59.23 67.84 58.21 67.51 57.54 67.51M64.30 67.51 63.28 67.84 62.61 68.84 62.27 70.50 62.27 71.50 62.61 73.17 63.28 74.17 64.30 74.50 64.97 74.50 65.99 74.17 66.66 73.17 67.00 71.50 67.00 70.50 66.66 68.84 65.99 67.84 64.97 67.51 64.30 67.51" fill="none" stroke="#000" stroke-width="1" stroke-linecap="square" stroke-linejoin="miter" shape-rendering="crispEdges"/>
<path d="M49.09 196.17 49.09 195.84 49.42 195.17 49.76 194.84 50.44 194.51 51.79 194.51 52.47 194.84 52.80 195.17 53.14 195.84 53.14 196.50 52.80 197.17 52.13 198.17 48.75 201.50 53.48 201.50M57.54 194.51 56.52 194.84 55.85 195.84 55.51 197.50 55.51 198.50 55.85 200.17 56.52 201.17 57.54 201.50 58.21 201.50 59.23 201.17 59.90 200.17 60.24 198.50 60.24 197.50 59.90 195.84 59.23 194.84 58.21 194.51 57.54 194.51M64.30 194.51 63.28 194.84 62.61 195.84 62.27 197.50 62.27 198.50 62.61 200.17 63.28 201.17 64.30 201.50 64.97 201.50 65.99 201.17 66.66 200.17 67.00 198.50 67.00 197.50 66.66 195.84 65.99 194.84 64.97 194.51 64.30 194.51" fill="none" stroke="#000" stroke-width="1" stroke-linecap="square" stroke-linejoin="miter" shape-rendering="crispEdges"/>
<path d="M49.42 268.51 53.14 268.51 51.11 271.17 52.13 271.17 52.80 271.50 53.14 271.84 53.48 272.84 53.48 273.50 53.14 274.50 52.47 275.17 51.45 275.50 50.44 275.50 49.42 275.17 49.09 274.83 48.75 274.17M57.54 268.51 56.52 268.84 55.85 269.84 55.51 271.50 55.51 272.50 55.85 274.17 56.52 275.17 57.54 275.50 58.21 275.50 59.23 275.17 59.90 274.17 60.24 272.50 60.24 271.50 59.90 269.84 59.23 268.84 58.21 268.51 57.54 268.51M64.30 268.51 63.28 268.84 62.61 269.84 62.27 271.50 62.27 272.50 62.61 274.17 63.28 275.17 64.30 275.50 64.97 275.50 65.99 275.17 66.66 274.17 67.00 272.50 67.00 271.50 66.66 269.84 65.99 268.84 64.97 268.51 64.30 268.51" fill="none" stroke="#000" stroke-width="1" stroke-linecap="square" stroke-linejoin="miter" shape-rendering="crispEdges"/>
<path d="M52.13 320.51 48.75 325.17 53.82 325.17M52.13 320.51 52.13 327.50M57.54 320.51 56.52 320.84 55.85 321.84 55.51 323.50 55.51 324.50 55.85 326.17 56.52 327.17 57.54 327.50 58.21 327.50 59.23 327.17 59.90 326.17 60.24 324.50 60.24 323.50 59.90 321.84 59.23 320.84 58.21 320.51 57.54 320.51M64.30 320.51 63.28 320.84 62.61 321.84 62.27 323.50 62.27 324.50 62.61 326.17 63.28 327.17 64.30 327.50 64.97 327.50 65.99 327.17 66.66 326.17 67.00 324.50 67.00 323.50 66.66 321.84 65.99 320.84 64.97 320.51 64.30 320.51" fill="none" stroke="#000" stroke-width="1" stroke-linecap="square" stroke-linejoin="miter" shape-rendering="crispEdges"/>
<path d="M52.80 361.51 49.42 361.51 49.09 364.50 49.42 364.17 50.44 363.84 51.45 363.84 52.47 364.17 53.14 364.84 53.48 365.84 53.48 366.50 53.14 367.50 52.47 368.17 51.45 368.50 50.44 368.50 49.42 368.17 49.09 367.83 48.75 367.17M57.54 361.51 56.52 361.84 55.85 362.84 55.51 364.50 55.51 365.50 55.85 367.17 56.52 368.17 57.54 368.50 58.21 368.50 59.23 368.17 59.90 367.17 60.24 365.50 60.24 364.50 59.90 362.84 59.23 361.84 58.21 361.51 57.54 361.51M64.30 361.51 63.28 361.84 62.61 362.84 62.27 364.50 62.27 365.50 62.61 367.17 63.28 368.17 64.30 368.50 64.97 368.50 65.99 368.17 66.66 367.17 67.00 365.50 67.00 364.50 66.66 362.84 65.99 361.84 64.97 361.51 64.30 361.51" fill="none" stroke="#000" stroke-width="1" stroke-linecap="square" stroke-linejoin="miter" shape-rendering="crispEdges"/>
<path d="M53.14 395.51 52.80 394.84 51.79 394.51 51.11 394.51 50.10 394.84 49.42 395.84 49.09 397.50 49.09 399.17 49.42 400.50 50.10 401.17 51.11 401.50 51.45 401.50 52.47 401.17 53.14 400.50 53.48 399.50 53.48 399.17 53.14 398.17 52.47 397.50 51.45 397.17 51.11 397.17 50.10 397.50 49.42 398.17 49.09 399.17M57.54 394.51 56.52 394.84 55.85 395.84 55.51 397.50 55.51 398.50 55.85 400.17 56.52 401.17 57.54 401.50 58.21 401.50 59.23 401.17 59.90 400.17 60.24 398.50 60.24 397.50 59.90 395.84 59.23 394.84 58.21 394.51 57.54 394.51M64.30 394.51 63.28 394.84 62.61 395.84 62.27 397.50 62.27 398.50 62.61 400.17 63.28 401.17 64.30 401.50 64.97 401.50 65.99 401.17 66.66 400.17 67.00 398.50 67.00 397.50 66.66 395.84 65.99 394.84 64.97 394.51 64.30 394.51" fill="none" stroke="#000" stroke-width="1" stroke-linecap="square" stroke-linejoin="miter" shape-rendering="crispEdges"/>
<path d="M53.48 422.51 50.10 429.50M48.75 422.51 53.48 422.51M57.54 422.51 56.52 422.84 55.85 423.84 55.51 425.50 55.51 426.50 55.85 428.17 56.52 429.17 57.54 429.50 58.21 429.50 59.23 429.17 59.90 428.17 60.24 426.50 60.24 425.50 59.90 423.84 59.23 422.84 58.21 422.51 57.54 422.51M64.30 422.51 63.28 422.84 62.61 423.84 62.27 425.50 62.27 426.50 62.61 428.17 63.28 429.17 64.30 429.50 64.97 429.50 65.99 429.17 66.66 428.17 67.00 426.50 67.00 425.50 66.66 423.84 65.99 422.84 64.97 422.51 64.30 422.51" fill="none" stroke="#000" stroke-width="1" stroke-linecap="square" stroke-linejoin="miter" shape-rendering="crispEdges"/>
<path d="M50.44 446.51 49.42 446.84 49.09 447.51 49.09 448.17 49.42 448.84 50.10 449.17 51.45 449.50 52.47 449.84 53.14 450.50 53.48 451.17 53.48 452.17 53.14 452.83 52.80 453.17 51.79 453.50 50.44 453.50 49.42 453.17 49.09 452.83 48.75 452.17 48.75 451.17 49.09 450.50 49.76 449.84 50.78 449.50 52.13 449.17 52.80 448.84 53.14 448.17 53.14 447.51 52.80 446.84 51.79 446.51 50.44 446.51M57.54 446.51 56.52 446.84 55.85 447.84 55.51 449.50 55.51 450.50 55.85 452.17 56.52 453.17 57.54 453.50 58.21 453.50 59.23 453.17 59.90 452.17 60.24 450.50 60.24 449.50 59.90 447.84 59.23 446.84 58.21 446.51 57.54 446.51M64.30 446.51 63.28 446.84 62.61 447.84 62.27 449.50 62.27 450.50 62.61 452.17 63.28 453.17 64.30 453.50 64.97 453.50 65.99 453.17 66.66 452.17 67.00 450.50 67.00 449.50 66.66 447.84 65.99 446.84 64.97 446.51 64.30 446.51" fill="none" stroke="#000" stroke-width="1" stroke-linecap="square" stroke-linejoin="miter" shape-rendering="crispEdges"/>
<path d="M53.14 470.84 52.80 471.84 52.13 472.50 51.11 472.84 50.78 472.84 49.76 472.50 49.09 471.84 48.75 470.84 48.75 470.50 49.09 469.51 49.76 468.84 50.78 468.51 51.11 468.51 52.13 468.84 52.80 469.51 53.14 470.84 53.14 472.50 52.80 474.17 52.13 475.17 51.11 475.50 50.44 475.50 49.42 475.17 49.09 474.50M57.54 468.51 56.52 468.84 55.85 469.84 55.51 471.50 55.51 472.50 55.85 474.17 56.52 475.17 57.54 475.50 58.21 475.50 59.23 475.17 59.90 474.17 60.24 472.50 60.24 471.50 59.90 469.84 59.23 468.84 58.21 468.51 57.54 468.51M64.30 468.51 63.28 468.84 62.61 469.84 62.27 471.50 62.27 472.50 62.61 474.17 63.28 475.17 64.30 475.50 64.97 475.50 65.99 475.17 66.66 474.17 67.00 472.50 67.00 471.50 66.66 469.84 65.99 468.84 64.97 468.51 64.30 468.51" fill="none" stroke="#000" stroke-width="1" stroke-linecap="square" stroke-linejoin="miter" shape-rendering="crispEdges"/>
<path d="M43.00 488.84 43.68 488.51 44.69 487.51 44.69 494.50M50.78 487.51 49.76 487.84 49.09 488.84 48.75 490.50 48.75 491.50 49.09 493.17 49.76 494.17 50.78 494.50 51.45 494.50 52.47 494.17 53.14 493.17 53.48 491.50 53.48 490.50 53.14 488.84 52.47 487.84 51.45 487.51 50.78 487.51M57.54 487.51 56.52 487.84 55.85 488.84 55.51 490.50 55.51 491.50 55.85 493.17 56.52 494.17 57.54 494.50 58.21 494.50 59.23 494.17 59.90 493.17 60.24 491.50 60.24 490.50 59.90 488.84 59.23 487.84 58.21 487.51 57.54 487.51M64.30 487.51 63.28 487.84 62.61 488.84 62.27 490.50 62.27 491.50 62.61 493.17 63.28 494.17 64.30 494.50 64.97 494.50 65.99 494.17 66.66 493.17 67.00 491.50 67.00 490.50 66.66 488.84 65.99 487.84 64.97 487.51 64.30 487.51" fill="none" stroke="#000" stroke-width="1" stroke-linecap="square" stroke-linejoin="miter" shape-rendering="crispEdges"/>
<path d="M87.03 513.50 94.72 513.50M100.67 509.51 97.17 509.51 96.83 512.50 97.17 512.17 98.22 511.84 99.28 511.84 100.33 512.17 101.03 512.84 101.38 513.84 101.38 514.50 101.03 515.50 100.33 516.17 99.28 516.50 98.22 516.50 97.17 516.17 96.83 515.83 96.47 515.17M105.58 509.51 104.53 509.84 103.83 510.84 103.47 512.50 103.47 513.50 103.83 515.17 104.53 516.17 105.58 516.50 106.28 516.50 107.33 516.17 108.03 515.17 108.38 513.50 108.38 512.50 108.03 510.84 107.33 509.84 106.28 509.51 105.58 509.51" fill="none" stroke="#ff0000" stroke-width="1" stroke-linecap="square" stroke-linejoin="miter" shape-rendering="crispEdges"/>
<path d="M154.82 513.50 162.53 513.50M167.78 509.51 164.28 514.17 169.53 514.17M167.78 509.51 167.78 516.50M173.38 509.51 172.33 509.84 171.63 510.84 171.28 512.50 171.28 513.50 171.63 515.17 172.33 516.17 173.38 516.50 174.08 516.50 175.13 516.17 175.83 515.17 176.18 513.50 176.18 512.50 175.83 510.84 175.13 509.84 174.08 509.51 173.38 509.51" fill="none" stroke="#ff0000" stroke-width="1" stroke-linecap="square" stroke-linejoin="miter" shape-rendering="crispEdges"/>
<path d="M222.62 513.50 230.32 513.50M232.78 509.51 236.62 509.51 234.53 512.17 235.57 512.17 236.28 512.50 236.62 512.84 236.97 513.84 236.97 514.50 236.62 515.50 235.93 516.17 234.88 516.50 233.82 516.50 232.78 516.17 232.42 515.83 232.07 515.17M241.18 509.51 240.12 509.84 239.43 510.84 239.07 512.50 239.07 513.50 239.43 515.17 240.12 516.17 241.18 516.50 241.88 516.50 242.93 516.17 243.62 515.17 243.97 513.50 243.97 512.50 243.62 510.84 242.93 509.84 241.88 509.51 241.18 509.51" fill="none" stroke="#ff0000" stroke-width="1" stroke-linecap="square" stroke-linejoin="miter" shape-rendering="crispEdges"/>
<path d="M290.42 513.50 298.12 513.50M300.22 511.17 300.22 510.84 300.57 510.17 300.92 509.84 301.62 509.51 303.02 509.51 303.72 509.84 304.07 510.17 304.42 510.84 304.42 511.50 304.07 512.17 303.38 513.17 299.88 516.50 304.77 516.50M308.97 509.51 307.93 509.84 307.22 510.84 306.88 512.50 306.88 513.50 307.22 515.17 307.93 516.17 308.97 516.50 309.68 516.50 310.72 516.17 311.43 515.17 311.77 513.50 311.77 512.50 311.43 510.84 310.72 509.84 309.68 509.51 308.97 509.51" fill="none" stroke="#ff0000" stroke-width="1" stroke-linecap="square" stroke-linejoin="miter" shape-rendering="crispEdges"/>
<path d="M358.22 513.50 365.93 513.50M368.72 510.84 369.43 510.51 370.47 509.51 370.47 516.50M376.77 509.51 375.73 509.84 375.02 510.84 374.68 512.50 374.68 513.50 375.02 515.17 375.73 516.17 376.77 516.50 377.48 516.50 378.52 516.17 379.23 515.17 379.57 513.50 379.57 512.50 379.23 510.84 378.52 509.84 377.48 509.51 376.77 509.51" fill="none" stroke="#ff0000" stroke-width="1" stroke-linecap="square" stroke-linejoin="miter" shape-rendering="crispEdges"/>
<path d="M436.35 509.51 435.30 509.84 434.60 510.84 434.25 512.50 434.25 513.50 434.60 515.17 435.30 516.17 436.35 516.50 437.05 516.50 438.10 516.17 438.80 515.17 439.15 513.50 439.15 512.50 438.80 510.84 438.10 509.84 437.05 509.51 436.35 509.51" fill="none" stroke="#ff0000" stroke-width="1" stroke-linecap="square" stroke-linejoin="miter" shape-rendering="crispEdges"/>
<path d="M499.07 510.84 499.77 510.51 500.82 509.51 500.82 516.50M507.12 509.51 506.07 509.84 505.38 510.84 505.02 512.50 505.02 513.50 505.38 515.17 506.07 516.17 507.12 516.50 507.82 516.50 508.88 516.17 509.57 515.17 509.93 513.50 509.93 512.50 509.57 510.84 508.88 509.84 507.82 509.51 507.12 509.51" fill="none" stroke="#ff0000" stroke-width="1" stroke-linecap="square" stroke-linejoin="miter" shape-rendering="crispEdges"/>
<path d="M566.70 511.17 566.70 510.84 567.05 510.17 567.40 509.84 568.10 509.51 569.50 509.51 570.20 509.84 570.55 510.17 570.90 510.84 570.90 511.50 570.55 512.17 569.85 513.17 566.35 516.50 571.25 516.50M575.45 509.51 574.40 509.84 573.70 510.84 573.35 512.50 573.35 513.50 573.70 515.17 574.40 516.17 575.45 516.50 576.15 516.50 577.20 516.17 577.90 515.17 578.25 513.50 578.25 512.50 577.90 510.84 577.20 509.84 576.15 509.51 575.45 509.51" fill="none" stroke="#ff0000" stroke-width="1" stroke-linecap="square" stroke-linejoin="miter" shape-rendering="crispEdges"/>
<path d="M634.85 509.51 638.70 509.51 636.60 512.17 637.65 512.17 638.35 512.50 638.70 512.84 639.05 513.84 639.05 514.50 638.70 515.50 638.00 516.17 636.95 516.50 635.90 516.50 634.85 516.17 634.50 515.83 634.15 515.17M643.25 509.51 642.20 509.84 641.50 510.84 641.15 512.50 641.15 513.50 641.50 515.17 642.20 516.17 643.25 516.50 643.95 516.50 645.00 516.17 645.70 515.17 646.05 513.50 646.05 512.50 645.70 510.84 645.00 509.84 643.95 509.51 643.25 509.51" fill="none" stroke="#ff0000" stroke-width="1" stroke-linecap="square" stroke-linejoin="miter" shape-rendering="crispEdges"/>
<path d="M679.95 509.51 679.95 516.50M677.50 509.51 682.40 509.51M686.60 508.18 685.90 508.84 685.20 509.84 684.50 511.17 684.15 512.84 684.15 514.17 684.50 515.83 685.20 517.17 685.90 518.16 686.60 518.83M693.95 511.17 693.60 510.51 692.90 509.84 692.20 509.51 690.80 509.51 690.10 509.84 689.40 510.51 689.05 511.17 688.70 512.17 688.70 513.84 689.05 514.84 689.40 515.50 690.10 516.17 690.80 516.50 692.20 516.50 692.90 516.17 693.60 515.50 693.95 514.84M696.05 508.18 696.75 508.84 697.45 509.84 698.15 511.17 698.50 512.84 698.50 514.17 698.15 515.83 697.45 517.17 696.75 518.16 696.05 518.83" fill="none" stroke="#ff0000" stroke-width="1" stroke-linecap="square" stroke-linejoin="miter" shape-rendering="crispEdges"/>
<path d="M676.88 517.40 676.20 518.09 675.52 519.12 674.84 520.50 674.50 522.22 674.50 523.59 674.84 525.31 675.52 526.69 676.20 527.72 676.88 528.41M683.01 521.18 683.01 526.69 682.66 527.72 682.32 528.06 681.64 528.41 680.62 528.41 679.94 528.06M683.01 522.22 682.32 521.53 681.64 521.18 680.62 521.18 679.94 521.53 679.26 522.22 678.92 523.25 678.92 523.94 679.26 524.97 679.94 525.66 680.62 526.00 681.64 526.00 682.32 525.66 683.01 524.97M691.17 517.40 685.05 528.41M693.21 518.78 693.21 526.00M696.61 521.18 693.21 524.62M694.57 523.25 696.95 526.00M702.74 521.18 702.74 526.69 702.40 527.72 702.06 528.06 701.38 528.41 700.36 528.41 699.68 528.06M702.74 522.22 702.06 521.53 701.38 521.18 700.36 521.18 699.68 521.53 698.99 522.22 698.65 523.25 698.65 523.94 698.99 524.97 699.68 525.66 700.36 526.00 701.38 526.00 702.06 525.66 702.74 524.97M705.12 517.40 705.80 518.09 706.48 519.12 707.16 520.50 707.50 522.22 707.50 523.59 707.16 525.31 706.48 526.69 705.80 527.72 705.12 528.41" fill="none" stroke="#6400a8" stroke-width="1" stroke-linecap="square" stroke-linejoin="miter" shape-rendering="crispEdges"/>
<path d="M72.50 331.50 82.50 331.50M72.50 331.50 72.50 327.66 72.98 326.39 73.45 325.96 74.40 325.53 75.83 325.53 76.79 325.96 77.26 326.39 77.74 327.66 77.74 331.50M72.50 322.55 82.50 322.55M72.50 322.55 72.50 318.71 72.98 317.43 73.45 317.01 74.40 316.58 75.36 316.58 76.31 317.01 76.79 317.43 77.26 318.71 77.26 322.55M77.26 319.57 82.50 316.58M72.50 313.60 82.50 313.60M72.50 313.60 72.50 308.06M77.26 313.60 77.26 310.19M82.50 313.60 82.50 308.06M73.93 299.96 72.98 300.81 72.50 302.09 72.50 303.80 72.98 305.07 73.93 305.93 74.88 305.93 75.83 305.50 76.31 305.07 76.79 304.22 77.74 301.66 78.21 300.81 78.69 300.39 79.64 299.96 81.07 299.96 82.02 300.81 82.50 302.09 82.50 303.80 82.02 305.07 81.07 305.93M73.93 291.43 72.98 292.29 72.50 293.57 72.50 295.27 72.98 296.55 73.93 297.40 74.88 297.40 75.83 296.98 76.31 296.55 76.79 295.70 77.74 293.14 78.21 292.29 78.69 291.86 79.64 291.43 81.07 291.43 82.02 292.29 82.50 293.57 82.50 295.27 82.02 296.55 81.07 297.40M72.50 288.45 79.64 288.45 81.07 288.02 82.02 287.17 82.50 285.89 82.50 285.04 82.02 283.76 81.07 282.91 79.64 282.48 72.50 282.48M72.50 279.07 82.50 279.07M72.50 279.07 72.50 275.24 72.98 273.96 73.45 273.53 74.40 273.11 75.36 273.11 76.31 273.53 76.79 273.96 77.26 275.24 77.26 279.07M77.26 276.09 82.50 273.11M72.50 270.12 82.50 270.12M72.50 270.12 72.50 264.58M77.26 270.12 77.26 266.71M82.50 270.12 82.50 264.58M70.60 252.22 71.55 253.07 72.98 253.93 74.88 254.78 77.26 255.20 79.17 255.20 81.55 254.78 83.45 253.93 84.88 253.07 85.83 252.22M72.50 249.24 82.50 249.24M72.50 249.24 82.50 245.83M72.50 242.42 82.50 245.83M72.50 242.42 82.50 242.42M72.50 239.01 82.50 239.01M72.50 239.01 72.50 235.17 72.98 233.89 73.45 233.47 74.40 233.04 75.36 233.04 76.31 233.47 76.79 233.89 77.26 235.17M77.26 239.01 77.26 235.17 77.74 233.89 78.21 233.47 79.17 233.04 80.60 233.04 81.55 233.47 82.02 233.89 82.50 235.17 82.50 239.01M70.60 230.48 71.55 229.63 72.98 228.78 74.88 227.93 77.26 227.50 79.17 227.50 81.55 227.93 83.45 228.78 84.88 229.63 85.83 230.48" fill="none" stroke="#000" stroke-width="1" stroke-linecap="square" stroke-linejoin="miter" shape-rendering="crispEdges"/>
<path d="M122.23 103.48 117.50 116.50M122.23 103.48 126.96 116.50M119.27 112.16 125.19 112.16M129.92 107.82 129.92 116.50M129.92 110.30 131.69 108.44 132.87 107.82 134.65 107.82 135.83 108.44 136.42 110.30 136.42 116.50M136.42 110.30 138.19 108.44 139.38 107.82 141.15 107.82 142.33 108.44 142.92 110.30 142.92 116.50M147.65 103.48 147.65 116.50M147.65 109.68 148.84 108.44 150.02 107.82 151.79 107.82 152.97 108.44 154.16 109.68 154.75 111.54 154.75 112.78 154.16 114.64 152.97 115.88 151.79 116.50 150.02 116.50 148.84 115.88 147.65 114.64M158.30 103.48 158.89 104.10 159.48 103.48 158.89 102.86 158.30 103.48M158.89 107.82 158.89 116.50M163.03 111.54 170.12 111.54 170.12 110.30 169.53 109.06 168.94 108.44 167.76 107.82 165.98 107.82 164.80 108.44 163.62 109.68 163.03 111.54 163.03 112.78 163.62 114.64 164.80 115.88 165.98 116.50 167.76 116.50 168.94 115.88 170.12 114.64M174.26 107.82 174.26 116.50M174.26 110.30 176.03 108.44 177.22 107.82 178.99 107.82 180.17 108.44 180.76 110.30 180.76 116.50M186.08 103.48 186.08 114.02 186.68 115.88 187.86 116.50 189.04 116.50M184.31 107.82 188.45 107.82M205.00 103.48 200.27 116.50M205.00 103.48 209.73 116.50M202.05 112.16 207.96 112.16M212.10 103.48 212.69 104.10 213.28 103.48 212.69 102.86 212.10 103.48M212.69 107.82 212.69 116.50M217.42 107.82 217.42 116.50M217.42 111.54 218.01 109.68 219.19 108.44 220.38 107.82 222.15 107.82M236.93 103.48 236.93 116.50M232.79 103.48 241.07 103.48M243.43 111.54 250.53 111.54 250.53 110.30 249.94 109.06 249.35 108.44 248.16 107.82 246.39 107.82 245.21 108.44 244.03 109.68 243.43 111.54 243.43 112.78 244.03 114.64 245.21 115.88 246.39 116.50 248.16 116.50 249.35 115.88 250.53 114.64M254.67 107.82 254.67 116.50M254.67 110.30 256.44 108.44 257.62 107.82 259.40 107.82 260.58 108.44 261.17 110.30 261.17 116.50M261.17 110.30 262.95 108.44 264.13 107.82 265.90 107.82 267.08 108.44 267.68 110.30 267.68 116.50M272.41 107.82 272.41 120.84M272.41 109.68 273.59 108.44 274.77 107.82 276.54 107.82 277.73 108.44 278.91 109.68 279.50 111.54 279.50 112.78 278.91 114.64 277.73 115.88 276.54 116.50 274.77 116.50 273.59 115.88 272.41 114.64" fill="none" stroke="#ff0000" stroke-width="1" stroke-linecap="square" stroke-linejoin="miter" shape-rendering="crispEdges"/>
<path d="M119.50 125.32 119.50 137.50M119.50 125.32 123.74 125.32 125.55 125.90 126.76 127.06 127.37 128.22 127.98 129.96 127.98 132.86 127.37 134.60 126.76 135.76 125.55 136.92 123.74 137.50 119.50 137.50M131.61 132.86 138.87 132.86 138.87 131.70 138.27 130.54 137.66 129.96 136.45 129.38 134.63 129.38 133.42 129.96 132.21 131.12 131.61 132.86 131.61 134.02 132.21 135.76 133.42 136.92 134.63 137.50 136.45 137.50 137.66 136.92 138.87 135.76M141.90 129.38 143.71 137.50M145.53 129.38 143.71 137.50M145.53 129.38 147.35 137.50M149.16 129.38 147.35 137.50M162.48 125.32 162.48 137.50M162.48 125.32 167.93 125.32 169.75 125.90 170.35 126.48 170.96 127.64 170.96 129.38 170.35 130.54 169.75 131.12 167.93 131.70 162.48 131.70M177.62 129.38 176.40 129.96 175.19 131.12 174.59 132.86 174.59 134.02 175.19 135.76 176.40 136.92 177.62 137.50 179.43 137.50 180.64 136.92 181.85 135.76 182.46 134.02 182.46 132.86 181.85 131.12 180.64 129.96 179.43 129.38 177.62 129.38M186.09 125.32 186.70 125.90 187.30 125.32 186.70 124.74 186.09 125.32M186.70 129.38 186.70 137.50M191.54 129.38 191.54 137.50M191.54 131.70 193.36 129.96 194.57 129.38 196.38 129.38 197.59 129.96 198.20 131.70 198.20 137.50M203.65 125.32 203.65 135.18 204.25 136.92 205.46 137.50 206.67 137.50M201.83 129.38 206.07 129.38M222.41 125.32 222.41 137.50M218.18 125.32 226.65 125.32M229.07 132.86 236.34 132.86 236.34 131.70 235.73 130.54 235.13 129.96 233.92 129.38 232.10 129.38 230.89 129.96 229.68 131.12 229.07 132.86 229.07 134.02 229.68 135.76 230.89 136.92 232.10 137.50 233.92 137.50 235.13 136.92 236.34 135.76M240.57 129.38 240.57 137.50M240.57 131.70 242.39 129.96 243.60 129.38 245.42 129.38 246.63 129.96 247.23 131.70 247.23 137.50M247.23 131.70 249.05 129.96 250.26 129.38 252.08 129.38 253.29 129.96 253.89 131.70 253.89 137.50M258.74 129.38 258.74 141.56M258.74 131.12 259.95 129.96 261.16 129.38 262.97 129.38 264.18 129.96 265.39 131.12 266.00 132.86 266.00 134.02 265.39 135.76 264.18 136.92 262.97 137.50 261.16 137.50 259.95 136.92 258.74 135.76" fill="none" stroke="#0000ff" stroke-width="1" stroke-linecap="square" stroke-linejoin="miter" shape-rendering="crispEdges"/>
<path d="M122.23 146.48 117.50 159.50M122.23 146.48 126.96 159.50M119.27 155.16 125.19 155.16M129.32 146.48 129.92 147.10 130.51 146.48 129.92 145.86 129.32 146.48M129.92 150.82 129.92 159.50M134.65 150.82 134.65 159.50M134.65 154.54 135.24 152.68 136.42 151.44 137.60 150.82 139.38 150.82M151.79 146.48 151.79 159.50M151.79 146.48 157.11 146.48 158.89 147.10 159.48 147.72 160.07 148.96 160.07 150.82 159.48 152.06 158.89 152.68 157.11 153.30 151.79 153.30M170.71 150.82 170.71 159.50M170.71 152.68 169.53 151.44 168.35 150.82 166.57 150.82 165.39 151.44 164.21 152.68 163.62 154.54 163.62 155.78 164.21 157.64 165.39 158.88 166.57 159.50 168.35 159.50 169.53 158.88 170.71 157.64M175.44 150.82 175.44 159.50M175.44 154.54 176.03 152.68 177.22 151.44 178.40 150.82 180.17 150.82M189.63 152.68 188.45 151.44 187.27 150.82 185.49 150.82 184.31 151.44 183.13 152.68 182.54 154.54 182.54 155.78 183.13 157.64 184.31 158.88 185.49 159.50 187.27 159.50 188.45 158.88 189.63 157.64M193.18 154.54 200.27 154.54 200.27 153.30 199.68 152.06 199.09 151.44 197.91 150.82 196.14 150.82 194.95 151.44 193.77 152.68 193.18 154.54 193.18 155.78 193.77 157.64 194.95 158.88 196.14 159.50 197.91 159.50 199.09 158.88 200.27 157.64M204.41 146.48 204.41 159.50M220.97 146.48 220.97 159.50M216.83 146.48 225.11 146.48M227.47 154.54 234.57 154.54 234.57 153.30 233.97 152.06 233.38 151.44 232.20 150.82 230.43 150.82 229.24 151.44 228.06 152.68 227.47 154.54 227.47 155.78 228.06 157.64 229.24 158.88 230.43 159.50 232.20 159.50 233.38 158.88 234.57 157.64M238.70 150.82 238.70 159.50M238.70 153.30 240.48 151.44 241.66 150.82 243.43 150.82 244.62 151.44 245.21 153.30 245.21 159.50M245.21 153.30 246.98 151.44 248.16 150.82 249.94 150.82 251.12 151.44 251.71 153.30 251.71 159.50M256.44 150.82 256.44 163.84M256.44 152.68 257.62 151.44 258.81 150.82 260.58 150.82 261.76 151.44 262.95 152.68 263.54 154.54 263.54 155.78 262.95 157.64 261.76 158.88 260.58 159.50 258.81 159.50 257.62 158.88 256.44 157.64" fill="none" stroke="#6400a8" stroke-width="1" stroke-linecap="square" stroke-linejoin="miter" shape-rendering="crispEdges"/>
<path d="M704.42 75.47 704.42 84.50M701.50 75.47 707.35 75.47M709.43 75.47 709.43 84.50M709.43 75.47 713.19 75.47 714.44 75.90 714.86 76.33 715.28 77.19 715.28 78.48 714.86 79.34 714.44 79.77 713.19 80.20 709.43 80.20M718.62 78.48 718.20 78.91 718.62 79.34 719.03 78.91 718.62 78.48M718.62 83.64 718.20 84.07 718.62 84.50 719.03 84.07 718.62 83.64M723.21 77.19 724.04 76.76 725.30 75.47 725.30 84.50M732.81 75.47 731.56 75.90 730.73 77.19 730.31 79.34 730.31 80.63 730.73 82.78 731.56 84.07 732.81 84.50 733.65 84.50 734.90 84.07 735.74 82.78 736.15 80.63 736.15 79.34 735.74 77.19 734.90 75.90 733.65 75.47 732.81 75.47M741.16 75.47 739.91 75.90 739.07 77.19 738.66 79.34 738.66 80.63 739.07 82.78 739.91 84.07 741.16 84.50 742.00 84.50 743.25 84.07 744.09 82.78 744.50 80.63 744.50 79.34 744.09 77.19 743.25 75.90 742.00 75.47 741.16 75.47" fill="none" stroke="#000" stroke-width="1" stroke-linecap="square" stroke-linejoin="miter" shape-rendering="crispEdges"/>
<path d="M701.50 91.16 701.50 100.19M701.50 91.16 704.84 100.19M708.18 91.16 704.84 100.19M708.18 91.16 708.18 100.19M710.69 91.16 712.77 100.19M714.86 91.16 712.77 100.19M714.86 91.16 716.95 100.19M719.04 91.16 716.95 100.19M721.96 94.17 721.54 94.60 721.96 95.03 722.38 94.60 721.96 94.17M721.96 99.33 721.54 99.76 721.96 100.19 722.38 99.76 721.96 99.33M725.72 91.16 725.72 100.19M725.72 91.16 731.56 100.19M731.56 91.16 731.56 100.19M741.58 89.44 734.07 103.20M746.17 91.16 742.83 100.19M746.17 91.16 749.51 100.19M744.09 97.18 748.26 97.18" fill="none" stroke="#000" stroke-width="1" stroke-linecap="square" stroke-linejoin="miter" shape-rendering="crispEdges"/>
<path d="M701.50 106.85 701.50 115.88M701.50 106.85 706.93 106.85M701.50 111.15 704.84 111.15M709.01 106.85 709.01 115.88M709.01 106.85 712.77 106.85 714.03 107.28 714.44 107.71 714.86 108.57 714.86 109.43 714.44 110.29 714.03 110.72 712.77 111.15 709.01 111.15M711.94 111.15 714.86 115.88M723.21 106.85 717.37 115.88M717.37 106.85 723.21 106.85M717.37 115.88 723.21 115.88M726.55 109.86 726.13 110.29 726.55 110.72 726.97 110.29 726.55 109.86M726.55 115.02 726.13 115.45 726.55 115.88 726.97 115.45 726.55 115.02M734.90 106.85 730.73 106.85 730.31 110.72 730.73 110.29 731.98 109.86 733.23 109.86 734.48 110.29 735.32 111.15 735.74 112.44 735.74 113.30 735.32 114.59 734.48 115.45 733.23 115.88 731.98 115.88 730.73 115.45 730.31 115.02 729.89 114.16M743.67 108.14 743.25 107.28 742.00 106.85 741.16 106.85 739.91 107.28 739.08 108.57 738.66 110.72 738.66 112.87 739.08 114.59 739.91 115.45 741.16 115.88 741.58 115.88 742.83 115.45 743.67 114.59 744.09 113.30 744.09 112.87 743.67 111.58 742.83 110.72 741.58 110.29 741.16 110.29 739.91 110.72 739.08 111.58 738.66 112.87M747.01 109.00 747.01 108.57 747.43 107.71 747.84 107.28 748.68 106.85 750.35 106.85 751.18 107.28 751.60 107.71 752.02 108.57 752.02 109.43 751.60 110.29 750.76 111.58 746.59 115.88 752.44 115.88" fill="none" stroke="#000" stroke-width="1" stroke-linecap="square" stroke-linejoin="miter" shape-rendering="crispEdges"/>
<path d="M701.50 122.54 703.59 131.57M705.67 122.54 703.59 131.57M705.67 122.54 707.76 131.57M709.85 122.54 707.76 131.57M712.36 122.54 712.36 131.57M712.36 122.54 716.11 122.54 717.37 122.97 717.78 123.40 718.20 124.26 718.20 125.12 717.78 125.98 717.37 126.41 716.11 126.84M712.36 126.84 716.11 126.84 717.37 127.27 717.78 127.70 718.20 128.56 718.20 129.85 717.78 130.71 717.37 131.14 716.11 131.57 712.36 131.57M723.21 122.54 721.96 122.97 721.12 124.26 720.70 126.41 720.70 127.70 721.12 129.85 721.96 131.14 723.21 131.57 724.04 131.57 725.30 131.14 726.13 129.85 726.55 127.70 726.55 126.41 726.13 124.26 725.30 122.97 724.04 122.54 723.21 122.54M729.89 125.55 729.47 125.98 729.89 126.41 730.31 125.98 729.89 125.55M729.89 130.71 729.47 131.14 729.89 131.57 730.31 131.14 729.89 130.71M738.24 122.54 734.06 122.54 733.65 126.41 734.06 125.98 735.32 125.55 736.57 125.55 737.82 125.98 738.66 126.84 739.07 128.13 739.07 128.99 738.66 130.28 737.82 131.14 736.57 131.57 735.32 131.57 734.06 131.14 733.65 130.71 733.23 129.85M745.75 122.54 741.58 128.56 747.84 128.56M745.75 122.54 745.75 131.57M754.94 122.54 750.76 122.54 750.35 126.41 750.76 125.98 752.02 125.55 753.27 125.55 754.52 125.98 755.36 126.84 755.77 128.13 755.77 128.99 755.36 130.28 754.52 131.14 753.27 131.57 752.02 131.57 750.76 131.14 750.35 130.71 749.93 129.85" fill="none" stroke="#000" stroke-width="1" stroke-linecap="square" stroke-linejoin="miter" shape-rendering="crispEdges"/>
<path d="M701.50 138.23 701.50 147.26M701.50 138.23 705.26 138.23 706.51 138.66 706.93 139.09 707.35 139.95 707.35 141.24 706.93 142.10 706.51 142.53 705.26 142.96 701.50 142.96M709.43 138.23 711.52 147.26M713.61 138.23 711.52 147.26M713.61 138.23 715.70 147.26M717.78 138.23 715.70 147.26M720.71 141.24 720.29 141.67 720.71 142.10 721.12 141.67 720.71 141.24M720.71 146.40 720.29 146.83 720.71 147.26 721.12 146.83 720.71 146.40M724.88 138.23 729.47 138.23 726.97 141.67 728.22 141.67 729.06 142.10 729.47 142.53 729.89 143.82 729.89 144.68 729.47 145.97 728.64 146.83 727.38 147.26 726.13 147.26 724.88 146.83 724.46 146.40 724.05 145.54M733.23 138.23 737.82 138.23 735.32 141.67 736.57 141.67 737.41 142.10 737.82 142.53 738.24 143.82 738.24 144.68 737.82 145.97 736.99 146.83 735.74 147.26 734.48 147.26 733.23 146.83 732.81 146.40 732.39 145.54M741.58 146.40 741.16 146.83 741.58 147.26 742.00 146.83 741.58 146.40M750.35 139.52 749.93 138.66 748.68 138.23 747.84 138.23 746.59 138.66 745.75 139.95 745.34 142.10 745.34 144.25 745.75 145.97 746.59 146.83 747.84 147.26 748.26 147.26 749.51 146.83 750.35 145.97 750.76 144.68 750.76 144.25 750.35 142.96 749.51 142.10 748.26 141.67 747.84 141.67 746.59 142.10 745.75 142.96 745.34 144.25M754.11 138.23 758.70 138.23 756.19 141.67 757.45 141.67 758.28 142.10 758.70 142.53 759.12 143.82 759.12 144.68 758.70 145.97 757.86 146.83 756.61 147.26 755.36 147.26 754.11 146.83 753.69 146.40 753.27 145.54" fill="none" stroke="#000" stroke-width="1" stroke-linecap="square" stroke-linejoin="miter" shape-rendering="crispEdges"/>
<path d="M701.50 153.92 701.50 162.95M701.50 153.92 705.26 153.92 706.51 154.35 706.93 154.78 707.35 155.64 707.35 156.50 706.93 157.36 706.51 157.79 705.26 158.22 701.50 158.22M704.42 158.22 707.35 162.95M710.27 153.92 710.27 162.95M716.11 153.92 716.11 162.95M710.27 158.22 716.11 158.22M719.87 156.93 719.45 157.36 719.87 157.79 720.29 157.36 719.87 156.93M719.87 162.09 719.45 162.52 719.87 162.95 720.29 162.52 719.87 162.09M729.06 153.92 724.88 162.95M723.21 153.92 729.06 153.92M736.99 155.21 736.57 154.35 735.32 153.92 734.48 153.92 733.23 154.35 732.39 155.64 731.98 157.79 731.98 159.94 732.39 161.66 733.23 162.52 734.48 162.95 734.90 162.95 736.15 162.52 736.99 161.66 737.41 160.37 737.41 159.94 736.99 158.65 736.15 157.79 734.90 157.36 734.48 157.36 733.23 157.79 732.39 158.65 731.98 159.94M740.75 162.09 740.33 162.52 740.75 162.95 741.16 162.52 740.75 162.09M746.59 153.92 745.34 154.35 744.50 155.64 744.09 157.79 744.09 159.08 744.50 161.23 745.34 162.52 746.59 162.95 747.43 162.95 748.68 162.52 749.51 161.23 749.93 159.08 749.93 157.79 749.51 155.64 748.68 154.35 747.43 153.92 746.59 153.92" fill="none" stroke="#000" stroke-width="1" stroke-linecap="square" stroke-linejoin="miter" shape-rendering="crispEdges"/>
<path d="M701.50 169.61 701.50 178.64M701.50 169.61 704.84 178.64M708.18 169.61 704.84 178.64M708.18 169.61 708.18 178.64M713.61 169.61 710.27 178.64M713.61 169.61 716.95 178.64M711.52 175.63 715.70 175.63M718.62 169.61 724.46 178.64M724.46 169.61 718.62 178.64M729.06 169.61 729.06 178.64M726.13 169.61 731.98 169.61M734.48 172.62 734.07 173.05 734.48 173.48 734.90 173.05 734.48 172.62M734.48 177.78 734.07 178.21 734.48 178.64 734.90 178.21 734.48 177.78M738.66 169.61 743.25 169.61 740.75 173.05 742.00 173.05 742.83 173.48 743.25 173.91 743.67 175.20 743.67 176.06 743.25 177.35 742.42 178.21 741.16 178.64 739.91 178.64 738.66 178.21 738.24 177.78 737.82 176.92M747.43 171.33 748.26 170.90 749.51 169.61 749.51 178.64M755.36 177.78 754.94 178.21 755.36 178.64 755.78 178.21 755.36 177.78M759.53 169.61 764.12 169.61 761.62 173.05 762.87 173.05 763.71 173.48 764.12 173.91 764.54 175.20 764.54 176.06 764.12 177.35 763.29 178.21 762.04 178.64 760.79 178.64 759.53 178.21 759.12 177.78 758.70 176.92" fill="none" stroke="#000" stroke-width="1" stroke-linecap="square" stroke-linejoin="miter" shape-rendering="crispEdges"/>
<path d="M704.42 185.30 704.42 194.33M701.50 185.30 707.35 185.30M709.43 185.30 709.43 194.33M715.28 185.30 715.28 194.33M709.43 189.60 715.28 189.60M719.03 188.31 718.62 188.74 719.03 189.17 719.45 188.74 719.03 188.31M719.03 193.47 718.62 193.90 719.03 194.33 719.45 193.90 719.03 193.47M727.38 185.30 723.21 185.30 722.79 189.17 723.21 188.74 724.46 188.31 725.72 188.31 726.97 188.74 727.80 189.60 728.22 190.89 728.22 191.75 727.80 193.04 726.97 193.90 725.72 194.33 724.46 194.33 723.21 193.90 722.79 193.47 722.38 192.61M734.90 185.30 730.73 191.32 736.99 191.32M734.90 185.30 734.90 194.33M744.50 186.59 744.09 185.73 742.83 185.30 742.00 185.30 740.75 185.73 739.91 187.02 739.49 189.17 739.49 191.32 739.91 193.04 740.75 193.90 742.00 194.33 742.41 194.33 743.67 193.90 744.50 193.04 744.92 191.75 744.92 191.32 744.50 190.03 743.67 189.17 742.41 188.74 742.00 188.74 740.75 189.17 739.91 190.03 739.49 191.32M748.26 185.30 752.85 185.30 750.35 188.74 751.60 188.74 752.43 189.17 752.85 189.60 753.27 190.89 753.27 191.75 752.85 193.04 752.02 193.90 750.76 194.33 749.51 194.33 748.26 193.90 747.84 193.47 747.42 192.61" fill="none" stroke="#000" stroke-width="1" stroke-linecap="square" stroke-linejoin="miter" shape-rendering="crispEdges"/>
<path d="M701.50 200.99 701.50 210.02M701.50 210.02 706.51 210.02M713.19 200.99 709.01 200.99 708.60 204.86 709.01 204.43 710.27 204.00 711.52 204.00 712.77 204.43 713.61 205.29 714.03 206.58 714.03 207.44 713.61 208.73 712.77 209.59 711.52 210.02 710.27 210.02 709.01 209.59 708.60 209.16 708.18 208.30M722.38 200.99 718.20 210.02M716.53 200.99 722.38 200.99M725.72 204.00 725.30 204.43 725.72 204.86 726.13 204.43 725.72 204.00M725.72 209.16 725.30 209.59 725.72 210.02 726.13 209.59 725.72 209.16M734.48 202.28 734.07 201.42 732.81 200.99 731.98 200.99 730.73 201.42 729.89 202.71 729.47 204.86 729.47 207.01 729.89 208.73 730.73 209.59 731.98 210.02 732.39 210.02 733.65 209.59 734.48 208.73 734.90 207.44 734.90 207.01 734.48 205.72 733.65 204.86 732.39 204.43 731.98 204.43 730.73 204.86 729.89 205.72 729.47 207.01M738.24 209.16 737.82 209.59 738.24 210.02 738.66 209.59 738.24 209.16M742.00 203.14 742.00 202.71 742.42 201.85 742.83 201.42 743.67 200.99 745.34 200.99 746.17 201.42 746.59 201.85 747.01 202.71 747.01 203.57 746.59 204.43 745.75 205.72 741.58 210.02 747.43 210.02" fill="none" stroke="#000" stroke-width="1" stroke-linecap="square" stroke-linejoin="miter" shape-rendering="crispEdges"/>
<path d="M701.50 216.68 701.50 225.71M701.50 225.71 706.51 225.71M714.44 218.83 714.03 217.97 713.19 217.11 712.36 216.68 710.69 216.68 709.85 217.11 709.01 217.97 708.60 218.83 708.18 220.12 708.18 222.27 708.60 223.56 709.01 224.42 709.85 225.28 710.69 225.71 712.36 225.71 713.19 225.28 714.03 224.42 714.44 223.56M717.37 216.68 717.37 225.71M717.37 225.71 722.38 225.71M724.88 219.69 724.46 220.12 724.88 220.55 725.30 220.12 724.88 219.69M724.88 224.85 724.46 225.28 724.88 225.71 725.30 225.28 724.88 224.85M733.65 219.69 733.23 220.98 732.39 221.84 731.14 222.27 730.73 222.27 729.47 221.84 728.64 220.98 728.22 219.69 728.22 219.26 728.64 217.97 729.47 217.11 730.73 216.68 731.14 216.68 732.39 217.11 733.23 217.97 733.65 219.69 733.65 221.84 733.23 223.99 732.39 225.28 731.14 225.71 730.31 225.71 729.06 225.28 728.64 224.42M742.42 216.68 738.24 225.71M736.57 216.68 742.42 216.68M745.34 218.83 745.34 218.40 745.75 217.54 746.17 217.11 747.01 216.68 748.68 216.68 749.51 217.11 749.93 217.54 750.35 218.40 750.35 219.26 749.93 220.12 749.10 221.41 744.92 225.71 750.76 225.71" fill="none" stroke="#000" stroke-width="1" stroke-linecap="square" stroke-linejoin="miter" shape-rendering="crispEdges"/>
<path d="M701.50 232.37 701.50 241.40M701.50 241.40 706.51 241.40M708.60 232.37 708.60 241.40M712.36 235.38 711.94 235.81 712.36 236.24 712.77 235.81 712.36 235.38M712.36 240.54 711.94 240.97 712.36 241.40 712.77 240.97 712.36 240.54M715.28 237.53 724.46 237.53M730.73 232.37 726.55 238.39 732.81 238.39M730.73 232.37 730.73 241.40M735.74 240.54 735.32 240.97 735.74 241.40 736.15 240.97 735.74 240.54M740.33 234.09 741.16 233.66 742.42 232.37 742.42 241.40" fill="none" stroke="#000" stroke-width="1" stroke-linecap="square" stroke-linejoin="miter" shape-rendering="crispEdges"/>
<path d="M707.34 249.35 706.51 248.49 705.26 248.06 703.59 248.06 702.33 248.49 701.50 249.35 701.50 250.21 701.92 251.07 702.33 251.50 703.17 251.93 705.67 252.79 706.51 253.22 706.93 253.65 707.34 254.51 707.34 255.80 706.51 256.66 705.26 257.09 703.59 257.09 702.33 256.66 701.50 255.80M710.27 248.06 710.27 257.09M714.02 251.07 713.61 251.50 714.02 251.93 714.44 251.50 714.02 251.07M714.02 256.23 713.61 256.66 714.02 257.09 714.44 256.66 714.02 256.23M718.62 249.78 719.45 249.35 720.70 248.06 720.70 257.09M726.55 256.23 726.13 256.66 726.55 257.09 726.97 256.66 726.55 256.23M731.14 249.78 731.98 249.35 733.23 248.06 733.23 257.09" fill="none" stroke="#000" stroke-width="1" stroke-linecap="square" stroke-linejoin="miter" shape-rendering="crispEdges"/>
<path d="M704.42 263.75 704.42 272.78M701.50 263.75 707.35 263.75M711.10 263.75 711.10 272.78M708.18 263.75 714.02 263.75M716.53 266.76 716.11 267.19 716.53 267.62 716.95 267.19 716.53 266.76M716.53 271.92 716.11 272.35 716.53 272.78 716.95 272.35 716.53 271.92M724.04 263.75 719.87 269.77 726.13 269.77M724.04 263.75 724.04 272.78M728.64 265.90 728.64 265.47 729.05 264.61 729.47 264.18 730.31 263.75 731.98 263.75 732.81 264.18 733.23 264.61 733.65 265.47 733.65 266.33 733.23 267.19 732.39 268.48 728.22 272.78 734.06 272.78M737.40 271.92 736.99 272.35 737.40 272.78 737.82 272.35 737.40 271.92M741.58 263.75 746.17 263.75 743.67 267.19 744.92 267.19 745.75 267.62 746.17 268.05 746.59 269.34 746.59 270.20 746.17 271.49 745.34 272.35 744.09 272.78 742.83 272.78 741.58 272.35 741.16 271.92 740.75 271.06" fill="none" stroke="#000" stroke-width="1" stroke-linecap="square" stroke-linejoin="miter" shape-rendering="crispEdges"/>
<path d="M701.50 279.44 701.50 288.47M707.35 279.44 701.50 285.46M703.59 283.31 707.35 288.47M710.27 279.44 710.27 288.47M714.03 282.45 713.61 282.88 714.03 283.31 714.44 282.88 714.03 282.45M714.03 287.61 713.61 288.04 714.03 288.47 714.44 288.04 714.03 287.61M718.20 279.44 722.79 279.44 720.29 282.88 721.54 282.88 722.38 283.31 722.79 283.74 723.21 285.03 723.21 285.89 722.79 287.18 721.96 288.04 720.71 288.47 719.45 288.47 718.20 288.04 717.78 287.61 717.37 286.75M728.22 279.44 726.97 279.87 726.13 281.16 725.72 283.31 725.72 284.60 726.13 286.75 726.97 288.04 728.22 288.47 729.06 288.47 730.31 288.04 731.14 286.75 731.56 284.60 731.56 283.31 731.14 281.16 730.31 279.87 729.06 279.44 728.22 279.44M738.24 279.44 734.07 285.46 740.33 285.46M738.24 279.44 738.24 288.47" fill="none" stroke="#000" stroke-width="1" stroke-linecap="square" stroke-linejoin="miter" shape-rendering="crispEdges"/>
<path d="M707.34 296.42 706.51 295.56 705.26 295.13 703.59 295.13 702.33 295.56 701.50 296.42 701.50 297.28 701.92 298.14 702.33 298.57 703.17 299.00 705.67 299.86 706.51 300.29 706.93 300.72 707.34 301.58 707.34 302.87 706.51 303.73 705.26 304.16 703.59 304.16 702.33 303.73 701.50 302.87M709.43 295.13 711.52 304.16M713.61 295.13 711.52 304.16M713.61 295.13 715.69 304.16M717.78 295.13 715.69 304.16M720.70 298.14 720.29 298.57 720.70 299.00 721.12 298.57 720.70 298.14M720.70 303.30 720.29 303.73 720.70 304.16 721.12 303.73 720.70 303.30M724.46 295.13 724.46 304.16M724.46 295.13 730.31 304.16M730.31 295.13 730.31 304.16M740.33 293.41 732.81 307.17M744.92 295.13 741.58 304.16M744.92 295.13 748.26 304.16M742.83 301.15 747.01 301.15" fill="none" stroke="#000" stroke-width="1" stroke-linecap="square" stroke-linejoin="miter" shape-rendering="crispEdges"/>
<path d="M703.00 310.82 703.00 319.85M703.00 310.82 708.43 310.82M703.00 315.12 706.34 315.12M703.00 319.85 708.43 319.85M710.93 310.82 710.93 319.85M714.69 313.83 714.27 314.26 714.69 314.69 715.11 314.26 714.69 313.83M714.69 318.99 714.27 319.42 714.69 319.85 715.11 319.42 714.69 318.99M720.54 310.82 719.28 311.25 718.45 312.54 718.03 314.69 718.03 315.98 718.45 318.13 719.28 319.42 720.54 319.85 721.37 319.85 722.62 319.42 723.46 318.13 723.88 315.98 723.88 314.69 723.46 312.54 722.62 311.25 721.37 310.82 720.54 310.82M727.22 318.99 726.80 319.42 727.22 319.85 727.63 319.42 727.22 318.99M730.97 312.97 730.97 312.54 731.39 311.68 731.81 311.25 732.64 310.82 734.31 310.82 735.15 311.25 735.57 311.68 735.98 312.54 735.98 313.40 735.57 314.26 734.73 315.55 730.56 319.85 736.40 319.85" fill="none" stroke="#000" stroke-width="1" stroke-linecap="square" stroke-linejoin="miter" shape-rendering="crispEdges"/>
<path d="M699.50 331.67 708.68 331.67M711.19 326.51 711.19 335.54M711.19 326.51 714.95 326.51 716.20 326.94 716.62 327.37 717.03 328.23 717.03 329.52 716.62 330.38 716.20 330.81 714.95 331.24 711.19 331.24M722.04 326.51 718.70 335.54M722.04 326.51 725.38 335.54M719.96 332.53 724.13 332.53M727.47 326.51 727.47 335.54M727.47 326.51 731.23 326.51 732.48 326.94 732.90 327.37 733.32 328.23 733.32 329.09 732.90 329.95 732.48 330.38 731.23 330.81 727.47 330.81M730.39 330.81 733.32 335.54M742.08 328.66 741.67 327.80 740.83 326.94 740.00 326.51 738.33 326.51 737.49 326.94 736.66 327.80 736.24 328.66 735.82 329.95 735.82 332.10 736.24 333.39 736.66 334.25 737.49 335.11 738.33 335.54 740.00 335.54 740.83 335.11 741.67 334.25 742.08 333.39M745.01 326.51 745.01 335.54M745.01 326.51 750.43 326.51M745.01 330.81 748.35 330.81M745.01 335.54 750.43 335.54M752.94 326.51 752.94 335.54M752.94 335.54 757.95 335.54M759.20 331.67 768.39 331.67" fill="none" stroke="#000" stroke-width="1" stroke-linecap="square" stroke-linejoin="miter" shape-rendering="crispEdges"/>
<path d="M705.76 344.35 705.34 343.49 704.51 342.63 703.67 342.20 702.00 342.20 701.17 342.63 700.33 343.49 699.92 344.35 699.50 345.64 699.50 347.79 699.92 349.08 700.33 349.94 701.17 350.80 702.00 351.23 703.67 351.23 704.51 350.80 705.34 349.94 705.76 349.08M710.77 342.20 707.43 351.23M710.77 342.20 714.11 351.23M708.68 348.22 712.86 348.22M716.20 342.20 716.20 351.23M716.20 342.20 719.96 342.20 721.21 342.63 721.63 343.06 722.04 343.92 722.04 345.21 721.63 346.07 721.21 346.50 719.96 346.93 716.20 346.93M724.97 342.20 724.97 351.23M724.97 342.20 730.39 342.20M724.97 346.50 728.31 346.50M724.97 351.23 730.39 351.23M733.32 345.21 732.90 345.64 733.32 346.07 733.73 345.64 733.32 345.21M733.32 350.37 732.90 350.80 733.32 351.23 733.73 350.80 733.32 350.37M737.91 343.92 738.74 343.49 740.00 342.20 740.00 351.23M750.85 342.20 746.68 351.23M745.01 342.20 750.85 342.20M754.61 343.92 755.44 343.49 756.70 342.20 756.70 351.23M766.72 342.20 762.54 342.20 762.12 346.07 762.54 345.64 763.79 345.21 765.05 345.21 766.30 345.64 767.13 346.50 767.55 347.79 767.55 348.65 767.13 349.94 766.30 350.80 765.05 351.23 763.79 351.23 762.54 350.80 762.12 350.37 761.71 349.51" fill="none" stroke="#000" stroke-width="1" stroke-linecap="square" stroke-linejoin="miter" shape-rendering="crispEdges"/>
<path d="M707.76 360.04 707.34 359.18 706.51 358.32 705.67 357.89 704.00 357.89 703.17 358.32 702.33 359.18 701.92 360.04 701.50 361.33 701.50 363.48 701.92 364.77 702.33 365.63 703.17 366.49 704.00 366.92 705.67 366.92 706.51 366.49 707.34 365.63 707.76 364.77M710.68 357.89 710.68 366.92M714.02 357.89 714.02 366.92M714.02 357.89 719.87 366.92M719.87 357.89 719.87 366.92M723.21 357.89 723.21 366.92M729.05 357.89 729.05 366.92M723.21 362.19 729.05 362.19M732.81 360.90 732.39 361.33 732.81 361.76 733.23 361.33 732.81 360.90M732.81 366.06 732.39 366.49 732.81 366.92 733.23 366.49 732.81 366.06M737.40 359.61 738.24 359.18 739.49 357.89 739.49 366.92M744.92 360.04 744.92 359.61 745.34 358.75 745.75 358.32 746.59 357.89 748.26 357.89 749.09 358.32 749.51 358.75 749.93 359.61 749.93 360.47 749.51 361.33 748.68 362.62 744.50 366.92 750.35 366.92" fill="none" stroke="#000" stroke-width="1" stroke-linecap="square" stroke-linejoin="miter" shape-rendering="crispEdges"/>
<path d="M701.50 373.58 701.50 382.61M701.50 382.61 706.51 382.61M714.44 375.73 714.03 374.87 713.19 374.01 712.36 373.58 710.69 373.58 709.85 374.01 709.01 374.87 708.60 375.73 708.18 377.02 708.18 379.17 708.60 380.46 709.01 381.32 709.85 382.18 710.69 382.61 712.36 382.61 713.19 382.18 714.03 381.32 714.44 380.46M717.37 373.58 717.37 382.61M717.37 382.61 722.38 382.61M724.88 376.59 724.46 377.02 724.88 377.45 725.30 377.02 724.88 376.59M724.88 381.75 724.46 382.18 724.88 382.61 725.30 382.18 724.88 381.75M733.65 376.59 733.23 377.88 732.39 378.74 731.14 379.17 730.73 379.17 729.47 378.74 728.64 377.88 728.22 376.59 728.22 376.16 728.64 374.87 729.47 374.01 730.73 373.58 731.14 373.58 732.39 374.01 733.23 374.87 733.65 376.59 733.65 378.74 733.23 380.89 732.39 382.18 731.14 382.61 730.31 382.61 729.06 382.18 728.64 381.32M742.42 373.58 738.24 382.61M736.57 373.58 742.42 373.58M745.34 375.73 745.34 375.30 745.75 374.44 746.17 374.01 747.01 373.58 748.68 373.58 749.51 374.01 749.93 374.44 750.35 375.30 750.35 376.16 749.93 377.02 749.10 378.31 744.92 382.61 750.76 382.61" fill="none" stroke="#000" stroke-width="1" stroke-linecap="square" stroke-linejoin="miter" shape-rendering="crispEdges"/>
<path d="M707.76 391.42 707.34 390.56 706.51 389.70 705.67 389.27 704.00 389.27 703.17 389.70 702.33 390.56 701.92 391.42 701.50 392.71 701.50 394.86 701.92 396.15 702.33 397.01 703.17 397.87 704.00 398.30 705.67 398.30 706.51 397.87 707.34 397.01 707.76 396.15M712.77 389.27 709.43 398.30M712.77 389.27 716.11 398.30M710.68 395.29 714.86 395.29M718.20 389.27 718.20 398.30M718.20 389.27 721.96 389.27 723.21 389.70 723.63 390.13 724.04 390.99 724.04 392.28 723.63 393.14 723.21 393.57 721.96 394.00 718.20 394.00M727.38 392.28 726.97 392.71 727.38 393.14 727.80 392.71 727.38 392.28M727.38 397.44 726.97 397.87 727.38 398.30 727.80 397.87 727.38 397.44M733.23 389.27 731.98 389.70 731.14 390.99 730.72 393.14 730.72 394.43 731.14 396.58 731.98 397.87 733.23 398.30 734.06 398.30 735.32 397.87 736.15 396.58 736.57 394.43 736.57 393.14 736.15 390.99 735.32 389.70 734.06 389.27 733.23 389.27M739.91 397.44 739.49 397.87 739.91 398.30 740.33 397.87 739.91 397.44M745.75 389.27 744.50 389.70 743.67 390.99 743.25 393.14 743.25 394.43 743.67 396.58 744.50 397.87 745.75 398.30 746.59 398.30 747.84 397.87 748.68 396.58 749.09 394.43 749.09 393.14 748.68 390.99 747.84 389.70 746.59 389.27 745.75 389.27" fill="none" stroke="#000" stroke-width="1" stroke-linecap="square" stroke-linejoin="miter" shape-rendering="crispEdges"/>
<path d="M701.50 404.96 701.50 413.99M701.50 413.99 706.51 413.99M708.60 404.96 708.60 413.99M708.60 404.96 714.03 404.96M708.60 409.26 711.94 409.26M721.96 407.11 721.54 406.25 720.71 405.39 719.87 404.96 718.20 404.96 717.37 405.39 716.53 406.25 716.11 407.11 715.70 408.40 715.70 410.55 716.11 411.84 716.53 412.70 717.37 413.56 718.20 413.99 719.87 413.99 720.71 413.56 721.54 412.70 721.96 411.84M725.30 407.97 724.88 408.40 725.30 408.83 725.72 408.40 725.30 407.97M725.30 413.13 724.88 413.56 725.30 413.99 725.72 413.56 725.30 413.13M734.07 407.97 733.65 409.26 732.81 410.12 731.56 410.55 731.14 410.55 729.89 410.12 729.06 409.26 728.64 407.97 728.64 407.54 729.06 406.25 729.89 405.39 731.14 404.96 731.56 404.96 732.81 405.39 733.65 406.25 734.07 407.97 734.07 410.12 733.65 412.27 732.81 413.56 731.56 413.99 730.73 413.99 729.47 413.56 729.06 412.70M737.82 404.96 742.42 404.96 739.91 408.40 741.16 408.40 742.00 408.83 742.42 409.26 742.83 410.55 742.83 411.41 742.42 412.70 741.58 413.56 740.33 413.99 739.08 413.99 737.82 413.56 737.41 413.13 736.99 412.27M750.35 404.96 746.17 404.96 745.75 408.83 746.17 408.40 747.43 407.97 748.68 407.97 749.93 408.40 750.76 409.26 751.18 410.55 751.18 411.41 750.76 412.70 749.93 413.56 748.68 413.99 747.43 413.99 746.17 413.56 745.75 413.13 745.34 412.27" fill="none" stroke="#000" stroke-width="1" stroke-linecap="square" stroke-linejoin="miter" shape-rendering="crispEdges"/>
<path d="M701.50 420.65 701.50 429.68M701.50 420.65 706.93 420.65M701.50 424.95 704.84 424.95M701.50 429.68 706.93 429.68M709.43 420.65 709.43 429.68M709.43 429.68 714.44 429.68M716.95 423.66 716.53 424.09 716.95 424.52 717.37 424.09 716.95 423.66M716.95 428.82 716.53 429.25 716.95 429.68 717.37 429.25 716.95 428.82M721.54 422.37 722.38 421.94 723.63 420.65 723.63 429.68M733.65 420.65 729.47 420.65 729.06 424.52 729.47 424.09 730.73 423.66 731.98 423.66 733.23 424.09 734.07 424.95 734.48 426.24 734.48 427.10 734.07 428.39 733.23 429.25 731.98 429.68 730.73 429.68 729.47 429.25 729.06 428.82 728.64 427.96M739.49 420.65 738.24 421.08 737.41 422.37 736.99 424.52 736.99 425.81 737.41 427.96 738.24 429.25 739.49 429.68 740.33 429.68 741.58 429.25 742.42 427.96 742.83 425.81 742.83 424.52 742.42 422.37 741.58 421.08 740.33 420.65 739.49 420.65" fill="none" stroke="#000" stroke-width="1" stroke-linecap="square" stroke-linejoin="miter" shape-rendering="crispEdges"/>
<path d="M701.50 436.34 701.50 445.37M701.50 436.34 704.84 445.37M708.18 436.34 704.84 445.37M708.18 436.34 708.18 445.37M711.52 436.34 711.52 445.37M711.52 436.34 715.28 436.34 716.53 436.77 716.95 437.20 717.37 438.06 717.37 439.35 716.95 440.21 716.53 440.64 715.28 441.07 711.52 441.07M720.29 436.34 720.29 445.37M720.29 445.37 725.30 445.37M727.80 439.35 727.38 439.78 727.80 440.21 728.22 439.78 727.80 439.35M727.80 444.51 727.38 444.94 727.80 445.37 728.22 444.94 727.80 444.51M732.39 438.06 733.23 437.63 734.48 436.34 734.48 445.37M742.00 436.34 740.75 436.77 739.91 438.06 739.49 440.21 739.49 441.50 739.91 443.65 740.75 444.94 742.00 445.37 742.83 445.37 744.09 444.94 744.92 443.65 745.34 441.50 745.34 440.21 744.92 438.06 744.09 436.77 742.83 436.34 742.00 436.34M749.10 438.06 749.93 437.63 751.18 436.34 751.18 445.37" fill="none" stroke="#000" stroke-width="1" stroke-linecap="square" stroke-linejoin="miter" shape-rendering="crispEdges"/>
<path d="M701.50 457.19 710.68 457.19M712.36 452.03 714.44 461.06M716.53 452.03 714.44 461.06M716.53 452.03 718.62 461.06M720.70 452.03 718.62 461.06M723.21 452.03 723.21 461.06M726.55 452.03 726.55 461.06M726.55 452.03 732.39 461.06M732.39 452.03 732.39 461.06M735.74 452.03 735.74 461.06M735.74 452.03 738.66 452.03 739.91 452.46 740.75 453.32 741.16 454.18 741.58 455.47 741.58 457.62 741.16 458.91 740.75 459.77 739.91 460.63 738.66 461.06 735.74 461.06M743.67 457.19 752.85 457.19" fill="none" stroke="#000" stroke-width="1" stroke-linecap="square" stroke-linejoin="miter" shape-rendering="crispEdges"/>
<path d="M704.00 467.72 704.00 476.75M704.00 467.72 709.85 476.75M709.85 467.72 709.85 476.75M715.27 467.72 714.44 468.15 713.60 469.01 713.19 469.87 712.77 471.16 712.77 473.31 713.19 474.60 713.60 475.46 714.44 476.32 715.27 476.75 716.94 476.75 717.78 476.32 718.61 475.46 719.03 474.60 719.45 473.31 719.45 471.16 719.03 469.87 718.61 469.01 717.78 468.15 716.94 467.72 715.27 467.72M724.04 467.72 724.04 476.75M721.12 467.72 726.96 467.72" fill="none" stroke="#000" stroke-width="1" stroke-linecap="square" stroke-linejoin="miter" shape-rendering="crispEdges"/>
<path d="M706.14 483.41 702.80 492.44M706.14 483.41 709.48 492.44M704.05 489.43 708.23 489.43M710.31 483.41 713.65 492.44M716.99 483.41 713.65 492.44M721.17 483.41 717.83 492.44M721.17 483.41 724.51 492.44M719.08 489.43 723.26 489.43M726.60 483.41 726.60 492.44M729.94 483.41 729.94 492.44M729.94 492.44 734.95 492.44" fill="none" stroke="#000" stroke-width="1" stroke-linecap="square" stroke-linejoin="miter" shape-rendering="crispEdges"/>
<path d="M136.35 523.60 135.87 524.56 136.11 525.76 137.07 527.21 137.79 527.93 139.24 528.89 140.44 529.13 141.40 528.65 141.88 528.17 142.36 527.21 142.12 526.01 141.16 524.56 140.44 523.84 138.99 522.88 137.79 522.64 136.83 523.12 136.35 523.60M144.76 524.32 144.76 524.80 145.25 524.80 145.25 524.32 144.76 524.32M143.80 518.07 144.04 517.35 144.04 515.91 149.09 520.96" fill="none" stroke="#6400a8" stroke-width="1" stroke-linecap="square" stroke-linejoin="miter" shape-rendering="crispEdges"/>
<path d="M182.63 524.32 182.15 525.28 182.39 526.49 183.35 527.93 184.07 528.65 185.51 529.61 186.72 529.85 187.68 529.37 188.16 528.89 188.64 527.93 188.40 526.73 187.44 525.28 186.72 524.56 185.27 523.60 184.07 523.36 183.11 523.84 182.63 524.32M191.04 525.04 191.04 525.52 191.52 525.52 191.52 525.04 191.04 525.04M189.84 519.51 189.60 519.27 189.36 518.55 189.36 518.07 189.60 517.35 190.56 516.39 191.28 516.15 191.76 516.15 192.49 516.39 192.97 516.87 193.21 517.59 193.45 518.79 193.45 523.60 196.81 520.24" fill="none" stroke="#6400a8" stroke-width="1" stroke-linecap="square" stroke-linejoin="miter" shape-rendering="crispEdges"/>
<path d="M247.63 523.82 247.15 524.78 247.39 525.99 248.35 527.43 249.07 528.15 250.51 529.11 251.72 529.35 252.68 528.87 253.16 528.39 253.64 527.43 253.40 526.23 252.44 524.78 251.72 524.06 250.27 523.10 249.07 522.86 248.11 523.34 247.63 523.82M256.04 524.54 256.04 525.02 256.52 525.02 256.52 524.54 256.04 524.54M256.28 515.17 253.88 517.57 255.80 519.98 255.80 519.49 256.28 518.53 257.01 517.81 257.97 517.33 258.93 517.33 259.89 517.81 260.37 518.29 260.85 519.25 260.85 520.22 260.37 521.18 259.65 521.90 258.69 522.38 258.21 522.38 257.49 522.14" fill="none" stroke="#6400a8" stroke-width="1" stroke-linecap="square" stroke-linejoin="miter" shape-rendering="crispEdges"/>
<path d="M305.34 522.04 305.58 521.32 305.58 519.87 310.63 524.92" fill="none" stroke="#6400a8" stroke-width="1" stroke-linecap="square" stroke-linejoin="miter" shape-rendering="crispEdges"/>
<path d="M334.91 526.37 335.15 525.64 335.15 524.20 340.20 529.25M343.08 525.40 343.08 525.88 343.56 525.88 343.56 525.40 343.08 525.40M343.32 516.03 340.92 518.43 342.84 520.84 342.84 520.36 343.32 519.39 344.04 518.67 345.01 518.19 345.97 518.19 346.93 518.67 347.41 519.15 347.89 520.12 347.89 521.08 347.41 522.04 346.69 522.76 345.73 523.24 345.25 523.24 344.53 523.00" fill="none" stroke="#6400a8" stroke-width="1" stroke-linecap="square" stroke-linejoin="miter" shape-rendering="crispEdges"/>
<path d="M362.54 523.12 362.29 522.88 362.05 522.16 362.05 521.68 362.29 520.96 363.26 519.99 363.98 519.75 364.46 519.75 365.18 519.99 365.66 520.48 365.90 521.20 366.14 522.40 366.14 527.21 369.51 523.84" fill="none" stroke="#6400a8" stroke-width="1" stroke-linecap="square" stroke-linejoin="miter" shape-rendering="crispEdges"/>
<path d="M396.57 522.18 399.22 519.53 399.70 522.90 400.42 522.18 401.14 521.94 401.62 521.94 402.58 522.42 403.06 522.90 403.55 523.86 403.55 524.82 403.06 525.78 402.34 526.51 401.38 526.99 400.90 526.99 400.18 526.75" fill="none" stroke="#6400a8" stroke-width="1" stroke-linecap="square" stroke-linejoin="miter" shape-rendering="crispEdges"/>
<path d="M425.58 519.87 426.54 525.64 430.14 522.04M425.58 519.87 430.63 524.92" fill="none" stroke="#6400a8" stroke-width="1" stroke-linecap="square" stroke-linejoin="miter" shape-rendering="crispEdges"/>
<path d="M465.32 519.87 464.60 519.63 463.64 520.12 463.16 520.60 462.67 521.56 462.92 522.76 463.88 524.20 465.08 525.40 466.28 526.13 467.24 526.13 468.20 525.64 468.44 525.40 468.93 524.44 468.93 523.48 468.44 522.52 468.20 522.28 467.24 521.80 466.28 521.80 465.32 522.28 465.08 522.52 464.60 523.48 464.60 524.44 465.08 525.40" fill="none" stroke="#6400a8" stroke-width="1" stroke-linecap="square" stroke-linejoin="miter" shape-rendering="crispEdges"/>
<path d="M490.99 520.36 490.51 521.32 490.75 522.04 491.24 522.52 491.96 522.76 492.68 522.52 493.88 521.80 494.84 521.32 495.80 521.32 496.52 521.56 497.25 522.28 497.49 523.00 497.49 523.48 497.01 524.44 496.04 525.41 495.08 525.89 494.60 525.89 493.88 525.65 493.16 524.92 492.92 524.20 492.92 523.24 493.40 522.28 494.12 521.08 494.36 520.36 494.12 519.64 493.64 519.15 492.92 518.91 491.96 519.39 490.99 520.36" fill="none" stroke="#6400a8" stroke-width="1" stroke-linecap="square" stroke-linejoin="miter" shape-rendering="crispEdges"/>
<path d="M511.21 524.56 511.45 523.84 511.45 522.40 516.50 527.45M515.78 518.07 515.30 519.03 515.54 520.24 516.50 521.68 517.22 522.40 518.66 523.36 519.87 523.60 520.83 523.12 521.31 522.64 521.79 521.68 521.55 520.48 520.59 519.03 519.87 518.31 518.42 517.35 517.22 517.11 516.26 517.59 515.78 518.07" fill="none" stroke="#6400a8" stroke-width="1" stroke-linecap="square" stroke-linejoin="miter" shape-rendering="crispEdges"/>
<path d="M530.51 524.56 530.75 523.84 530.75 522.40 535.80 527.45M535.08 520.48 534.84 520.24 534.60 519.52 534.60 519.03 534.84 518.31 535.80 517.35 536.52 517.11 537.00 517.11 537.72 517.35 538.20 517.83 538.44 518.55 538.68 519.76 538.68 524.56 542.05 521.20" fill="none" stroke="#6400a8" stroke-width="1" stroke-linecap="square" stroke-linejoin="miter" shape-rendering="crispEdges"/>
<path d="M553.71 524.56 553.95 523.84 553.95 522.40 559.00 527.45M559.72 516.63 557.32 519.03 559.24 521.44 559.24 520.96 559.72 520.00 560.44 519.27 561.40 518.79 562.37 518.79 563.33 519.27 563.81 519.76 564.29 520.72 564.29 521.68 563.81 522.64 563.09 523.36 562.13 523.84 561.64 523.84 560.92 523.60" fill="none" stroke="#6400a8" stroke-width="1" stroke-linecap="square" stroke-linejoin="miter" shape-rendering="crispEdges"/>
<path d="M584.33 526.02 584.09 525.78 583.85 525.06 583.85 524.58 584.09 523.86 585.05 522.90 585.77 522.66 586.25 522.66 586.98 522.90 587.46 523.38 587.70 524.10 587.94 525.30 587.94 530.11 591.30 526.75M589.14 518.81 588.66 519.77 588.90 520.98 589.86 522.42 590.58 523.14 592.02 524.10 593.23 524.34 594.19 523.86 594.67 523.38 595.15 522.42 594.91 521.22 593.95 519.77 593.23 519.05 591.78 518.09 590.58 517.85 589.62 518.33 589.14 518.81" fill="none" stroke="#6400a8" stroke-width="1" stroke-linecap="square" stroke-linejoin="miter" shape-rendering="crispEdges"/>
<path d="M609.13 525.52 608.89 525.28 608.65 524.56 608.65 524.08 608.89 523.36 609.85 522.40 610.57 522.16 611.05 522.16 611.78 522.40 612.26 522.88 612.50 523.60 612.74 524.80 612.74 529.61 616.10 526.25M615.38 516.87 612.98 519.27 614.90 521.68 614.90 521.20 615.38 520.24 616.10 519.51 617.06 519.03 618.03 519.03 618.99 519.51 619.47 519.99 619.95 520.96 619.95 521.92 619.47 522.88 618.75 523.60 617.79 524.08 617.31 524.08 616.58 523.84" fill="none" stroke="#6400a8" stroke-width="1" stroke-linecap="square" stroke-linejoin="miter" shape-rendering="crispEdges"/>
<path d="M628.87 522.58 631.51 519.94 631.99 523.30 632.72 522.58 633.44 522.34 633.92 522.34 634.88 522.82 635.36 523.30 635.84 524.26 635.84 525.23 635.36 526.19 634.64 526.91 633.68 527.39 633.20 527.39 632.48 527.15M634.64 516.81 634.16 517.77 634.40 518.98 635.36 520.42 636.08 521.14 637.52 522.10 638.73 522.34 639.69 521.86 640.17 521.38 640.65 520.42 640.41 519.22 639.45 517.77 638.73 517.05 637.28 516.09 636.08 515.85 635.12 516.33 634.64 516.81" fill="none" stroke="#6400a8" stroke-width="1" stroke-linecap="square" stroke-linejoin="miter" shape-rendering="crispEdges"/>
</svg></body></html>
